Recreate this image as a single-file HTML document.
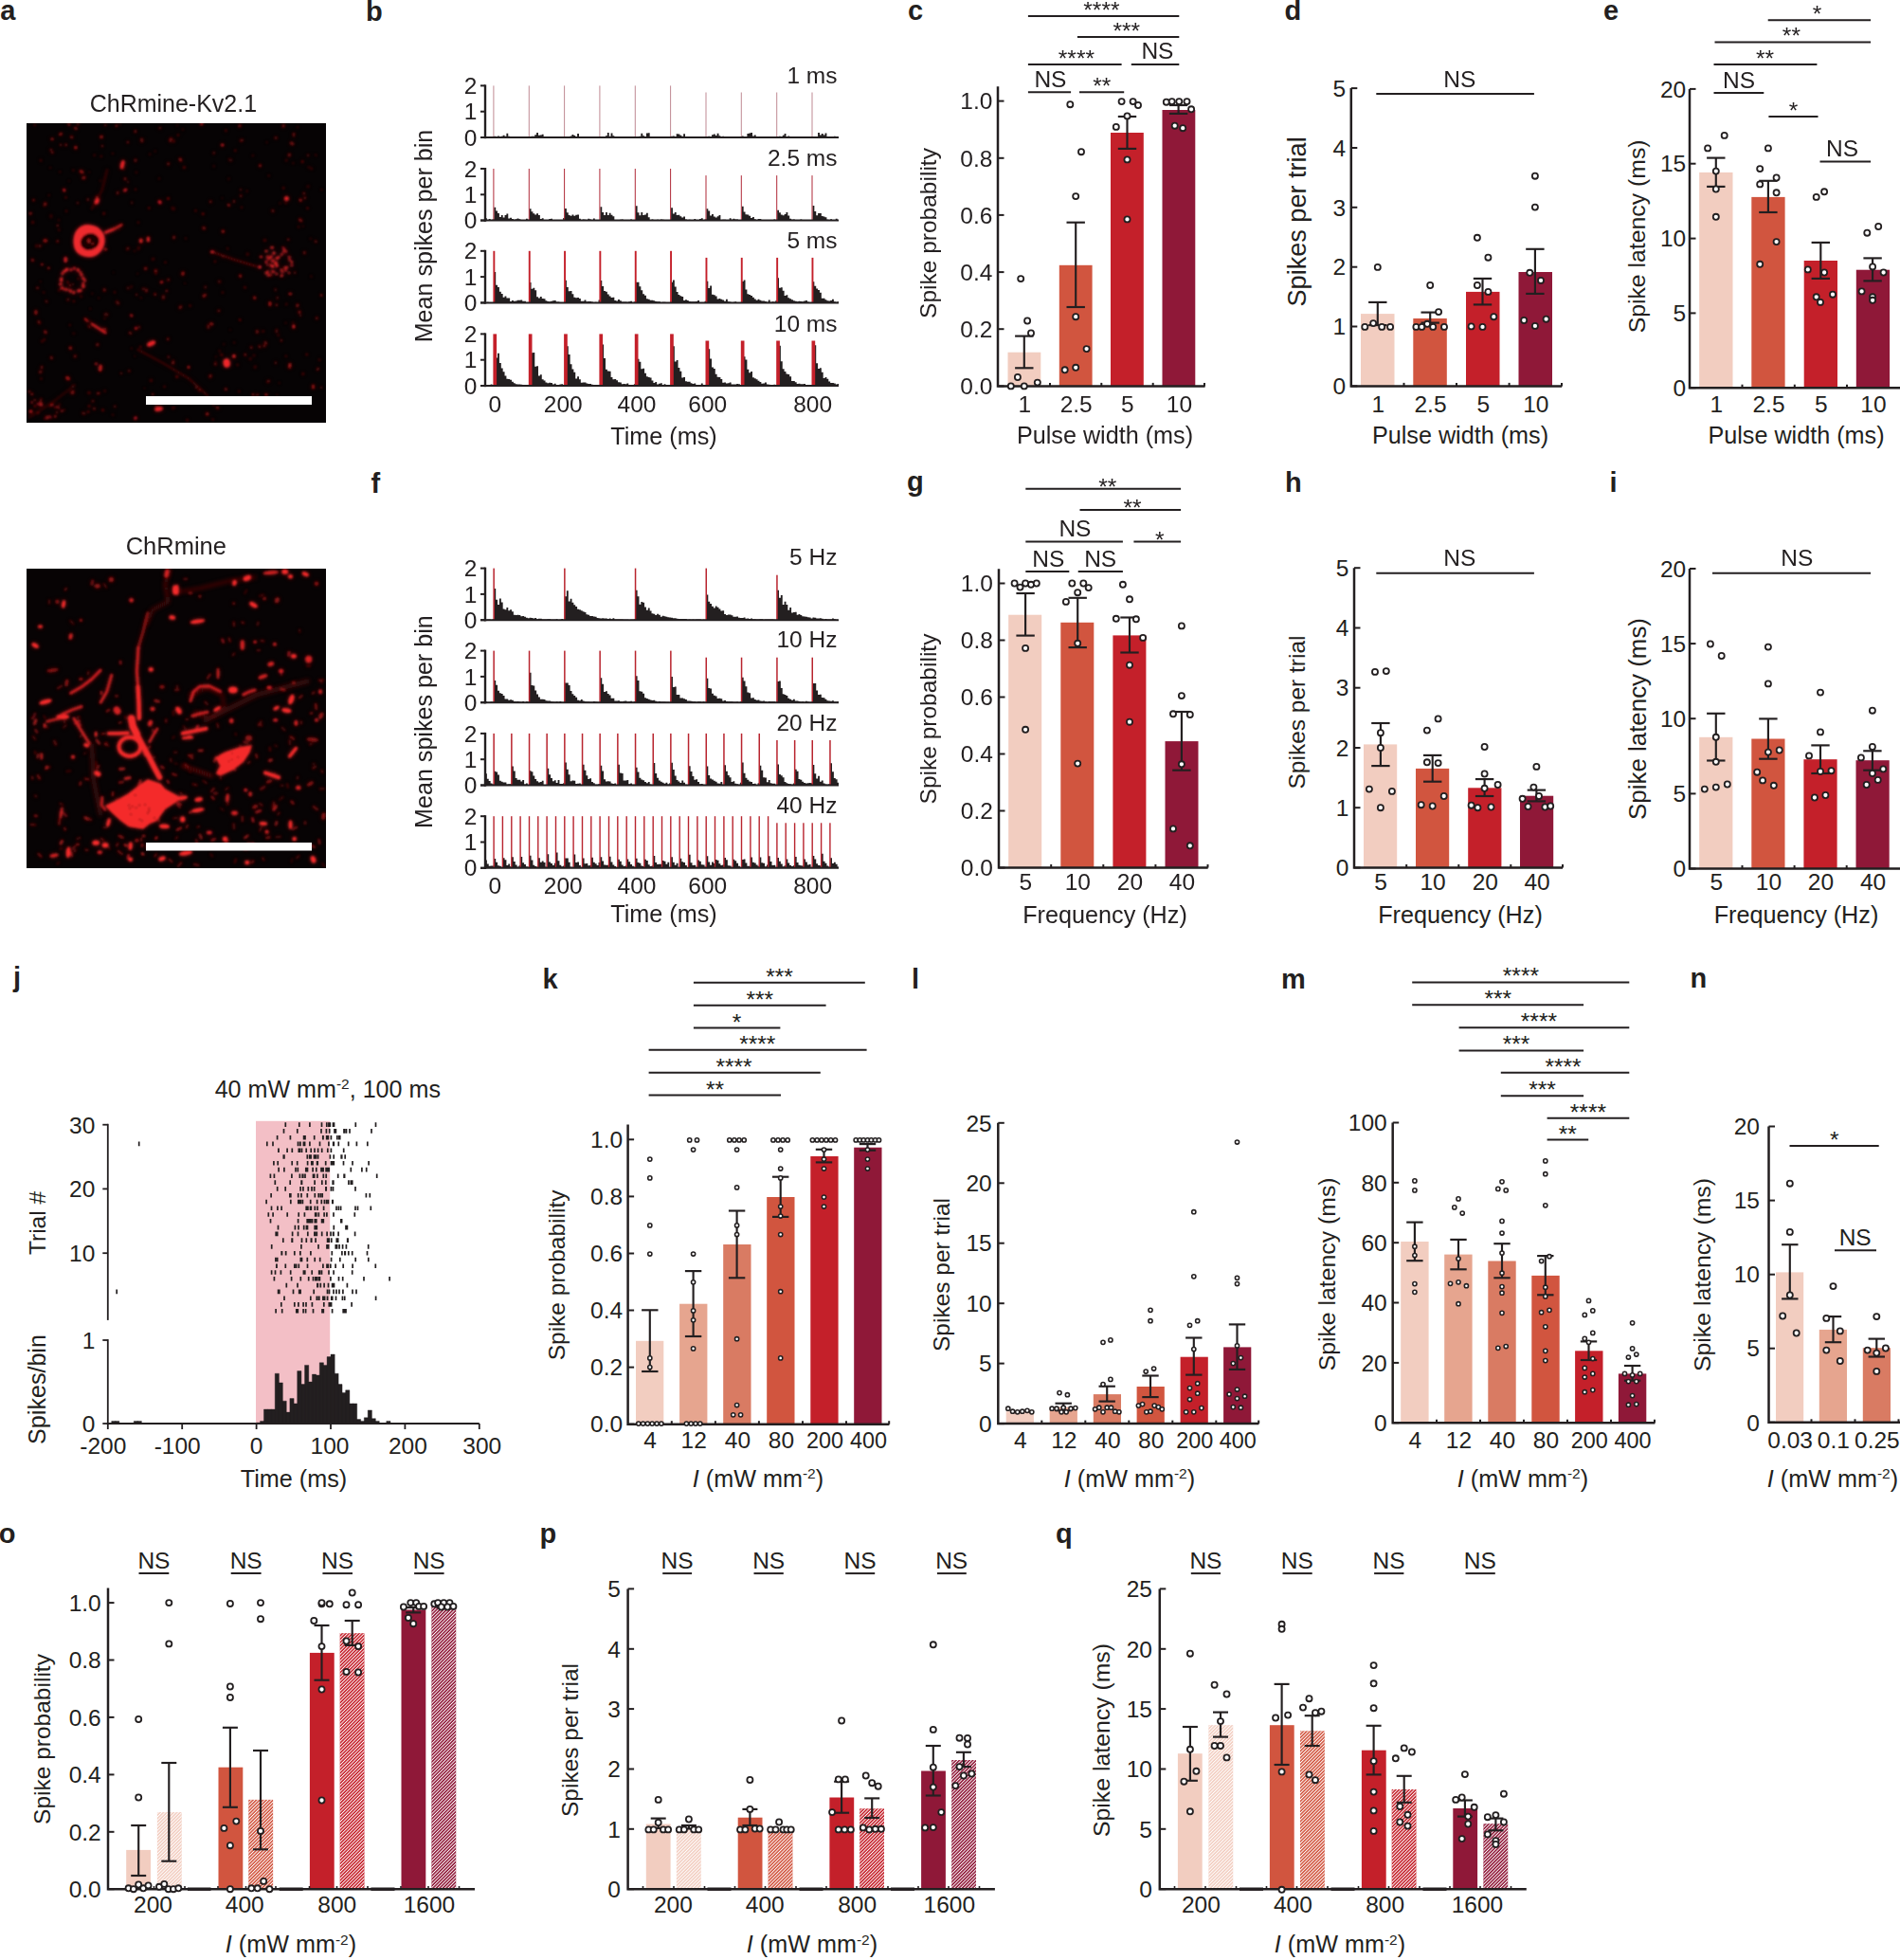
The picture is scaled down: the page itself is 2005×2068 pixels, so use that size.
<!DOCTYPE html>
<html><head><meta charset="utf-8"><title>Figure</title><style>html,body{margin:0;padding:0;background:#fff}svg{display:block}</style></head><body>
<svg width="2005" height="2068" viewBox="0 0 2005 2068" font-family="Liberation Sans, Arial, Helvetica, sans-serif" fill="#231f20">
<defs><pattern id="hatch" width="2.5" height="2.5" patternUnits="userSpaceOnUse" patternTransform="rotate(45)"><rect x="0" y="0" width="0.95" height="2.5" fill="#fff"/></pattern><filter id="bl" x="-5%" y="-5%" width="110%" height="110%"><feGaussianBlur stdDeviation="1.05"/></filter><filter id="bl2" x="-5%" y="-5%" width="110%" height="110%"><feGaussianBlur stdDeviation="2.2"/></filter><clipPath id="c1"><rect x="28" y="130" width="316" height="316"/></clipPath><clipPath id="c2"><rect x="28" y="600" width="316" height="316"/></clipPath></defs>
<text x="0.3" y="21.3" font-size="29" text-anchor="start" font-weight="bold">a</text>
<text x="386" y="21.8" font-size="29" text-anchor="start" font-weight="bold">b</text>
<text x="958" y="21" font-size="29" text-anchor="start" font-weight="bold">c</text>
<text x="1355.5" y="20.6" font-size="29" text-anchor="start" font-weight="bold">d</text>
<text x="1692" y="20.5" font-size="29" text-anchor="start" font-weight="bold">e</text>
<text x="391.5" y="519.7" font-size="29" text-anchor="start" font-weight="bold">f</text>
<text x="957" y="518.3" font-size="29" text-anchor="start" font-weight="bold">g</text>
<text x="1356" y="519.3" font-size="29" text-anchor="start" font-weight="bold">h</text>
<text x="1698.5" y="518.5" font-size="29" text-anchor="start" font-weight="bold">i</text>
<text x="14" y="1041" font-size="29" text-anchor="start" font-weight="bold">j</text>
<text x="572.5" y="1042.7" font-size="29" text-anchor="start" font-weight="bold">k</text>
<text x="962" y="1042.7" font-size="29" text-anchor="start" font-weight="bold">l</text>
<text x="1352" y="1042.7" font-size="29" text-anchor="start" font-weight="bold">m</text>
<text x="1783.5" y="1042.4" font-size="29" text-anchor="start" font-weight="bold">n</text>
<text x="-1.2" y="1627.7" font-size="29" text-anchor="start" font-weight="bold">o</text>
<text x="569.5" y="1627.7" font-size="29" text-anchor="start" font-weight="bold">p</text>
<text x="1114" y="1627.7" font-size="29" text-anchor="start" font-weight="bold">q</text>
<rect x="28" y="130" width="316" height="316" fill="#060304"/>
<g clip-path="url(#c1)"><use href="#im1" filter="url(#bl2)" opacity="0.7"/><g id="im1" filter="url(#bl)">
<ellipse cx="130.4" cy="178.0" rx="1.7" ry="1.4" fill="#7a1010" opacity="0.38" transform="rotate(66 130.4 178.0)"/>
<ellipse cx="187.9" cy="142.5" rx="1.0" ry="1.1" fill="#7a1010" opacity="0.80" transform="rotate(76 187.9 142.5)"/>
<ellipse cx="67.7" cy="200.6" rx="1.7" ry="1.3" fill="#d82024" opacity="0.89" transform="rotate(71 67.7 200.6)"/>
<ellipse cx="43.5" cy="399.6" rx="0.9" ry="1.0" fill="#7a1010" opacity="0.80" transform="rotate(56 43.5 399.6)"/>
<ellipse cx="85.5" cy="312.9" rx="1.7" ry="1.3" fill="#7a1010" opacity="0.38" transform="rotate(11 85.5 312.9)"/>
<ellipse cx="93.4" cy="343.8" rx="1.4" ry="1.1" fill="#7a1010" opacity="0.51" transform="rotate(82 93.4 343.8)"/>
<ellipse cx="277.7" cy="349.6" rx="1.2" ry="0.9" fill="#7a1010" opacity="0.75" transform="rotate(158 277.7 349.6)"/>
<ellipse cx="119.1" cy="437.7" rx="1.1" ry="0.8" fill="#7a1010" opacity="0.62" transform="rotate(27 119.1 437.7)"/>
<ellipse cx="41.2" cy="340.0" rx="2.2" ry="1.5" fill="#7a1010" opacity="0.73" transform="rotate(56 41.2 340.0)"/>
<ellipse cx="215.1" cy="312.3" rx="1.8" ry="1.2" fill="#a81818" opacity="0.72" transform="rotate(85 215.1 312.3)"/>
<ellipse cx="47.9" cy="350.4" rx="2.0" ry="1.3" fill="#d82024" opacity="0.56" transform="rotate(51 47.9 350.4)"/>
<ellipse cx="238.4" cy="137.8" rx="1.0" ry="1.2" fill="#7a1010" opacity="0.77" transform="rotate(11 238.4 137.8)"/>
<ellipse cx="69.5" cy="208.3" rx="0.9" ry="1.1" fill="#a81818" opacity="0.65" transform="rotate(81 69.5 208.3)"/>
<ellipse cx="305.6" cy="387.3" rx="1.8" ry="1.6" fill="#7a1010" opacity="0.84" transform="rotate(65 305.6 387.3)"/>
<ellipse cx="328.9" cy="178.0" rx="0.9" ry="0.9" fill="#7a1010" opacity="0.67" transform="rotate(87 328.9 178.0)"/>
<ellipse cx="111.2" cy="132.0" rx="1.4" ry="1.1" fill="#7a1010" opacity="0.73" transform="rotate(172 111.2 132.0)"/>
<ellipse cx="190.4" cy="324.1" rx="2.1" ry="1.4" fill="#7a1010" opacity="0.83" transform="rotate(140 190.4 324.1)"/>
<ellipse cx="278.8" cy="253.6" rx="1.4" ry="1.1" fill="#7a1010" opacity="0.39" transform="rotate(11 278.8 253.6)"/>
<ellipse cx="94.3" cy="181.6" rx="0.8" ry="1.0" fill="#7a1010" opacity="0.41" transform="rotate(27 94.3 181.6)"/>
<ellipse cx="142.8" cy="138.7" rx="1.4" ry="1.6" fill="#a81818" opacity="0.54" transform="rotate(45 142.8 138.7)"/>
<ellipse cx="143.0" cy="169.2" rx="1.8" ry="1.5" fill="#d82024" opacity="0.40" transform="rotate(87 143.0 169.2)"/>
<ellipse cx="60.9" cy="238.0" rx="0.9" ry="1.0" fill="#a81818" opacity="0.87" transform="rotate(4 60.9 238.0)"/>
<ellipse cx="194.4" cy="176.6" rx="1.5" ry="1.2" fill="#7a1010" opacity="0.82" transform="rotate(176 194.4 176.6)"/>
<ellipse cx="247.0" cy="212.5" rx="1.5" ry="1.1" fill="#7a1010" opacity="0.78" transform="rotate(96 247.0 212.5)"/>
<ellipse cx="132.2" cy="200.6" rx="2.2" ry="1.5" fill="#d82024" opacity="0.80" transform="rotate(145 132.2 200.6)"/>
<ellipse cx="260.7" cy="201.7" rx="1.0" ry="1.2" fill="#7a1010" opacity="0.50" transform="rotate(5 260.7 201.7)"/>
<ellipse cx="110.1" cy="347.6" rx="2.6" ry="1.7" fill="#7a1010" opacity="0.88" transform="rotate(178 110.1 347.6)"/>
<ellipse cx="143.1" cy="199.8" rx="0.9" ry="0.9" fill="#7a1010" opacity="0.85" transform="rotate(112 143.1 199.8)"/>
<ellipse cx="292.1" cy="280.9" rx="1.2" ry="1.4" fill="#a81818" opacity="0.85" transform="rotate(119 292.1 280.9)"/>
<ellipse cx="273.9" cy="365.7" rx="1.7" ry="1.2" fill="#7a1010" opacity="0.79" transform="rotate(60 273.9 365.7)"/>
<ellipse cx="333.2" cy="254.7" rx="1.5" ry="1.1" fill="#d82024" opacity="0.42" transform="rotate(31 333.2 254.7)"/>
<ellipse cx="76.3" cy="414.1" rx="2.2" ry="1.5" fill="#7a1010" opacity="0.71" transform="rotate(176 76.3 414.1)"/>
<ellipse cx="138.7" cy="302.6" rx="1.3" ry="0.8" fill="#7a1010" opacity="0.64" transform="rotate(117 138.7 302.6)"/>
<ellipse cx="321.3" cy="266.6" rx="1.5" ry="1.6" fill="#a81818" opacity="0.51" transform="rotate(45 321.3 266.6)"/>
<ellipse cx="104.3" cy="314.4" rx="0.9" ry="1.0" fill="#7a1010" opacity="0.54" transform="rotate(164 104.3 314.4)"/>
<ellipse cx="172.4" cy="313.4" rx="2.5" ry="1.6" fill="#7a1010" opacity="0.64" transform="rotate(90 172.4 313.4)"/>
<ellipse cx="192.9" cy="136.6" rx="0.9" ry="1.1" fill="#7a1010" opacity="0.44" transform="rotate(144 192.9 136.6)"/>
<ellipse cx="177.2" cy="357.8" rx="1.5" ry="1.3" fill="#7a1010" opacity="0.78" transform="rotate(100 177.2 357.8)"/>
<ellipse cx="62.2" cy="306.2" rx="1.3" ry="0.9" fill="#7a1010" opacity="0.66" transform="rotate(91 62.2 306.2)"/>
<ellipse cx="267.0" cy="416.5" rx="1.4" ry="1.1" fill="#a81818" opacity="0.73" transform="rotate(92 267.0 416.5)"/>
<ellipse cx="170.6" cy="297.7" rx="1.6" ry="1.2" fill="#d82024" opacity="0.87" transform="rotate(158 170.6 297.7)"/>
<ellipse cx="110.2" cy="306.0" rx="1.5" ry="1.6" fill="#a81818" opacity="0.59" transform="rotate(22 110.2 306.0)"/>
<ellipse cx="51.7" cy="206.1" rx="1.1" ry="0.8" fill="#a81818" opacity="0.43" transform="rotate(161 51.7 206.1)"/>
<ellipse cx="253.2" cy="337.5" rx="1.3" ry="0.8" fill="#a81818" opacity="0.87" transform="rotate(40 253.2 337.5)"/>
<ellipse cx="153.7" cy="283.3" rx="1.6" ry="1.7" fill="#a81818" opacity="0.63" transform="rotate(78 153.7 283.3)"/>
<ellipse cx="135.1" cy="192.0" rx="0.8" ry="1.0" fill="#a81818" opacity="0.59" transform="rotate(100 135.1 192.0)"/>
<ellipse cx="34.6" cy="234.6" rx="1.1" ry="1.3" fill="#7a1010" opacity="0.78" transform="rotate(177 34.6 234.6)"/>
<ellipse cx="333.3" cy="163.6" rx="1.4" ry="1.0" fill="#7a1010" opacity="0.42" transform="rotate(49 333.3 163.6)"/>
<ellipse cx="161.2" cy="416.2" rx="1.4" ry="1.5" fill="#7a1010" opacity="0.66" transform="rotate(165 161.2 416.2)"/>
<ellipse cx="248.3" cy="158.8" rx="0.9" ry="0.8" fill="#a81818" opacity="0.87" transform="rotate(13 248.3 158.8)"/>
<ellipse cx="227.6" cy="381.8" rx="0.7" ry="0.8" fill="#a81818" opacity="0.60" transform="rotate(155 227.6 381.8)"/>
<ellipse cx="135.2" cy="303.9" rx="1.5" ry="1.6" fill="#7a1010" opacity="0.48" transform="rotate(95 135.2 303.9)"/>
<ellipse cx="63.2" cy="181.3" rx="0.8" ry="0.8" fill="#7a1010" opacity="0.77" transform="rotate(55 63.2 181.3)"/>
<ellipse cx="119.8" cy="287.4" rx="0.7" ry="0.9" fill="#7a1010" opacity="0.36" transform="rotate(45 119.8 287.4)"/>
<ellipse cx="258.5" cy="303.3" rx="1.4" ry="0.9" fill="#7a1010" opacity="0.80" transform="rotate(19 258.5 303.3)"/>
<ellipse cx="164.3" cy="285.8" rx="1.8" ry="1.5" fill="#7a1010" opacity="0.89" transform="rotate(124 164.3 285.8)"/>
<ellipse cx="136.3" cy="391.4" rx="1.6" ry="1.4" fill="#a81818" opacity="0.38" transform="rotate(63 136.3 391.4)"/>
<ellipse cx="69.6" cy="152.9" rx="1.3" ry="1.4" fill="#7a1010" opacity="0.81" transform="rotate(15 69.6 152.9)"/>
<ellipse cx="301.6" cy="340.7" rx="1.0" ry="1.0" fill="#7a1010" opacity="0.44" transform="rotate(83 301.6 340.7)"/>
<ellipse cx="168.6" cy="213.2" rx="2.1" ry="1.7" fill="#d82024" opacity="0.88" transform="rotate(44 168.6 213.2)"/>
<ellipse cx="125.9" cy="242.4" rx="0.8" ry="0.7" fill="#7a1010" opacity="0.46" transform="rotate(90 125.9 242.4)"/>
<ellipse cx="187.0" cy="132.3" rx="1.1" ry="1.0" fill="#7a1010" opacity="0.36" transform="rotate(8 187.0 132.3)"/>
<ellipse cx="124.2" cy="203.6" rx="1.8" ry="1.3" fill="#7a1010" opacity="0.74" transform="rotate(118 124.2 203.6)"/>
<ellipse cx="304.3" cy="252.7" rx="0.9" ry="1.0" fill="#d82024" opacity="0.70" transform="rotate(130 304.3 252.7)"/>
<ellipse cx="42.7" cy="392.3" rx="2.2" ry="1.6" fill="#a81818" opacity="0.43" transform="rotate(146 42.7 392.3)"/>
<ellipse cx="193.0" cy="288.7" rx="2.2" ry="1.5" fill="#a81818" opacity="0.84" transform="rotate(105 193.0 288.7)"/>
<ellipse cx="242.8" cy="347.9" rx="0.8" ry="0.9" fill="#7a1010" opacity="0.41" transform="rotate(65 242.8 347.9)"/>
<ellipse cx="290.7" cy="305.7" rx="1.8" ry="1.3" fill="#a81818" opacity="0.35" transform="rotate(88 290.7 305.7)"/>
<ellipse cx="278.8" cy="365.1" rx="1.6" ry="1.2" fill="#7a1010" opacity="0.76" transform="rotate(12 278.8 365.1)"/>
<ellipse cx="107.9" cy="154.1" rx="0.9" ry="1.0" fill="#a81818" opacity="0.89" transform="rotate(133 107.9 154.1)"/>
<ellipse cx="183.6" cy="250.5" rx="1.7" ry="1.2" fill="#a81818" opacity="0.70" transform="rotate(111 183.6 250.5)"/>
<ellipse cx="53.2" cy="176.9" rx="1.0" ry="1.0" fill="#a81818" opacity="0.36" transform="rotate(102 53.2 176.9)"/>
<ellipse cx="47.9" cy="214.9" rx="1.8" ry="1.4" fill="#a81818" opacity="0.63" transform="rotate(52 47.9 214.9)"/>
<ellipse cx="174.5" cy="276.8" rx="0.8" ry="0.8" fill="#a81818" opacity="0.86" transform="rotate(176 174.5 276.8)"/>
<ellipse cx="34.4" cy="274.5" rx="1.8" ry="1.5" fill="#d82024" opacity="0.47" transform="rotate(48 34.4 274.5)"/>
<ellipse cx="325.1" cy="196.7" rx="1.6" ry="1.3" fill="#7a1010" opacity="0.42" transform="rotate(171 325.1 196.7)"/>
<ellipse cx="285.8" cy="290.1" rx="1.6" ry="1.6" fill="#a81818" opacity="0.62" transform="rotate(162 285.8 290.1)"/>
<ellipse cx="36.7" cy="131.9" rx="1.2" ry="1.2" fill="#7a1010" opacity="0.54" transform="rotate(25 36.7 131.9)"/>
<ellipse cx="127.9" cy="393.9" rx="1.0" ry="0.7" fill="#a81818" opacity="0.86" transform="rotate(22 127.9 393.9)"/>
<ellipse cx="252.2" cy="413.1" rx="1.1" ry="1.0" fill="#7a1010" opacity="0.67" transform="rotate(180 252.2 413.1)"/>
<ellipse cx="141.9" cy="264.8" rx="0.9" ry="1.0" fill="#7a1010" opacity="0.51" transform="rotate(150 141.9 264.8)"/>
<ellipse cx="321.9" cy="208.8" rx="0.9" ry="1.0" fill="#7a1010" opacity="0.88" transform="rotate(67 321.9 208.8)"/>
<ellipse cx="305.9" cy="385.0" rx="2.1" ry="1.3" fill="#d82024" opacity="0.75" transform="rotate(99 305.9 385.0)"/>
<ellipse cx="44.4" cy="360.1" rx="1.5" ry="1.2" fill="#a81818" opacity="0.38" transform="rotate(52 44.4 360.1)"/>
<ellipse cx="319.2" cy="170.6" rx="1.2" ry="1.2" fill="#7a1010" opacity="0.89" transform="rotate(133 319.2 170.6)"/>
<ellipse cx="110.4" cy="336.2" rx="1.1" ry="1.0" fill="#7a1010" opacity="0.44" transform="rotate(30 110.4 336.2)"/>
<ellipse cx="94.0" cy="414.5" rx="1.8" ry="1.2" fill="#7a1010" opacity="0.60" transform="rotate(179 94.0 414.5)"/>
<ellipse cx="72.7" cy="191.0" rx="0.7" ry="0.8" fill="#7a1010" opacity="0.49" transform="rotate(43 72.7 191.0)"/>
<ellipse cx="207.3" cy="408.6" rx="1.6" ry="1.4" fill="#7a1010" opacity="0.56" transform="rotate(94 207.3 408.6)"/>
<ellipse cx="134.9" cy="150.2" rx="0.9" ry="1.0" fill="#d82024" opacity="0.70" transform="rotate(91 134.9 150.2)"/>
<ellipse cx="299.2" cy="198.4" rx="1.1" ry="1.0" fill="#7a1010" opacity="0.87" transform="rotate(80 299.2 198.4)"/>
<ellipse cx="294.7" cy="404.1" rx="1.0" ry="0.7" fill="#7a1010" opacity="0.61" transform="rotate(161 294.7 404.1)"/>
<ellipse cx="212.8" cy="130.8" rx="1.6" ry="1.1" fill="#d82024" opacity="0.88" transform="rotate(154 212.8 130.8)"/>
<ellipse cx="106.8" cy="164.9" rx="1.1" ry="0.9" fill="#7a1010" opacity="0.75" transform="rotate(169 106.8 164.9)"/>
<ellipse cx="231.7" cy="370.3" rx="1.0" ry="1.2" fill="#7a1010" opacity="0.48" transform="rotate(141 231.7 370.3)"/>
<ellipse cx="317.0" cy="332.9" rx="1.0" ry="1.0" fill="#7a1010" opacity="0.73" transform="rotate(115 317.0 332.9)"/>
<ellipse cx="64.1" cy="152.8" rx="1.4" ry="1.2" fill="#7a1010" opacity="0.68" transform="rotate(40 64.1 152.8)"/>
<ellipse cx="32.2" cy="225.2" rx="1.5" ry="1.2" fill="#d82024" opacity="0.61" transform="rotate(159 32.2 225.2)"/>
<ellipse cx="102.5" cy="208.1" rx="1.7" ry="1.7" fill="#a81818" opacity="0.62" transform="rotate(4 102.5 208.1)"/>
<ellipse cx="240.2" cy="262.3" rx="1.5" ry="1.0" fill="#a81818" opacity="0.37" transform="rotate(41 240.2 262.3)"/>
<ellipse cx="134.8" cy="262.4" rx="2.0" ry="1.4" fill="#7a1010" opacity="0.63" transform="rotate(133 134.8 262.4)"/>
<ellipse cx="93.2" cy="434.5" rx="1.0" ry="1.0" fill="#a81818" opacity="0.77" transform="rotate(40 93.2 434.5)"/>
<ellipse cx="121.3" cy="428.9" rx="1.2" ry="1.2" fill="#7a1010" opacity="0.72" transform="rotate(75 121.3 428.9)"/>
<ellipse cx="326.1" cy="176.6" rx="1.7" ry="1.1" fill="#7a1010" opacity="0.38" transform="rotate(26 326.1 176.6)"/>
<ellipse cx="47.8" cy="253.9" rx="2.2" ry="1.6" fill="#a81818" opacity="0.86" transform="rotate(180 47.8 253.9)"/>
<ellipse cx="132.1" cy="188.8" rx="1.4" ry="1.6" fill="#a81818" opacity="0.56" transform="rotate(120 132.1 188.8)"/>
<ellipse cx="146.0" cy="234.6" rx="0.9" ry="0.9" fill="#7a1010" opacity="0.88" transform="rotate(63 146.0 234.6)"/>
<ellipse cx="67.7" cy="432.7" rx="1.3" ry="0.9" fill="#7a1010" opacity="0.59" transform="rotate(148 67.7 432.7)"/>
<ellipse cx="44.4" cy="279.0" rx="1.0" ry="1.1" fill="#d82024" opacity="0.84" transform="rotate(66 44.4 279.0)"/>
<ellipse cx="38.4" cy="259.4" rx="1.3" ry="1.5" fill="#a81818" opacity="0.38" transform="rotate(6 38.4 259.4)"/>
<ellipse cx="317.1" cy="211.2" rx="1.6" ry="1.4" fill="#a81818" opacity="0.88" transform="rotate(49 317.1 211.2)"/>
<ellipse cx="222.2" cy="212.8" rx="1.4" ry="1.4" fill="#7a1010" opacity="0.77" transform="rotate(1 222.2 212.8)"/>
<ellipse cx="316.0" cy="329.3" rx="1.6" ry="1.6" fill="#7a1010" opacity="0.88" transform="rotate(86 316.0 329.3)"/>
<ellipse cx="327.7" cy="251.8" rx="1.1" ry="1.0" fill="#7a1010" opacity="0.45" transform="rotate(167 327.7 251.8)"/>
<ellipse cx="280.3" cy="362.0" rx="2.0" ry="1.5" fill="#a81818" opacity="0.53" transform="rotate(59 280.3 362.0)"/>
<ellipse cx="142.3" cy="375.7" rx="1.1" ry="0.8" fill="#7a1010" opacity="0.39" transform="rotate(45 142.3 375.7)"/>
<ellipse cx="39.6" cy="303.8" rx="1.5" ry="1.0" fill="#d82024" opacity="0.50" transform="rotate(178 39.6 303.8)"/>
<ellipse cx="55.3" cy="160.9" rx="1.4" ry="1.2" fill="#a81818" opacity="0.58" transform="rotate(42 55.3 160.9)"/>
<ellipse cx="223.2" cy="341.8" rx="1.9" ry="1.4" fill="#a81818" opacity="0.81" transform="rotate(22 223.2 341.8)"/>
<ellipse cx="121.0" cy="308.3" rx="1.0" ry="1.1" fill="#a81818" opacity="0.48" transform="rotate(45 121.0 308.3)"/>
<ellipse cx="77.0" cy="407.6" rx="1.4" ry="1.3" fill="#7a1010" opacity="0.63" transform="rotate(179 77.0 407.6)"/>
<ellipse cx="101.4" cy="383.9" rx="1.2" ry="1.4" fill="#d82024" opacity="0.80" transform="rotate(85 101.4 383.9)"/>
<ellipse cx="292.2" cy="417.1" rx="0.7" ry="0.7" fill="#7a1010" opacity="0.89" transform="rotate(34 292.2 417.1)"/>
<ellipse cx="211.6" cy="422.0" rx="1.2" ry="1.1" fill="#a81818" opacity="0.78" transform="rotate(47 211.6 422.0)"/>
<ellipse cx="325.1" cy="163.9" rx="1.3" ry="1.3" fill="#a81818" opacity="0.43" transform="rotate(66 325.1 163.9)"/>
<ellipse cx="92.8" cy="210.6" rx="1.3" ry="1.3" fill="#a81818" opacity="0.53" transform="rotate(2 92.8 210.6)"/>
<ellipse cx="241.4" cy="188.7" rx="1.5" ry="1.0" fill="#7a1010" opacity="0.38" transform="rotate(99 241.4 188.7)"/>
<ellipse cx="60.7" cy="254.5" rx="1.1" ry="1.3" fill="#a81818" opacity="0.73" transform="rotate(29 60.7 254.5)"/>
<ellipse cx="157.3" cy="219.5" rx="1.1" ry="1.0" fill="#d82024" opacity="0.55" transform="rotate(102 157.3 219.5)"/>
<ellipse cx="159.4" cy="401.4" rx="1.6" ry="1.7" fill="#7a1010" opacity="0.46" transform="rotate(131 159.4 401.4)"/>
<ellipse cx="30.8" cy="413.1" rx="1.3" ry="1.1" fill="#a81818" opacity="0.60" transform="rotate(159 30.8 413.1)"/>
<ellipse cx="79.9" cy="135.4" rx="1.9" ry="1.3" fill="#a81818" opacity="0.69" transform="rotate(16 79.9 135.4)"/>
<ellipse cx="145.1" cy="288.7" rx="1.0" ry="0.8" fill="#7a1010" opacity="0.41" transform="rotate(167 145.1 288.7)"/>
<ellipse cx="182.6" cy="382.8" rx="1.5" ry="1.7" fill="#7a1010" opacity="0.89" transform="rotate(170 182.6 382.8)"/>
<ellipse cx="180.1" cy="147.5" rx="2.5" ry="1.6" fill="#7a1010" opacity="0.80" transform="rotate(112 180.1 147.5)"/>
<ellipse cx="79.1" cy="376.8" rx="1.4" ry="0.9" fill="#7a1010" opacity="0.45" transform="rotate(149 79.1 376.8)"/>
<ellipse cx="97.3" cy="255.9" rx="1.1" ry="1.2" fill="#7a1010" opacity="0.75" transform="rotate(44 97.3 255.9)"/>
<ellipse cx="310.0" cy="143.6" rx="1.0" ry="1.3" fill="#a81818" opacity="0.41" transform="rotate(151 310.0 143.6)"/>
<ellipse cx="216.7" cy="303.0" rx="1.5" ry="1.3" fill="#7a1010" opacity="0.58" transform="rotate(105 216.7 303.0)"/>
<ellipse cx="235.3" cy="270.7" rx="1.5" ry="1.1" fill="#7a1010" opacity="0.48" transform="rotate(88 235.3 270.7)"/>
<ellipse cx="268.1" cy="375.0" rx="1.4" ry="1.2" fill="#7a1010" opacity="0.42" transform="rotate(19 268.1 375.0)"/>
<ellipse cx="163.8" cy="159.5" rx="1.0" ry="1.1" fill="#7a1010" opacity="0.40" transform="rotate(115 163.8 159.5)"/>
<ellipse cx="258.7" cy="374.3" rx="1.5" ry="1.2" fill="#7a1010" opacity="0.87" transform="rotate(68 258.7 374.3)"/>
<ellipse cx="71.6" cy="399.1" rx="2.5" ry="1.7" fill="#a81818" opacity="0.89" transform="rotate(35 71.6 399.1)"/>
<ellipse cx="183.0" cy="430.3" rx="2.3" ry="1.6" fill="#7a1010" opacity="0.39" transform="rotate(168 183.0 430.3)"/>
<ellipse cx="138.8" cy="367.6" rx="0.9" ry="0.9" fill="#a81818" opacity="0.43" transform="rotate(147 138.8 367.6)"/>
<ellipse cx="186.2" cy="418.8" rx="1.1" ry="0.9" fill="#7a1010" opacity="0.37" transform="rotate(57 186.2 418.8)"/>
<ellipse cx="86.0" cy="181.2" rx="2.5" ry="1.6" fill="#a81818" opacity="0.78" transform="rotate(30 86.0 181.2)"/>
<ellipse cx="65.0" cy="296.9" rx="2.0" ry="1.3" fill="#7a1010" opacity="0.67" transform="rotate(100 65.0 296.9)"/>
<ellipse cx="305.3" cy="163.5" rx="1.9" ry="1.7" fill="#a81818" opacity="0.50" transform="rotate(144 305.3 163.5)"/>
<ellipse cx="339.1" cy="311.5" rx="1.2" ry="1.1" fill="#a81818" opacity="0.76" transform="rotate(32 339.1 311.5)"/>
<ellipse cx="44.1" cy="387.5" rx="1.5" ry="1.0" fill="#a81818" opacity="0.72" transform="rotate(105 44.1 387.5)"/>
<ellipse cx="126.9" cy="131.3" rx="0.9" ry="0.7" fill="#7a1010" opacity="0.63" transform="rotate(78 126.9 131.3)"/>
<ellipse cx="309.4" cy="172.1" rx="0.8" ry="0.9" fill="#a81818" opacity="0.55" transform="rotate(0 309.4 172.1)"/>
<ellipse cx="62.3" cy="242.6" rx="1.2" ry="0.9" fill="#7a1010" opacity="0.69" transform="rotate(37 62.3 242.6)"/>
<ellipse cx="177.7" cy="172.9" rx="1.5" ry="1.6" fill="#7a1010" opacity="0.70" transform="rotate(17 177.7 172.9)"/>
<ellipse cx="301.8" cy="375.7" rx="0.9" ry="1.1" fill="#7a1010" opacity="0.66" transform="rotate(116 301.8 375.7)"/>
<ellipse cx="138.7" cy="332.9" rx="1.6" ry="1.1" fill="#d82024" opacity="0.85" transform="rotate(45 138.7 332.9)"/>
<ellipse cx="42.7" cy="297.2" rx="0.9" ry="1.1" fill="#7a1010" opacity="0.36" transform="rotate(140 42.7 297.2)"/>
<ellipse cx="201.5" cy="425.4" rx="1.1" ry="0.8" fill="#7a1010" opacity="0.70" transform="rotate(91 201.5 425.4)"/>
<ellipse cx="283.7" cy="185.4" rx="0.8" ry="1.0" fill="#7a1010" opacity="0.78" transform="rotate(160 283.7 185.4)"/>
<ellipse cx="253.0" cy="132.7" rx="1.8" ry="1.5" fill="#a81818" opacity="0.60" transform="rotate(134 253.0 132.7)"/>
<ellipse cx="99.7" cy="163.7" rx="1.0" ry="0.9" fill="#7a1010" opacity="0.73" transform="rotate(135 99.7 163.7)"/>
<ellipse cx="293.7" cy="353.6" rx="1.1" ry="1.0" fill="#7a1010" opacity="0.64" transform="rotate(142 293.7 353.6)"/>
<ellipse cx="112.0" cy="331.8" rx="2.5" ry="1.7" fill="#7a1010" opacity="0.49" transform="rotate(3 112.0 331.8)"/>
<ellipse cx="102.9" cy="363.7" rx="1.7" ry="1.6" fill="#a81818" opacity="0.53" transform="rotate(158 102.9 363.7)"/>
<ellipse cx="103.8" cy="415.0" rx="1.8" ry="1.3" fill="#a81818" opacity="0.61" transform="rotate(176 103.8 415.0)"/>
<ellipse cx="291.9" cy="349.2" rx="2.1" ry="1.6" fill="#7a1010" opacity="0.52" transform="rotate(103 291.9 349.2)"/>
<ellipse cx="95.3" cy="325.7" rx="0.7" ry="0.8" fill="#d82024" opacity="0.41" transform="rotate(5 95.3 325.7)"/>
<ellipse cx="319.9" cy="238.7" rx="0.7" ry="0.8" fill="#7a1010" opacity="0.70" transform="rotate(125 319.9 238.7)"/>
<ellipse cx="247.2" cy="361.5" rx="0.8" ry="0.8" fill="#7a1010" opacity="0.80" transform="rotate(147 247.2 361.5)"/>
<ellipse cx="308.1" cy="151.4" rx="2.4" ry="1.6" fill="#d82024" opacity="0.46" transform="rotate(19 308.1 151.4)"/>
<ellipse cx="64.0" cy="141.5" rx="2.0" ry="1.5" fill="#a81818" opacity="0.70" transform="rotate(149 64.0 141.5)"/>
<ellipse cx="118.9" cy="162.0" rx="0.8" ry="0.8" fill="#a81818" opacity="0.58" transform="rotate(57 118.9 162.0)"/>
<ellipse cx="35.5" cy="211.1" rx="1.1" ry="1.0" fill="#a81818" opacity="0.88" transform="rotate(58 35.5 211.1)"/>
<ellipse cx="186.7" cy="397.4" rx="1.5" ry="1.3" fill="#7a1010" opacity="0.78" transform="rotate(79 186.7 397.4)"/>
<ellipse cx="137.5" cy="351.4" rx="1.8" ry="1.2" fill="#7a1010" opacity="0.80" transform="rotate(16 137.5 351.4)"/>
<ellipse cx="82.3" cy="131.1" rx="1.4" ry="0.9" fill="#a81818" opacity="0.62" transform="rotate(1 82.3 131.1)"/>
<ellipse cx="182.9" cy="380.3" rx="1.0" ry="0.9" fill="#7a1010" opacity="0.49" transform="rotate(150 182.9 380.3)"/>
<ellipse cx="324.5" cy="219.6" rx="1.1" ry="0.9" fill="#a81818" opacity="0.70" transform="rotate(20 324.5 219.6)"/>
<ellipse cx="54.3" cy="377.5" rx="1.8" ry="1.4" fill="#a81818" opacity="0.57" transform="rotate(64 54.3 377.5)"/>
<ellipse cx="152.5" cy="409.6" rx="0.6" ry="0.8" fill="#a81818" opacity="0.49" transform="rotate(37 152.5 409.6)"/>
<ellipse cx="311.2" cy="287.7" rx="1.1" ry="1.1" fill="#a81818" opacity="0.64" transform="rotate(83 311.2 287.7)"/>
<ellipse cx="265.2" cy="366.6" rx="1.4" ry="1.3" fill="#7a1010" opacity="0.81" transform="rotate(28 265.2 366.6)"/>
<ellipse cx="236.3" cy="363.1" rx="1.2" ry="0.9" fill="#7a1010" opacity="0.42" transform="rotate(104 236.3 363.1)"/>
<ellipse cx="173.6" cy="407.9" rx="1.0" ry="0.9" fill="#7a1010" opacity="0.81" transform="rotate(127 173.6 407.9)"/>
<ellipse cx="77.4" cy="179.6" rx="1.2" ry="0.9" fill="#7a1010" opacity="0.53" transform="rotate(29 77.4 179.6)"/>
<ellipse cx="88.2" cy="436.1" rx="2.2" ry="1.4" fill="#7a1010" opacity="0.56" transform="rotate(18 88.2 436.1)"/>
<ellipse cx="337.1" cy="379.7" rx="1.4" ry="1.4" fill="#7a1010" opacity="0.41" transform="rotate(115 337.1 379.7)"/>
<ellipse cx="93.6" cy="252.4" rx="1.1" ry="0.7" fill="#7a1010" opacity="0.63" transform="rotate(125 93.6 252.4)"/>
<ellipse cx="227.0" cy="275.8" rx="0.9" ry="0.8" fill="#a81818" opacity="0.85" transform="rotate(133 227.0 275.8)"/>
<ellipse cx="163.6" cy="310.5" rx="1.4" ry="1.4" fill="#7a1010" opacity="0.83" transform="rotate(130 163.6 310.5)"/>
<ellipse cx="271.4" cy="350.0" rx="2.0" ry="1.6" fill="#a81818" opacity="0.52" transform="rotate(82 271.4 350.0)"/>
<ellipse cx="225.7" cy="161.4" rx="1.5" ry="1.1" fill="#a81818" opacity="0.49" transform="rotate(113 225.7 161.4)"/>
<ellipse cx="161.6" cy="273.3" rx="1.8" ry="1.3" fill="#7a1010" opacity="0.45" transform="rotate(167 161.6 273.3)"/>
<ellipse cx="233.9" cy="374.4" rx="1.7" ry="1.1" fill="#7a1010" opacity="0.65" transform="rotate(7 233.9 374.4)"/>
<ellipse cx="79.3" cy="375.6" rx="1.4" ry="1.6" fill="#7a1010" opacity="0.65" transform="rotate(103 79.3 375.6)"/>
<ellipse cx="253.6" cy="291.1" rx="1.6" ry="1.3" fill="#a81818" opacity="0.87" transform="rotate(74 253.6 291.1)"/>
<ellipse cx="94.7" cy="345.1" rx="1.0" ry="1.1" fill="#a81818" opacity="0.55" transform="rotate(177 94.7 345.1)"/>
<ellipse cx="46.7" cy="216.7" rx="1.2" ry="1.1" fill="#7a1010" opacity="0.73" transform="rotate(76 46.7 216.7)"/>
<ellipse cx="139.2" cy="213.8" rx="1.4" ry="0.9" fill="#a81818" opacity="0.47" transform="rotate(95 139.2 213.8)"/>
<ellipse cx="280.0" cy="253.5" rx="1.3" ry="0.9" fill="#7a1010" opacity="0.70" transform="rotate(146 280.0 253.5)"/>
<ellipse cx="175.9" cy="306.8" rx="1.0" ry="0.9" fill="#d82024" opacity="0.80" transform="rotate(115 175.9 306.8)"/>
<ellipse cx="284.6" cy="277.3" rx="0.9" ry="1.0" fill="#7a1010" opacity="0.55" transform="rotate(150 284.6 277.3)"/>
<ellipse cx="295.4" cy="214.5" rx="1.2" ry="1.1" fill="#7a1010" opacity="0.35" transform="rotate(33 295.4 214.5)"/>
<ellipse cx="255.0" cy="218.8" rx="1.1" ry="0.9" fill="#7a1010" opacity="0.70" transform="rotate(77 255.0 218.8)"/>
<ellipse cx="235.4" cy="244.2" rx="1.4" ry="1.6" fill="#a81818" opacity="0.85" transform="rotate(149 235.4 244.2)"/>
<ellipse cx="274.5" cy="174.7" rx="1.2" ry="1.5" fill="#a81818" opacity="0.87" transform="rotate(2 274.5 174.7)"/>
<ellipse cx="234.4" cy="209.0" rx="0.8" ry="0.8" fill="#7a1010" opacity="0.54" transform="rotate(140 234.4 209.0)"/>
<ellipse cx="76.8" cy="413.9" rx="2.3" ry="1.5" fill="#7a1010" opacity="0.78" transform="rotate(110 76.8 413.9)"/>
<ellipse cx="238.3" cy="410.7" rx="1.4" ry="1.5" fill="#a81818" opacity="0.64" transform="rotate(125 238.3 410.7)"/>
<ellipse cx="261.3" cy="268.1" rx="1.6" ry="1.6" fill="#7a1010" opacity="0.43" transform="rotate(42 261.3 268.1)"/>
<ellipse cx="183.4" cy="149.0" rx="1.4" ry="1.2" fill="#7a1010" opacity="0.65" transform="rotate(90 183.4 149.0)"/>
<ellipse cx="299.2" cy="132.8" rx="1.9" ry="1.5" fill="#7a1010" opacity="0.81" transform="rotate(120 299.2 132.8)"/>
<ellipse cx="146.4" cy="261.9" rx="2.2" ry="1.7" fill="#7a1010" opacity="0.37" transform="rotate(115 146.4 261.9)"/>
<ellipse cx="219.9" cy="344.5" rx="2.6" ry="1.6" fill="#7a1010" opacity="0.62" transform="rotate(92 219.9 344.5)"/>
<ellipse cx="310.0" cy="141.4" rx="1.5" ry="1.4" fill="#a81818" opacity="0.55" transform="rotate(155 310.0 141.4)"/>
<ellipse cx="177.6" cy="295.3" rx="1.7" ry="1.5" fill="#7a1010" opacity="0.65" transform="rotate(76 177.6 295.3)"/>
<ellipse cx="287.9" cy="222.5" rx="1.8" ry="1.5" fill="#7a1010" opacity="0.63" transform="rotate(49 287.9 222.5)"/>
<ellipse cx="334.3" cy="335.7" rx="1.6" ry="1.5" fill="#7a1010" opacity="0.67" transform="rotate(54 334.3 335.7)"/>
<ellipse cx="227.8" cy="376.3" rx="1.1" ry="0.7" fill="#a81818" opacity="0.38" transform="rotate(98 227.8 376.3)"/>
<ellipse cx="123.0" cy="132.7" rx="1.1" ry="0.9" fill="#d82024" opacity="0.78" transform="rotate(118 123.0 132.7)"/>
<ellipse cx="313.9" cy="322.3" rx="1.8" ry="1.3" fill="#a81818" opacity="0.72" transform="rotate(107 313.9 322.3)"/>
<ellipse cx="95.5" cy="339.6" rx="1.0" ry="1.2" fill="#a81818" opacity="0.37" transform="rotate(33 95.5 339.6)"/>
<ellipse cx="271.5" cy="417.0" rx="2.0" ry="1.4" fill="#7a1010" opacity="0.66" transform="rotate(142 271.5 417.0)"/>
<ellipse cx="109.7" cy="225.3" rx="1.3" ry="1.1" fill="#7a1010" opacity="0.86" transform="rotate(116 109.7 225.3)"/>
<ellipse cx="46.1" cy="308.5" rx="1.1" ry="0.7" fill="#7a1010" opacity="0.86" transform="rotate(104 46.1 308.5)"/>
<ellipse cx="168.8" cy="135.2" rx="1.7" ry="1.1" fill="#7a1010" opacity="0.61" transform="rotate(177 168.8 135.2)"/>
<ellipse cx="158.1" cy="162.7" rx="1.2" ry="1.3" fill="#7a1010" opacity="0.35" transform="rotate(3 158.1 162.7)"/>
<ellipse cx="243.1" cy="168.8" rx="2.5" ry="1.7" fill="#7a1010" opacity="0.36" transform="rotate(23 243.1 168.8)"/>
<ellipse cx="254.2" cy="206.6" rx="1.2" ry="1.4" fill="#7a1010" opacity="0.74" transform="rotate(139 254.2 206.6)"/>
<ellipse cx="296.9" cy="359.3" rx="1.1" ry="0.8" fill="#a81818" opacity="0.86" transform="rotate(83 296.9 359.3)"/>
<ellipse cx="108.5" cy="432.7" rx="1.2" ry="1.4" fill="#7a1010" opacity="0.80" transform="rotate(117 108.5 432.7)"/>
<ellipse cx="53.9" cy="228.2" rx="2.1" ry="1.4" fill="#7a1010" opacity="0.38" transform="rotate(88 53.9 228.2)"/>
<ellipse cx="144.1" cy="310.8" rx="1.0" ry="1.1" fill="#a81818" opacity="0.55" transform="rotate(144 144.1 310.8)"/>
<ellipse cx="230.9" cy="327.9" rx="1.6" ry="1.1" fill="#7a1010" opacity="0.78" transform="rotate(170 230.9 327.9)"/>
<ellipse cx="206.5" cy="222.3" rx="1.0" ry="0.8" fill="#d82024" opacity="0.53" transform="rotate(149 206.5 222.3)"/>
<ellipse cx="218.7" cy="436.8" rx="1.6" ry="1.5" fill="#a81818" opacity="0.84" transform="rotate(77 218.7 436.8)"/>
<ellipse cx="146.9" cy="345.2" rx="1.9" ry="1.3" fill="#a81818" opacity="0.35" transform="rotate(51 146.9 345.2)"/>
<ellipse cx="111.3" cy="263.1" rx="1.9" ry="1.3" fill="#a81818" opacity="0.81" transform="rotate(8 111.3 263.1)"/>
<ellipse cx="283.2" cy="402.3" rx="1.9" ry="1.3" fill="#7a1010" opacity="0.73" transform="rotate(145 283.2 402.3)"/>
<ellipse cx="315.1" cy="239.4" rx="1.1" ry="0.8" fill="#7a1010" opacity="0.76" transform="rotate(36 315.1 239.4)"/>
<ellipse cx="320.7" cy="204.0" rx="1.5" ry="1.3" fill="#a81818" opacity="0.49" transform="rotate(37 320.7 204.0)"/>
<ellipse cx="264.2" cy="378.7" rx="1.7" ry="1.2" fill="#7a1010" opacity="0.48" transform="rotate(139 264.2 378.7)"/>
<ellipse cx="210.5" cy="411.6" rx="1.9" ry="1.6" fill="#7a1010" opacity="0.45" transform="rotate(106 210.5 411.6)"/>
<ellipse cx="89.2" cy="187.3" rx="1.8" ry="1.4" fill="#7a1010" opacity="0.63" transform="rotate(72 89.2 187.3)"/>
<ellipse cx="75.6" cy="144.7" rx="1.5" ry="1.7" fill="#7a1010" opacity="0.78" transform="rotate(114 75.6 144.7)"/>
<ellipse cx="77.9" cy="317.8" rx="0.9" ry="1.0" fill="#7a1010" opacity="0.89" transform="rotate(6 77.9 317.8)"/>
<ellipse cx="300.2" cy="283.0" rx="1.8" ry="1.3" fill="#7a1010" opacity="0.87" transform="rotate(77 300.2 283.0)"/>
<ellipse cx="269.2" cy="387.2" rx="1.4" ry="1.7" fill="#7a1010" opacity="0.45" transform="rotate(36 269.2 387.2)"/>
<ellipse cx="55.1" cy="146.7" rx="1.5" ry="1.3" fill="#a81818" opacity="0.85" transform="rotate(170 55.1 146.7)"/>
<ellipse cx="49.0" cy="318.0" rx="1.7" ry="1.1" fill="#7a1010" opacity="0.66" transform="rotate(46 49.0 318.0)"/>
<ellipse cx="229.6" cy="430.3" rx="1.6" ry="1.4" fill="#7a1010" opacity="0.88" transform="rotate(29 229.6 430.3)"/>
<ellipse cx="339.5" cy="200.2" rx="0.8" ry="0.7" fill="#7a1010" opacity="0.85" transform="rotate(162 339.5 200.2)"/>
<ellipse cx="291.1" cy="145.5" rx="2.0" ry="1.5" fill="#a81818" opacity="0.38" transform="rotate(177 291.1 145.5)"/>
<ellipse cx="74.3" cy="367.2" rx="1.7" ry="1.6" fill="#a81818" opacity="0.77" transform="rotate(106 74.3 367.2)"/>
<ellipse cx="62.0" cy="232.2" rx="1.1" ry="1.0" fill="#7a1010" opacity="0.48" transform="rotate(30 62.0 232.2)"/>
<ellipse cx="73.8" cy="343.0" rx="0.7" ry="0.7" fill="#a81818" opacity="0.86" transform="rotate(6 73.8 343.0)"/>
<ellipse cx="98.0" cy="423.2" rx="1.4" ry="1.6" fill="#a81818" opacity="0.40" transform="rotate(81 98.0 423.2)"/>
<ellipse cx="319.8" cy="394.5" rx="1.4" ry="1.3" fill="#7a1010" opacity="0.61" transform="rotate(148 319.8 394.5)"/>
<ellipse cx="225.7" cy="175.4" rx="1.3" ry="0.9" fill="#7a1010" opacity="0.43" transform="rotate(100 225.7 175.4)"/>
<ellipse cx="301.6" cy="214.2" rx="1.1" ry="1.1" fill="#7a1010" opacity="0.53" transform="rotate(151 301.6 214.2)"/>
<ellipse cx="81.5" cy="284.5" rx="0.9" ry="1.0" fill="#d82024" opacity="0.38" transform="rotate(176 81.5 284.5)"/>
<ellipse cx="309.2" cy="340.0" rx="0.9" ry="0.9" fill="#7a1010" opacity="0.46" transform="rotate(46 309.2 340.0)"/>
<ellipse cx="143.0" cy="441.1" rx="1.5" ry="1.7" fill="#d82024" opacity="0.84" transform="rotate(52 143.0 441.1)"/>
<ellipse cx="46.9" cy="358.2" rx="0.8" ry="1.0" fill="#d82024" opacity="0.54" transform="rotate(145 46.9 358.2)"/>
<ellipse cx="72.8" cy="131.3" rx="1.5" ry="1.5" fill="#7a1010" opacity="0.85" transform="rotate(78 72.8 131.3)"/>
<ellipse cx="97.3" cy="309.7" rx="1.2" ry="0.8" fill="#7a1010" opacity="0.46" transform="rotate(128 97.3 309.7)"/>
<ellipse cx="53.8" cy="158.1" rx="1.3" ry="1.3" fill="#7a1010" opacity="0.69" transform="rotate(37 53.8 158.1)"/>
<ellipse cx="250.6" cy="384.9" rx="1.1" ry="1.3" fill="#7a1010" opacity="0.57" transform="rotate(132 250.6 384.9)"/>
<ellipse cx="254.9" cy="148.1" rx="2.2" ry="1.5" fill="#7a1010" opacity="0.62" transform="rotate(156 254.9 148.1)"/>
<ellipse cx="33.8" cy="415.8" rx="1.2" ry="1.2" fill="#a81818" opacity="0.81" transform="rotate(33 33.8 415.8)"/>
<ellipse cx="143.9" cy="181.9" rx="0.9" ry="1.1" fill="#7a1010" opacity="0.60" transform="rotate(94 143.9 181.9)"/>
<ellipse cx="190.4" cy="168.6" rx="2.1" ry="1.4" fill="#a81818" opacity="0.74" transform="rotate(58 190.4 168.6)"/>
<ellipse cx="148.4" cy="366.0" rx="1.2" ry="0.8" fill="#a81818" opacity="0.63" transform="rotate(89 148.4 366.0)"/>
<ellipse cx="195.1" cy="299.0" rx="0.7" ry="0.7" fill="#d82024" opacity="0.41" transform="rotate(33 195.1 299.0)"/>
<ellipse cx="107.4" cy="386.6" rx="1.0" ry="0.7" fill="#7a1010" opacity="0.36" transform="rotate(35 107.4 386.6)"/>
<ellipse cx="216.7" cy="311.3" rx="1.1" ry="1.2" fill="#a81818" opacity="0.74" transform="rotate(157 216.7 311.3)"/>
<ellipse cx="43.1" cy="169.3" rx="1.2" ry="1.2" fill="#7a1010" opacity="0.57" transform="rotate(22 43.1 169.3)"/>
<ellipse cx="71.8" cy="316.1" rx="2.0" ry="1.6" fill="#7a1010" opacity="0.44" transform="rotate(134 71.8 316.1)"/>
<ellipse cx="287.6" cy="424.4" rx="1.6" ry="1.1" fill="#7a1010" opacity="0.57" transform="rotate(95 287.6 424.4)"/>
<ellipse cx="323.7" cy="374.0" rx="1.1" ry="1.0" fill="#7a1010" opacity="0.89" transform="rotate(78 323.7 374.0)"/>
<ellipse cx="280.9" cy="416.6" rx="1.3" ry="1.5" fill="#a81818" opacity="0.88" transform="rotate(93 280.9 416.6)"/>
<ellipse cx="321.6" cy="208.8" rx="1.2" ry="1.1" fill="#a81818" opacity="0.39" transform="rotate(96 321.6 208.8)"/>
<ellipse cx="164.6" cy="288.8" rx="1.1" ry="0.7" fill="#7a1010" opacity="0.87" transform="rotate(140 164.6 288.8)"/>
<ellipse cx="227.3" cy="384.2" rx="1.3" ry="1.6" fill="#a81818" opacity="0.50" transform="rotate(115 227.3 384.2)"/>
<ellipse cx="241.4" cy="216.4" rx="1.6" ry="1.2" fill="#d82024" opacity="0.64" transform="rotate(45 241.4 216.4)"/>
<ellipse cx="164.8" cy="428.5" rx="1.3" ry="1.0" fill="#7a1010" opacity="0.68" transform="rotate(22 164.8 428.5)"/>
<ellipse cx="328.4" cy="291.6" rx="1.2" ry="1.0" fill="#7a1010" opacity="0.42" transform="rotate(27 328.4 291.6)"/>
<ellipse cx="70.1" cy="222.7" rx="1.1" ry="1.1" fill="#7a1010" opacity="0.65" transform="rotate(16 70.1 222.7)"/>
<ellipse cx="291.9" cy="321.8" rx="1.2" ry="1.3" fill="#a81818" opacity="0.60" transform="rotate(128 291.9 321.8)"/>
<ellipse cx="200.6" cy="322.6" rx="1.2" ry="1.2" fill="#7a1010" opacity="0.63" transform="rotate(40 200.6 322.6)"/>
<ellipse cx="148.9" cy="314.2" rx="1.1" ry="0.7" fill="#7a1010" opacity="0.66" transform="rotate(43 148.9 314.2)"/>
<ellipse cx="182.8" cy="219.9" rx="2.4" ry="1.7" fill="#7a1010" opacity="0.39" transform="rotate(29 182.8 219.9)"/>
<ellipse cx="301.8" cy="268.5" rx="0.9" ry="0.8" fill="#7a1010" opacity="0.41" transform="rotate(132 301.8 268.5)"/>
<ellipse cx="99.5" cy="431.2" rx="1.5" ry="1.4" fill="#7a1010" opacity="0.72" transform="rotate(63 99.5 431.2)"/>
<ellipse cx="222.0" cy="396.9" rx="2.1" ry="1.5" fill="#7a1010" opacity="0.77" transform="rotate(134 222.0 396.9)"/>
<ellipse cx="177.8" cy="376.6" rx="1.3" ry="1.4" fill="#d82024" opacity="0.35" transform="rotate(157 177.8 376.6)"/>
<ellipse cx="268.7" cy="314.2" rx="1.5" ry="1.2" fill="#d82024" opacity="0.78" transform="rotate(75 268.7 314.2)"/>
<ellipse cx="302.3" cy="320.9" rx="1.3" ry="1.1" fill="#7a1010" opacity="0.51" transform="rotate(130 302.3 320.9)"/>
<ellipse cx="151.3" cy="304.7" rx="1.6" ry="1.1" fill="#7a1010" opacity="0.62" transform="rotate(153 151.3 304.7)"/>
<ellipse cx="168.0" cy="188.4" rx="1.3" ry="1.0" fill="#7a1010" opacity="0.40" transform="rotate(105 168.0 188.4)"/>
<ellipse cx="317.1" cy="232.2" rx="2.4" ry="1.5" fill="#a81818" opacity="0.58" transform="rotate(37 317.1 232.2)"/>
<ellipse cx="314.1" cy="134.1" rx="0.9" ry="0.7" fill="#7a1010" opacity="0.78" transform="rotate(166 314.1 134.1)"/>
<ellipse cx="197.6" cy="443.4" rx="1.6" ry="1.2" fill="#7a1010" opacity="0.55" transform="rotate(70 197.6 443.4)"/>
<ellipse cx="215.2" cy="240.7" rx="2.0" ry="1.6" fill="#a81818" opacity="0.56" transform="rotate(18 215.2 240.7)"/>
<ellipse cx="154.5" cy="306.5" rx="2.0" ry="1.3" fill="#a81818" opacity="0.59" transform="rotate(88 154.5 306.5)"/>
<ellipse cx="224.6" cy="442.7" rx="1.5" ry="1.0" fill="#7a1010" opacity="0.52" transform="rotate(31 224.6 442.7)"/>
<ellipse cx="335.4" cy="389.4" rx="1.8" ry="1.2" fill="#7a1010" opacity="0.80" transform="rotate(124 335.4 389.4)"/>
<ellipse cx="339.1" cy="408.9" rx="1.2" ry="1.1" fill="#7a1010" opacity="0.63" transform="rotate(92 339.1 408.9)"/>
<ellipse cx="87.9" cy="187.9" rx="1.4" ry="1.3" fill="#a81818" opacity="0.70" transform="rotate(179 87.9 187.9)"/>
<ellipse cx="42.2" cy="259.6" rx="2.0" ry="1.5" fill="#7a1010" opacity="0.52" transform="rotate(1 42.2 259.6)"/>
<ellipse cx="292.7" cy="314.3" rx="1.6" ry="1.4" fill="#7a1010" opacity="0.50" transform="rotate(100 292.7 314.3)"/>
<ellipse cx="231.5" cy="297.2" rx="1.9" ry="1.7" fill="#7a1010" opacity="0.44" transform="rotate(22 231.5 297.2)"/>
<ellipse cx="266.8" cy="164.1" rx="1.0" ry="0.8" fill="#7a1010" opacity="0.69" transform="rotate(148 266.8 164.1)"/>
<ellipse cx="281.6" cy="150.2" rx="0.8" ry="0.7" fill="#a81818" opacity="0.54" transform="rotate(129 281.6 150.2)"/>
<ellipse cx="82.0" cy="214.2" rx="1.0" ry="0.8" fill="#d82024" opacity="0.60" transform="rotate(63 82.0 214.2)"/>
<ellipse cx="149.7" cy="147.9" rx="2.5" ry="1.6" fill="#7a1010" opacity="0.69" transform="rotate(79 149.7 147.9)"/>
<ellipse cx="107.0" cy="144.5" rx="1.7" ry="1.6" fill="#a81818" opacity="0.80" transform="rotate(162 107.0 144.5)"/>
<ellipse cx="124.1" cy="319.4" rx="2.6" ry="1.7" fill="#7a1010" opacity="0.56" transform="rotate(44 124.1 319.4)"/>
<ellipse cx="254.0" cy="200.1" rx="1.2" ry="1.0" fill="#a81818" opacity="0.48" transform="rotate(143 254.0 200.1)"/>
<ellipse cx="83.3" cy="243.0" rx="0.9" ry="0.9" fill="#d82024" opacity="0.41" transform="rotate(101 83.3 243.0)"/>
<ellipse cx="196.1" cy="251.5" rx="1.0" ry="1.1" fill="#7a1010" opacity="0.54" transform="rotate(149 196.1 251.5)"/>
<ellipse cx="105.7" cy="190.6" rx="0.8" ry="1.0" fill="#7a1010" opacity="0.54" transform="rotate(120 105.7 190.6)"/>
<ellipse cx="77.8" cy="351.8" rx="1.2" ry="0.8" fill="#7a1010" opacity="0.59" transform="rotate(23 77.8 351.8)"/>
<ellipse cx="290.9" cy="382.8" rx="1.2" ry="0.9" fill="#7a1010" opacity="0.88" transform="rotate(68 290.9 382.8)"/>
<ellipse cx="94.1" cy="428.5" rx="1.4" ry="1.2" fill="#7a1010" opacity="0.74" transform="rotate(24 94.1 428.5)"/>
<ellipse cx="110.6" cy="412.5" rx="1.3" ry="1.3" fill="#7a1010" opacity="0.47" transform="rotate(109 110.6 412.5)"/>
<ellipse cx="302.2" cy="169.2" rx="1.2" ry="1.2" fill="#7a1010" opacity="0.56" transform="rotate(139 302.2 169.2)"/>
<ellipse cx="234.9" cy="308.5" rx="0.9" ry="1.0" fill="#7a1010" opacity="0.82" transform="rotate(32 234.9 308.5)"/>
<path d="M145.3 368.7L172.1 383.1L199.0 399.2L216.9 415.3L225.8 427.8" fill="none" stroke="#5a0c0c" stroke-width="1.6" stroke-linecap="round" stroke-linejoin="round" opacity="0.70"/>
<path d="M224.0 265.8L247.3 273.9L270.5 281.1" fill="none" stroke="#7a1010" stroke-width="1.6" stroke-linecap="round" stroke-linejoin="round" opacity="0.70"/>
<path d="M113.1 179.1L107.7 200.5L97.0 220.2" fill="none" stroke="#3a0808" stroke-width="2.2" stroke-linecap="round" stroke-linejoin="round" opacity="0.80"/>
<path d="M30.7 440.3L55.8 424.2L79.1 406.3" fill="none" stroke="#3a0808" stroke-width="2.0" stroke-linecap="round" stroke-linejoin="round" opacity="0.70"/>
<path d="M77.8 255.9C77.3 243.9 84.3 236.9 94.3 237.4C103.3 237.9 111.3 244.9 110.3 254.9C109.3 263.9 102.3 271.4 93.3 270.9C84.3 269.9 78.3 265.9 77.8 255.9Z" fill="#ee2a2e"/>
<ellipse cx="94.8" cy="255.1" rx="10.2" ry="8.8" fill="#1a0505" transform="rotate(-20 94.8 255.1)"/>
<ellipse cx="93.8" cy="254.1" rx="1.6" ry="2.4" fill="#c02020" opacity="0.80"/>
<ellipse cx="97.8" cy="257.1" rx="1.2" ry="1.2" fill="#a01818" opacity="0.80"/>
<line x1="111.3" y1="245.3" x2="120.2" y2="241.7" stroke="#d82226" stroke-width="2.6" stroke-linecap="round"/>
<line x1="120.2" y1="241.7" x2="128.3" y2="237.2" stroke="#b81c1e" stroke-width="2.4" stroke-linecap="round"/>
<ellipse cx="89.4" cy="295.8" rx="1.4" ry="1.6" fill="#e42428" opacity="0.84"/>
<ellipse cx="87.8" cy="299.5" rx="1.4" ry="1.4" fill="#e42428" opacity="0.81"/>
<ellipse cx="87.9" cy="302.2" rx="1.6" ry="1.5" fill="#e42428" opacity="0.98"/>
<ellipse cx="84.7" cy="306.5" rx="2.1" ry="1.3" fill="#e42428" opacity="0.82"/>
<ellipse cx="82.9" cy="307.0" rx="1.9" ry="1.4" fill="#e42428" opacity="0.85"/>
<ellipse cx="77.8" cy="308.6" rx="1.5" ry="1.8" fill="#e42428" opacity="0.84"/>
<ellipse cx="74.4" cy="307.1" rx="1.4" ry="1.8" fill="#e42428" opacity="0.93"/>
<ellipse cx="71.3" cy="305.7" rx="1.3" ry="1.3" fill="#e42428" opacity="0.80"/>
<ellipse cx="68.8" cy="305.3" rx="1.3" ry="1.4" fill="#e42428" opacity="0.91"/>
<ellipse cx="65.5" cy="303.9" rx="1.8" ry="1.7" fill="#e42428" opacity="0.81"/>
<ellipse cx="63.9" cy="299.9" rx="1.6" ry="1.2" fill="#e42428" opacity="0.96"/>
<ellipse cx="64.5" cy="295.6" rx="1.3" ry="1.8" fill="#e42428" opacity="0.90"/>
<ellipse cx="64.9" cy="294.1" rx="1.4" ry="1.8" fill="#e42428" opacity="0.80"/>
<ellipse cx="65.9" cy="288.6" rx="1.4" ry="1.7" fill="#e42428" opacity="0.85"/>
<ellipse cx="68.1" cy="286.2" rx="1.6" ry="1.3" fill="#e42428" opacity="0.99"/>
<ellipse cx="70.5" cy="284.4" rx="1.9" ry="1.7" fill="#e42428" opacity="0.96"/>
<ellipse cx="74.9" cy="284.6" rx="1.3" ry="1.7" fill="#e42428" opacity="0.86"/>
<ellipse cx="78.4" cy="283.3" rx="1.4" ry="1.7" fill="#e42428" opacity="0.76"/>
<ellipse cx="82.4" cy="284.9" rx="1.5" ry="1.6" fill="#e42428" opacity="0.99"/>
<ellipse cx="84.9" cy="287.4" rx="1.5" ry="1.2" fill="#e42428" opacity="0.84"/>
<ellipse cx="86.0" cy="290.1" rx="1.6" ry="1.3" fill="#e42428" opacity="0.93"/>
<ellipse cx="87.7" cy="293.5" rx="1.5" ry="1.6" fill="#e42428" opacity="0.86"/>
<ellipse cx="82.5" cy="294.2" rx="0.9" ry="0.9" fill="#901414" opacity="0.70"/>
<ellipse cx="73.6" cy="301.7" rx="0.9" ry="0.9" fill="#901414" opacity="0.70"/>
<ellipse cx="71.4" cy="297.2" rx="0.9" ry="0.9" fill="#901414" opacity="0.70"/>
<ellipse cx="74.0" cy="300.7" rx="0.9" ry="0.9" fill="#901414" opacity="0.70"/>
<ellipse cx="77.0" cy="299.9" rx="0.9" ry="0.9" fill="#901414" opacity="0.70"/>
<ellipse cx="71.7" cy="298.6" rx="0.9" ry="0.9" fill="#901414" opacity="0.70"/>
<ellipse cx="129.2" cy="173.7" rx="1.8" ry="4.7" fill="#e42428" transform="rotate(15 129.2 173.7)"/>
<ellipse cx="102.3" cy="212.2" rx="2.1" ry="3.2" fill="#e42428" transform="rotate(20 102.3 212.2)"/>
<ellipse cx="302.4" cy="209.5" rx="2.3" ry="2.3" fill="#e02226"/>
<ellipse cx="148.8" cy="253.9" rx="1.6" ry="2.5" fill="#d82024"/>
<ellipse cx="156.4" cy="252.4" rx="1.4" ry="2.9" fill="#e02226"/>
<ellipse cx="159.6" cy="362.5" rx="4.7" ry="2.1" fill="#e62428" transform="rotate(-25 159.6 362.5)"/>
<ellipse cx="239.2" cy="383.1" rx="3.4" ry="4.5" fill="#ee282c" transform="rotate(-10 239.2 383.1)"/>
<ellipse cx="246.9" cy="375.9" rx="1.6" ry="1.8" fill="#d82024"/>
<ellipse cx="167.6" cy="431.4" rx="4.3" ry="2.1" fill="#e02226" transform="rotate(-10 167.6 431.4)"/>
<ellipse cx="224.0" cy="265.8" rx="2.0" ry="1.4" fill="#d02024"/>
<ellipse cx="69.2" cy="273.9" rx="1.6" ry="3.0" fill="#c81e22"/>
<ellipse cx="234.7" cy="153.1" rx="1.6" ry="1.3" fill="#c01c20"/>
<ellipse cx="79.9" cy="155.8" rx="1.4" ry="1.8" fill="#a81818"/>
<ellipse cx="309.9" cy="344.6" rx="1.4" ry="2.1" fill="#c81e22"/>
<ellipse cx="284.9" cy="320.4" rx="1.3" ry="2.5" fill="#a81818"/>
<ellipse cx="306.3" cy="310.1" rx="1.8" ry="1.1" fill="#b01a1c"/>
<ellipse cx="105.9" cy="388.4" rx="1.6" ry="3.6" fill="#b81c1e" transform="rotate(5 105.9 388.4)"/>
<ellipse cx="37.9" cy="329.4" rx="1.4" ry="2.5" fill="#901414"/>
<ellipse cx="143.5" cy="346.4" rx="1.4" ry="1.4" fill="#b81c1e"/>
<ellipse cx="330.5" cy="408.1" rx="1.3" ry="2.5" fill="#a01616"/>
<ellipse cx="199.0" cy="387.5" rx="1.1" ry="1.4" fill="#c01c20"/>
<ellipse cx="177.5" cy="209.5" rx="1.1" ry="1.1" fill="#b01a1c"/>
<ellipse cx="214.2" cy="225.6" rx="1.1" ry="0.9" fill="#a81818"/>
<ellipse cx="51.3" cy="282.8" rx="1.1" ry="1.1" fill="#b01a1c"/>
<ellipse cx="32.5" cy="434.1" rx="1.6" ry="1.6" fill="#c01c20"/>
<line x1="97.0" y1="341.9" x2="111.3" y2="351.2" stroke="#d42024" stroke-width="2.2" stroke-linecap="round"/>
<line x1="89.8" y1="336.5" x2="92.5" y2="338.7" stroke="#b01a1c" stroke-width="2.0" stroke-linecap="round"/>
<ellipse cx="282.4" cy="270.9" rx="1.5" ry="1.5" fill="#e8262a" opacity="0.73"/>
<ellipse cx="289.5" cy="286.9" rx="1.1" ry="0.9" fill="#e8262a" opacity="0.78"/>
<ellipse cx="297.0" cy="291.2" rx="1.3" ry="1.0" fill="#e8262a" opacity="0.80"/>
<ellipse cx="282.0" cy="279.4" rx="1.0" ry="1.0" fill="#e8262a" opacity="0.70"/>
<ellipse cx="307.8" cy="276.7" rx="1.0" ry="1.4" fill="#e8262a" opacity="0.99"/>
<ellipse cx="287.4" cy="275.6" rx="1.3" ry="1.2" fill="#e8262a" opacity="0.76"/>
<ellipse cx="291.0" cy="277.2" rx="1.6" ry="1.4" fill="#e8262a" opacity="0.89"/>
<ellipse cx="305.4" cy="272.0" rx="1.1" ry="1.1" fill="#e8262a" opacity="0.74"/>
<ellipse cx="307.9" cy="280.1" rx="1.6" ry="1.1" fill="#e8262a" opacity="0.76"/>
<ellipse cx="281.0" cy="265.1" rx="1.6" ry="1.0" fill="#e8262a" opacity="0.94"/>
<ellipse cx="299.6" cy="264.4" rx="1.2" ry="1.0" fill="#e8262a" opacity="0.95"/>
<ellipse cx="287.6" cy="286.4" rx="1.3" ry="1.2" fill="#e8262a" opacity="0.95"/>
<ellipse cx="292.2" cy="280.1" rx="1.4" ry="1.3" fill="#e8262a" opacity="0.95"/>
<ellipse cx="287.1" cy="261.3" rx="1.7" ry="1.2" fill="#e8262a" opacity="0.85"/>
<ellipse cx="297.0" cy="284.7" rx="1.4" ry="1.0" fill="#e8262a" opacity="0.91"/>
<ellipse cx="298.0" cy="286.9" rx="1.7" ry="1.0" fill="#e8262a" opacity="0.71"/>
<ellipse cx="285.6" cy="279.9" rx="1.5" ry="0.9" fill="#e8262a" opacity="0.95"/>
<ellipse cx="302.0" cy="265.3" rx="1.2" ry="1.1" fill="#e8262a" opacity="0.90"/>
<ellipse cx="280.9" cy="276.5" rx="1.2" ry="1.2" fill="#e8262a" opacity="0.90"/>
<ellipse cx="300.1" cy="262.5" rx="1.0" ry="1.1" fill="#e8262a" opacity="0.83"/>
<ellipse cx="282.8" cy="273.8" rx="1.1" ry="1.0" fill="#e8262a" opacity="0.80"/>
<ellipse cx="274.1" cy="281.8" rx="1.6" ry="1.5" fill="#e8262a" opacity="0.99"/>
<ellipse cx="305.7" cy="274.3" rx="1.5" ry="0.9" fill="#e8262a" opacity="0.90"/>
<ellipse cx="285.0" cy="272.0" rx="1.4" ry="1.6" fill="#e8262a" opacity="0.84"/>
<ellipse cx="286.5" cy="270.5" rx="1.2" ry="1.5" fill="#e8262a" opacity="0.71"/>
<ellipse cx="297.6" cy="290.6" rx="1.3" ry="1.0" fill="#e8262a" opacity="0.90"/>
<ellipse cx="282.6" cy="286.8" rx="1.2" ry="1.3" fill="#e8262a" opacity="0.87"/>
<ellipse cx="287.9" cy="280.4" rx="1.0" ry="1.5" fill="#e8262a" opacity="0.86"/>
<ellipse cx="305.1" cy="288.1" rx="1.1" ry="1.0" fill="#e8262a" opacity="0.86"/>
<ellipse cx="291.9" cy="289.1" rx="1.3" ry="1.1" fill="#e8262a" opacity="0.87"/>
<ellipse cx="301.6" cy="285.3" rx="1.4" ry="1.0" fill="#e8262a" opacity="0.82"/>
<ellipse cx="302.3" cy="282.3" rx="1.6" ry="1.3" fill="#e8262a" opacity="0.91"/>
<ellipse cx="292.2" cy="272.6" rx="1.7" ry="1.4" fill="#e8262a" opacity="0.73"/>
<ellipse cx="297.2" cy="268.5" rx="1.0" ry="1.6" fill="#e8262a" opacity="0.87"/>
<ellipse cx="292.9" cy="272.1" rx="1.5" ry="0.9" fill="#e8262a" opacity="0.77"/>
<ellipse cx="291.0" cy="278.5" rx="1.4" ry="1.0" fill="#e8262a" opacity="0.79"/>
<ellipse cx="289.0" cy="267.1" rx="1.6" ry="1.3" fill="#e8262a" opacity="0.96"/>
<ellipse cx="275.5" cy="270.9" rx="1.6" ry="1.0" fill="#e8262a" opacity="0.92"/>
<ellipse cx="283.3" cy="290.3" rx="1.4" ry="1.5" fill="#e8262a" opacity="0.74"/>
<ellipse cx="281.1" cy="288.1" rx="1.7" ry="1.4" fill="#e8262a" opacity="0.71"/>
<ellipse cx="288.3" cy="274.8" rx="1.3" ry="1.5" fill="#e8262a" opacity="0.73"/>
<ellipse cx="305.3" cy="271.1" rx="1.1" ry="1.0" fill="#e8262a" opacity="0.83"/>
<ellipse cx="299.2" cy="266.5" rx="1.0" ry="0.9" fill="#e8262a" opacity="0.73"/>
<ellipse cx="294.2" cy="271.3" rx="1.3" ry="1.1" fill="#e8262a" opacity="0.91"/>
<ellipse cx="287.7" cy="281.3" rx="1.6" ry="1.3" fill="#e8262a" opacity="0.91"/>
<ellipse cx="298.5" cy="261.3" rx="0.9" ry="1.1" fill="#e8262a" opacity="0.75"/>
<ellipse cx="48.7" cy="439.4" rx="1.3" ry="0.7" fill="#c81e22" opacity="0.59"/>
<ellipse cx="60.0" cy="435.2" rx="1.0" ry="1.0" fill="#c81e22" opacity="0.58"/>
<ellipse cx="61.0" cy="429.1" rx="1.3" ry="1.1" fill="#c81e22" opacity="0.54"/>
<ellipse cx="42.5" cy="425.3" rx="1.3" ry="1.1" fill="#c81e22" opacity="0.52"/>
<ellipse cx="36.8" cy="428.4" rx="1.0" ry="1.0" fill="#c81e22" opacity="0.69"/>
<ellipse cx="43.4" cy="420.8" rx="1.1" ry="0.9" fill="#c81e22" opacity="0.51"/>
<ellipse cx="47.2" cy="441.8" rx="0.7" ry="0.8" fill="#c81e22" opacity="0.84"/>
<ellipse cx="40.5" cy="426.5" rx="1.1" ry="0.9" fill="#c81e22" opacity="0.78"/>
<ellipse cx="49.6" cy="441.2" rx="1.4" ry="0.7" fill="#c81e22" opacity="0.78"/>
<ellipse cx="58.3" cy="439.4" rx="1.2" ry="1.1" fill="#c81e22" opacity="0.82"/>
<ellipse cx="43.7" cy="426.7" rx="1.3" ry="1.2" fill="#c81e22" opacity="0.97"/>
<ellipse cx="55.1" cy="427.2" rx="1.2" ry="1.1" fill="#c81e22" opacity="0.75"/>
<ellipse cx="53.5" cy="428.2" rx="1.1" ry="0.9" fill="#c81e22" opacity="0.53"/>
<ellipse cx="42.8" cy="427.6" rx="1.4" ry="1.0" fill="#c81e22" opacity="0.68"/>
<ellipse cx="39.4" cy="425.7" rx="0.9" ry="0.8" fill="#c81e22" opacity="0.50"/>
<ellipse cx="61.9" cy="430.4" rx="1.0" ry="1.0" fill="#c81e22" opacity="0.65"/>
<ellipse cx="36.8" cy="422.1" rx="0.9" ry="0.9" fill="#c81e22" opacity="0.86"/>
<ellipse cx="50.5" cy="440.8" rx="0.9" ry="1.3" fill="#c81e22" opacity="0.79"/>
<ellipse cx="33.6" cy="424.5" rx="1.1" ry="1.3" fill="#c81e22" opacity="0.68"/>
<ellipse cx="58.5" cy="429.8" rx="1.3" ry="0.7" fill="#c81e22" opacity="0.74"/>
<ellipse cx="62.9" cy="426.6" rx="0.9" ry="0.7" fill="#c81e22" opacity="0.58"/>
<ellipse cx="40.3" cy="435.8" rx="0.9" ry="0.9" fill="#c81e22" opacity="0.60"/>
<ellipse cx="52.3" cy="439.2" rx="1.2" ry="0.8" fill="#c81e22" opacity="0.87"/>
<ellipse cx="65.2" cy="433.6" rx="0.8" ry="1.2" fill="#c81e22" opacity="0.94"/>
<ellipse cx="42.9" cy="423.6" rx="0.8" ry="1.0" fill="#c81e22" opacity="0.94"/>
<ellipse cx="53.6" cy="440.5" rx="0.8" ry="0.9" fill="#c81e22" opacity="0.87"/>
</g></g>
<rect x="154" y="418" width="175" height="9" fill="#fff"/>
<text x="182.9" y="118.4" font-size="25" text-anchor="middle">ChRmine-Kv2.1</text>
<rect x="28" y="600" width="316" height="316" fill="#070304"/>
<g clip-path="url(#c2)">
<g filter="url(#bl2)">
<path d="M179.3 600.0L174.3 616.6L177.6 634.9L161.0 643.2L154.4 658.2" fill="none" stroke="#4a0c0c" stroke-width="3.5" stroke-linecap="round" stroke-linejoin="round"/>
<path d="M186.0 624.9L210.9 620.8L244.2 612.5L269.1 609.1" fill="none" stroke="#4a0c0c" stroke-width="3.0" stroke-linecap="round" stroke-linejoin="round"/>
<path d="M200.7 733.2L218.6 726.0L234.7 733.2L236.5 747.5L220.4 758.2L206.1 751.1" fill="none" stroke="#4a0c0c" stroke-width="3.0" stroke-linecap="round" stroke-linejoin="round"/>
<path d="M216.9 760.0L270.5 733.2L324.2 718.8" fill="none" stroke="#4a0c0c" stroke-width="5.0" stroke-linecap="round" stroke-linejoin="round" opacity="0.80"/>
<path d="M97.0 786.9L98.7 822.6L105.9 858.4" fill="none" stroke="#4a0c0c" stroke-width="5.0" stroke-linecap="round" stroke-linejoin="round" opacity="0.70"/>
<path d="M192.7 807.9L223.4 818.7" fill="none" stroke="#8a1414" stroke-width="3.0" stroke-linecap="round" stroke-linejoin="round" opacity="0.80"/>
</g><use href="#im2" filter="url(#bl2)" opacity="0.7"/><g id="im2" filter="url(#bl)">
<line x1="175.3" y1="759.3" x2="175.2" y2="761.6" stroke="#d02024" stroke-width="2.2" stroke-linecap="round" opacity="0.40"/>
<line x1="329.9" y1="806.0" x2="332.1" y2="806.1" stroke="#8a1414" stroke-width="1.5" stroke-linecap="round" opacity="0.45"/>
<line x1="167.4" y1="862.9" x2="167.4" y2="866.8" stroke="#d02024" stroke-width="1.9" stroke-linecap="round" opacity="0.49"/>
<line x1="340.1" y1="910.9" x2="342.4" y2="914.4" stroke="#8a1414" stroke-width="1.7" stroke-linecap="round" opacity="0.39"/>
<line x1="150.0" y1="900.4" x2="151.2" y2="901.4" stroke="#f42c2c" stroke-width="1.9" stroke-linecap="round" opacity="0.84"/>
<line x1="274.3" y1="686.0" x2="271.5" y2="686.3" stroke="#d02024" stroke-width="1.5" stroke-linecap="round" opacity="0.47"/>
<line x1="86.2" y1="775.6" x2="84.7" y2="777.4" stroke="#8a1414" stroke-width="2.0" stroke-linecap="round" opacity="0.41"/>
<line x1="331.0" y1="851.2" x2="334.8" y2="854.1" stroke="#8a1414" stroke-width="2.3" stroke-linecap="round" opacity="0.67"/>
<line x1="62.3" y1="909.8" x2="60.3" y2="911.5" stroke="#8a1414" stroke-width="1.7" stroke-linecap="round" opacity="0.39"/>
<line x1="57.4" y1="782.1" x2="58.9" y2="785.5" stroke="#8a1414" stroke-width="2.4" stroke-linecap="round" opacity="0.59"/>
<line x1="210.3" y1="872.1" x2="208.2" y2="872.7" stroke="#d02024" stroke-width="1.6" stroke-linecap="round" opacity="0.44"/>
<line x1="263.0" y1="894.5" x2="258.4" y2="896.3" stroke="#d02024" stroke-width="1.8" stroke-linecap="round" opacity="0.40"/>
<line x1="40.6" y1="900.9" x2="43.5" y2="903.9" stroke="#d02024" stroke-width="2.0" stroke-linecap="round" opacity="0.50"/>
<line x1="85.0" y1="825.6" x2="84.5" y2="827.9" stroke="#f42c2c" stroke-width="2.0" stroke-linecap="round" opacity="0.49"/>
<line x1="316.0" y1="664.4" x2="316.4" y2="666.9" stroke="#8a1414" stroke-width="1.6" stroke-linecap="round" opacity="0.53"/>
<line x1="308.5" y1="905.9" x2="307.4" y2="909.9" stroke="#8a1414" stroke-width="1.4" stroke-linecap="round" opacity="0.36"/>
<line x1="314.3" y1="819.9" x2="313.6" y2="821.5" stroke="#8a1414" stroke-width="2.1" stroke-linecap="round" opacity="0.51"/>
<line x1="261.6" y1="881.6" x2="258.3" y2="884.1" stroke="#f42c2c" stroke-width="1.8" stroke-linecap="round" opacity="0.69"/>
<line x1="313.1" y1="872.9" x2="309.0" y2="874.7" stroke="#d02024" stroke-width="2.0" stroke-linecap="round" opacity="0.54"/>
<line x1="213.7" y1="791.9" x2="209.8" y2="792.0" stroke="#f42c2c" stroke-width="2.1" stroke-linecap="round" opacity="0.54"/>
<line x1="257.1" y1="782.7" x2="261.6" y2="783.9" stroke="#d02024" stroke-width="1.4" stroke-linecap="round" opacity="0.65"/>
<line x1="183.9" y1="793.7" x2="186.4" y2="793.8" stroke="#8a1414" stroke-width="2.1" stroke-linecap="round" opacity="0.45"/>
<line x1="84.4" y1="884.1" x2="81.4" y2="885.1" stroke="#8a1414" stroke-width="2.1" stroke-linecap="round" opacity="0.45"/>
<line x1="163.6" y1="851.2" x2="165.3" y2="855.7" stroke="#d02024" stroke-width="1.7" stroke-linecap="round" opacity="0.42"/>
<line x1="187.0" y1="862.8" x2="182.8" y2="863.5" stroke="#8a1414" stroke-width="1.6" stroke-linecap="round" opacity="0.58"/>
<line x1="227.5" y1="756.0" x2="222.9" y2="756.2" stroke="#8a1414" stroke-width="1.5" stroke-linecap="round" opacity="0.37"/>
<line x1="36.7" y1="860.7" x2="38.8" y2="861.0" stroke="#d02024" stroke-width="1.8" stroke-linecap="round" opacity="0.66"/>
<line x1="232.7" y1="852.7" x2="236.0" y2="855.1" stroke="#8a1414" stroke-width="1.6" stroke-linecap="round" opacity="0.36"/>
<line x1="176.7" y1="823.7" x2="177.9" y2="826.0" stroke="#d02024" stroke-width="1.9" stroke-linecap="round" opacity="0.66"/>
<line x1="226.9" y1="885.2" x2="223.5" y2="886.6" stroke="#d02024" stroke-width="2.3" stroke-linecap="round" opacity="0.58"/>
<line x1="286.4" y1="801.8" x2="284.2" y2="802.6" stroke="#f42c2c" stroke-width="2.4" stroke-linecap="round" opacity="0.62"/>
<line x1="297.3" y1="709.2" x2="296.8" y2="712.3" stroke="#d02024" stroke-width="1.9" stroke-linecap="round" opacity="0.36"/>
<line x1="255.7" y1="861.6" x2="255.8" y2="866.6" stroke="#f42c2c" stroke-width="1.5" stroke-linecap="round" opacity="0.46"/>
<line x1="296.0" y1="882.7" x2="291.4" y2="883.2" stroke="#8a1414" stroke-width="2.0" stroke-linecap="round" opacity="0.45"/>
<line x1="198.0" y1="758.9" x2="196.4" y2="759.1" stroke="#8a1414" stroke-width="1.8" stroke-linecap="round" opacity="0.75"/>
<line x1="205.7" y1="754.3" x2="205.5" y2="756.1" stroke="#8a1414" stroke-width="2.4" stroke-linecap="round" opacity="0.81"/>
<line x1="115.3" y1="748.8" x2="112.7" y2="750.5" stroke="#f42c2c" stroke-width="1.9" stroke-linecap="round" opacity="0.51"/>
<line x1="90.5" y1="794.1" x2="88.9" y2="795.4" stroke="#8a1414" stroke-width="1.6" stroke-linecap="round" opacity="0.46"/>
<line x1="68.4" y1="760.1" x2="68.2" y2="762.4" stroke="#8a1414" stroke-width="1.8" stroke-linecap="round" opacity="0.56"/>
<line x1="227.8" y1="799.0" x2="226.2" y2="803.4" stroke="#f42c2c" stroke-width="1.6" stroke-linecap="round" opacity="0.72"/>
<line x1="284.2" y1="883.3" x2="281.6" y2="884.0" stroke="#8a1414" stroke-width="2.4" stroke-linecap="round" opacity="0.79"/>
<line x1="162.4" y1="847.2" x2="160.7" y2="849.7" stroke="#8a1414" stroke-width="1.6" stroke-linecap="round" opacity="0.69"/>
<line x1="315.6" y1="903.0" x2="313.1" y2="905.3" stroke="#8a1414" stroke-width="2.1" stroke-linecap="round" opacity="0.44"/>
<line x1="52.1" y1="633.3" x2="51.9" y2="636.9" stroke="#d02024" stroke-width="1.5" stroke-linecap="round" opacity="0.44"/>
<line x1="91.3" y1="863.4" x2="96.0" y2="864.9" stroke="#8a1414" stroke-width="2.4" stroke-linecap="round" opacity="0.58"/>
<line x1="34.0" y1="819.6" x2="34.3" y2="821.8" stroke="#d02024" stroke-width="1.8" stroke-linecap="round" opacity="0.45"/>
<line x1="83.5" y1="760.5" x2="79.5" y2="763.3" stroke="#d02024" stroke-width="2.3" stroke-linecap="round" opacity="0.66"/>
<line x1="158.3" y1="787.6" x2="154.1" y2="790.6" stroke="#8a1414" stroke-width="2.3" stroke-linecap="round" opacity="0.72"/>
<line x1="275.0" y1="855.3" x2="270.5" y2="857.1" stroke="#d02024" stroke-width="2.2" stroke-linecap="round" opacity="0.73"/>
<line x1="156.5" y1="826.1" x2="156.7" y2="828.9" stroke="#8a1414" stroke-width="1.8" stroke-linecap="round" opacity="0.67"/>
<line x1="208.8" y1="766.0" x2="206.6" y2="770.7" stroke="#d02024" stroke-width="2.2" stroke-linecap="round" opacity="0.84"/>
<line x1="36.7" y1="792.8" x2="37.5" y2="795.2" stroke="#8a1414" stroke-width="1.6" stroke-linecap="round" opacity="0.54"/>
<line x1="205.0" y1="911.9" x2="209.4" y2="913.0" stroke="#d02024" stroke-width="2.2" stroke-linecap="round" opacity="0.37"/>
<line x1="83.7" y1="756.4" x2="81.9" y2="756.8" stroke="#8a1414" stroke-width="1.9" stroke-linecap="round" opacity="0.65"/>
<line x1="152.6" y1="882.0" x2="150.8" y2="882.1" stroke="#f42c2c" stroke-width="1.5" stroke-linecap="round" opacity="0.80"/>
<line x1="284.5" y1="788.4" x2="285.1" y2="792.2" stroke="#8a1414" stroke-width="1.5" stroke-linecap="round" opacity="0.61"/>
<line x1="163.5" y1="844.3" x2="158.3" y2="845.1" stroke="#d02024" stroke-width="1.6" stroke-linecap="round" opacity="0.41"/>
<line x1="307.6" y1="845.6" x2="309.5" y2="847.8" stroke="#d02024" stroke-width="2.0" stroke-linecap="round" opacity="0.65"/>
<line x1="228.8" y1="837.0" x2="226.3" y2="837.1" stroke="#f42c2c" stroke-width="2.3" stroke-linecap="round" opacity="0.37"/>
<line x1="200.5" y1="797.9" x2="203.1" y2="799.9" stroke="#8a1414" stroke-width="2.1" stroke-linecap="round" opacity="0.77"/>
<line x1="223.5" y1="840.7" x2="225.7" y2="843.0" stroke="#d02024" stroke-width="1.8" stroke-linecap="round" opacity="0.68"/>
<line x1="261.4" y1="888.9" x2="264.2" y2="889.7" stroke="#f42c2c" stroke-width="1.5" stroke-linecap="round" opacity="0.39"/>
<line x1="123.8" y1="842.9" x2="122.7" y2="845.0" stroke="#8a1414" stroke-width="1.7" stroke-linecap="round" opacity="0.71"/>
<line x1="247.5" y1="689.2" x2="245.6" y2="691.4" stroke="#8a1414" stroke-width="1.5" stroke-linecap="round" opacity="0.70"/>
<line x1="207.1" y1="886.2" x2="208.1" y2="891.0" stroke="#d02024" stroke-width="1.7" stroke-linecap="round" opacity="0.51"/>
<line x1="154.1" y1="892.5" x2="155.2" y2="894.7" stroke="#8a1414" stroke-width="1.8" stroke-linecap="round" opacity="0.55"/>
<line x1="305.1" y1="688.1" x2="304.6" y2="691.5" stroke="#d02024" stroke-width="2.4" stroke-linecap="round" opacity="0.68"/>
<line x1="277.9" y1="627.6" x2="273.9" y2="628.9" stroke="#8a1414" stroke-width="2.0" stroke-linecap="round" opacity="0.42"/>
<line x1="263.6" y1="803.7" x2="261.8" y2="805.3" stroke="#8a1414" stroke-width="2.2" stroke-linecap="round" opacity="0.55"/>
<line x1="135.6" y1="902.4" x2="135.2" y2="905.8" stroke="#d02024" stroke-width="2.1" stroke-linecap="round" opacity="0.81"/>
<line x1="160.0" y1="858.4" x2="156.2" y2="861.1" stroke="#d02024" stroke-width="2.3" stroke-linecap="round" opacity="0.83"/>
<line x1="229.2" y1="763.3" x2="230.3" y2="767.6" stroke="#8a1414" stroke-width="1.5" stroke-linecap="round" opacity="0.72"/>
<line x1="338.9" y1="718.0" x2="339.5" y2="720.3" stroke="#8a1414" stroke-width="2.4" stroke-linecap="round" opacity="0.38"/>
<line x1="272.5" y1="656.4" x2="271.7" y2="659.6" stroke="#f42c2c" stroke-width="1.4" stroke-linecap="round" opacity="0.40"/>
<line x1="253.1" y1="786.7" x2="254.5" y2="788.4" stroke="#8a1414" stroke-width="2.2" stroke-linecap="round" opacity="0.51"/>
<line x1="202.2" y1="856.5" x2="199.9" y2="857.4" stroke="#f42c2c" stroke-width="1.7" stroke-linecap="round" opacity="0.62"/>
<line x1="329.5" y1="752.4" x2="327.7" y2="752.7" stroke="#d02024" stroke-width="1.8" stroke-linecap="round" opacity="0.61"/>
<line x1="234.5" y1="674.6" x2="235.8" y2="677.7" stroke="#d02024" stroke-width="2.1" stroke-linecap="round" opacity="0.65"/>
<line x1="112.9" y1="873.2" x2="109.0" y2="873.2" stroke="#8a1414" stroke-width="1.9" stroke-linecap="round" opacity="0.43"/>
<line x1="294.8" y1="857.5" x2="293.2" y2="859.5" stroke="#8a1414" stroke-width="1.9" stroke-linecap="round" opacity="0.58"/>
<line x1="329.2" y1="784.2" x2="327.1" y2="785.9" stroke="#8a1414" stroke-width="2.3" stroke-linecap="round" opacity="0.40"/>
<line x1="127.0" y1="697.6" x2="127.3" y2="700.3" stroke="#d02024" stroke-width="1.8" stroke-linecap="round" opacity="0.69"/>
<line x1="65.2" y1="723.7" x2="60.8" y2="726.3" stroke="#d02024" stroke-width="1.4" stroke-linecap="round" opacity="0.54"/>
<line x1="203.4" y1="827.2" x2="207.8" y2="828.5" stroke="#8a1414" stroke-width="1.5" stroke-linecap="round" opacity="0.69"/>
<line x1="290.1" y1="786.4" x2="292.2" y2="787.5" stroke="#8a1414" stroke-width="1.8" stroke-linecap="round" opacity="0.39"/>
<line x1="318.7" y1="733.9" x2="315.8" y2="736.5" stroke="#d02024" stroke-width="1.8" stroke-linecap="round" opacity="0.52"/>
<line x1="249.0" y1="906.5" x2="247.7" y2="910.2" stroke="#8a1414" stroke-width="1.7" stroke-linecap="round" opacity="0.52"/>
<line x1="187.3" y1="847.1" x2="190.6" y2="848.9" stroke="#d02024" stroke-width="2.3" stroke-linecap="round" opacity="0.62"/>
<line x1="142.1" y1="758.0" x2="137.9" y2="758.2" stroke="#8a1414" stroke-width="2.1" stroke-linecap="round" opacity="0.77"/>
<line x1="90.4" y1="896.5" x2="92.6" y2="897.1" stroke="#8a1414" stroke-width="2.0" stroke-linecap="round" opacity="0.70"/>
<line x1="131.2" y1="891.2" x2="134.2" y2="892.5" stroke="#f42c2c" stroke-width="1.5" stroke-linecap="round" opacity="0.80"/>
<line x1="200.8" y1="776.6" x2="198.3" y2="777.3" stroke="#f42c2c" stroke-width="2.2" stroke-linecap="round" opacity="0.65"/>
<line x1="66.5" y1="857.6" x2="70.0" y2="860.9" stroke="#d02024" stroke-width="2.2" stroke-linecap="round" opacity="0.44"/>
<line x1="202.1" y1="625.8" x2="199.8" y2="625.8" stroke="#f42c2c" stroke-width="2.1" stroke-linecap="round" opacity="0.50"/>
<line x1="240.9" y1="831.1" x2="237.9" y2="833.2" stroke="#8a1414" stroke-width="1.6" stroke-linecap="round" opacity="0.58"/>
<line x1="83.3" y1="762.6" x2="85.1" y2="765.7" stroke="#d02024" stroke-width="1.4" stroke-linecap="round" opacity="0.69"/>
<line x1="74.7" y1="899.7" x2="75.6" y2="902.9" stroke="#d02024" stroke-width="2.1" stroke-linecap="round" opacity="0.73"/>
<line x1="291.9" y1="867.2" x2="291.2" y2="870.3" stroke="#f42c2c" stroke-width="1.9" stroke-linecap="round" opacity="0.61"/>
<line x1="165.4" y1="883.5" x2="164.3" y2="884.8" stroke="#f42c2c" stroke-width="2.1" stroke-linecap="round" opacity="0.65"/>
<line x1="187.0" y1="723.7" x2="186.7" y2="727.8" stroke="#8a1414" stroke-width="1.7" stroke-linecap="round" opacity="0.55"/>
<line x1="332.8" y1="808.8" x2="330.3" y2="810.6" stroke="#8a1414" stroke-width="2.1" stroke-linecap="round" opacity="0.63"/>
<line x1="282.6" y1="725.7" x2="286.3" y2="726.2" stroke="#8a1414" stroke-width="2.3" stroke-linecap="round" opacity="0.50"/>
<line x1="184.2" y1="892.4" x2="186.8" y2="894.4" stroke="#8a1414" stroke-width="2.3" stroke-linecap="round" opacity="0.80"/>
<line x1="89.6" y1="862.6" x2="92.4" y2="864.3" stroke="#f42c2c" stroke-width="2.4" stroke-linecap="round" opacity="0.45"/>
<line x1="125.8" y1="882.0" x2="129.6" y2="883.8" stroke="#d02024" stroke-width="2.3" stroke-linecap="round" opacity="0.57"/>
<line x1="104.2" y1="808.1" x2="102.7" y2="810.6" stroke="#f42c2c" stroke-width="2.0" stroke-linecap="round" opacity="0.46"/>
<line x1="124.4" y1="890.0" x2="123.3" y2="892.3" stroke="#8a1414" stroke-width="2.4" stroke-linecap="round" opacity="0.57"/>
<line x1="193.7" y1="766.1" x2="196.0" y2="769.1" stroke="#8a1414" stroke-width="2.2" stroke-linecap="round" opacity="0.39"/>
<line x1="119.2" y1="836.5" x2="118.8" y2="839.1" stroke="#8a1414" stroke-width="2.3" stroke-linecap="round" opacity="0.84"/>
<line x1="150.2" y1="890.8" x2="149.8" y2="893.0" stroke="#d02024" stroke-width="1.8" stroke-linecap="round" opacity="0.68"/>
<line x1="275.6" y1="761.3" x2="273.0" y2="765.2" stroke="#8a1414" stroke-width="2.4" stroke-linecap="round" opacity="0.44"/>
<line x1="274.1" y1="847.8" x2="276.7" y2="849.9" stroke="#d02024" stroke-width="1.9" stroke-linecap="round" opacity="0.37"/>
<line x1="214.2" y1="823.7" x2="218.2" y2="826.3" stroke="#8a1414" stroke-width="1.4" stroke-linecap="round" opacity="0.60"/>
<line x1="163.4" y1="739.3" x2="167.8" y2="740.3" stroke="#f42c2c" stroke-width="2.0" stroke-linecap="round" opacity="0.62"/>
<line x1="275.6" y1="676.1" x2="278.3" y2="676.4" stroke="#8a1414" stroke-width="2.0" stroke-linecap="round" opacity="0.61"/>
<line x1="110.6" y1="784.5" x2="114.5" y2="786.8" stroke="#8a1414" stroke-width="1.6" stroke-linecap="round" opacity="0.70"/>
<line x1="288.6" y1="846.1" x2="289.9" y2="848.9" stroke="#8a1414" stroke-width="2.4" stroke-linecap="round" opacity="0.37"/>
<line x1="182.6" y1="838.5" x2="182.9" y2="840.6" stroke="#d02024" stroke-width="1.4" stroke-linecap="round" opacity="0.47"/>
<line x1="123.9" y1="734.4" x2="122.1" y2="734.4" stroke="#d02024" stroke-width="2.1" stroke-linecap="round" opacity="0.46"/>
<line x1="110.6" y1="773.8" x2="107.4" y2="774.5" stroke="#8a1414" stroke-width="1.7" stroke-linecap="round" opacity="0.84"/>
<line x1="246.5" y1="869.3" x2="247.0" y2="874.1" stroke="#8a1414" stroke-width="2.2" stroke-linecap="round" opacity="0.54"/>
<line x1="86.4" y1="772.7" x2="88.2" y2="774.2" stroke="#8a1414" stroke-width="1.7" stroke-linecap="round" opacity="0.57"/>
<line x1="339.5" y1="812.8" x2="340.3" y2="815.0" stroke="#8a1414" stroke-width="2.1" stroke-linecap="round" opacity="0.53"/>
<line x1="79.3" y1="892.6" x2="76.5" y2="895.9" stroke="#f42c2c" stroke-width="1.4" stroke-linecap="round" opacity="0.51"/>
<line x1="131.2" y1="841.6" x2="131.8" y2="843.3" stroke="#8a1414" stroke-width="1.4" stroke-linecap="round" opacity="0.43"/>
<line x1="160.9" y1="770.2" x2="163.7" y2="773.2" stroke="#d02024" stroke-width="2.1" stroke-linecap="round" opacity="0.42"/>
<line x1="97.7" y1="612.8" x2="96.9" y2="616.6" stroke="#d02024" stroke-width="2.4" stroke-linecap="round" opacity="0.50"/>
<line x1="240.2" y1="887.0" x2="238.2" y2="890.5" stroke="#f42c2c" stroke-width="2.3" stroke-linecap="round" opacity="0.47"/>
<line x1="132.1" y1="756.1" x2="132.7" y2="758.1" stroke="#8a1414" stroke-width="1.6" stroke-linecap="round" opacity="0.68"/>
<line x1="248.5" y1="773.8" x2="249.1" y2="775.4" stroke="#8a1414" stroke-width="1.5" stroke-linecap="round" opacity="0.55"/>
<line x1="46.2" y1="755.2" x2="47.9" y2="758.0" stroke="#8a1414" stroke-width="1.4" stroke-linecap="round" opacity="0.52"/>
<line x1="306.6" y1="777.4" x2="309.9" y2="779.6" stroke="#8a1414" stroke-width="2.0" stroke-linecap="round" opacity="0.83"/>
<line x1="270.3" y1="796.2" x2="271.1" y2="799.2" stroke="#8a1414" stroke-width="2.2" stroke-linecap="round" opacity="0.79"/>
<line x1="149.2" y1="884.8" x2="149.1" y2="886.8" stroke="#8a1414" stroke-width="1.8" stroke-linecap="round" opacity="0.84"/>
<line x1="241.6" y1="673.5" x2="242.8" y2="676.9" stroke="#8a1414" stroke-width="1.9" stroke-linecap="round" opacity="0.68"/>
<line x1="203.3" y1="796.6" x2="198.7" y2="797.0" stroke="#8a1414" stroke-width="1.7" stroke-linecap="round" opacity="0.79"/>
<line x1="129.8" y1="825.1" x2="125.7" y2="825.6" stroke="#d02024" stroke-width="1.6" stroke-linecap="round" opacity="0.66"/>
<line x1="184.0" y1="777.0" x2="182.2" y2="778.8" stroke="#8a1414" stroke-width="1.6" stroke-linecap="round" opacity="0.47"/>
<line x1="69.9" y1="620.9" x2="68.7" y2="622.5" stroke="#8a1414" stroke-width="1.9" stroke-linecap="round" opacity="0.74"/>
<line x1="186.9" y1="849.0" x2="189.8" y2="852.0" stroke="#d02024" stroke-width="1.7" stroke-linecap="round" opacity="0.52"/>
<line x1="266.4" y1="863.2" x2="267.3" y2="866.7" stroke="#d02024" stroke-width="2.0" stroke-linecap="round" opacity="0.77"/>
<line x1="163.3" y1="798.9" x2="158.3" y2="799.1" stroke="#8a1414" stroke-width="2.1" stroke-linecap="round" opacity="0.41"/>
<line x1="37.4" y1="770.1" x2="39.1" y2="772.5" stroke="#d02024" stroke-width="2.2" stroke-linecap="round" opacity="0.49"/>
<line x1="151.3" y1="792.3" x2="153.1" y2="797.2" stroke="#d02024" stroke-width="1.9" stroke-linecap="round" opacity="0.75"/>
<line x1="74.1" y1="654.9" x2="77.6" y2="658.4" stroke="#8a1414" stroke-width="1.5" stroke-linecap="round" opacity="0.51"/>
<line x1="34.8" y1="777.1" x2="37.3" y2="780.0" stroke="#8a1414" stroke-width="1.9" stroke-linecap="round" opacity="0.53"/>
<line x1="109.6" y1="616.0" x2="112.3" y2="620.0" stroke="#8a1414" stroke-width="1.6" stroke-linecap="round" opacity="0.59"/>
<line x1="237.2" y1="795.4" x2="232.7" y2="797.4" stroke="#f42c2c" stroke-width="1.8" stroke-linecap="round" opacity="0.77"/>
<line x1="255.2" y1="656.5" x2="257.2" y2="657.3" stroke="#8a1414" stroke-width="1.8" stroke-linecap="round" opacity="0.73"/>
<line x1="127.9" y1="762.3" x2="125.6" y2="762.6" stroke="#8a1414" stroke-width="1.9" stroke-linecap="round" opacity="0.76"/>
<line x1="279.1" y1="830.3" x2="275.3" y2="832.6" stroke="#d02024" stroke-width="2.4" stroke-linecap="round" opacity="0.40"/>
<line x1="106.8" y1="884.6" x2="109.5" y2="887.0" stroke="#8a1414" stroke-width="1.8" stroke-linecap="round" opacity="0.68"/>
<line x1="199.5" y1="813.8" x2="201.3" y2="814.7" stroke="#8a1414" stroke-width="1.8" stroke-linecap="round" opacity="0.35"/>
<line x1="188.5" y1="727.6" x2="185.1" y2="728.1" stroke="#8a1414" stroke-width="2.3" stroke-linecap="round" opacity="0.51"/>
<line x1="165.1" y1="901.1" x2="163.3" y2="903.6" stroke="#8a1414" stroke-width="1.7" stroke-linecap="round" opacity="0.69"/>
<line x1="327.1" y1="702.5" x2="324.2" y2="702.6" stroke="#8a1414" stroke-width="2.0" stroke-linecap="round" opacity="0.54"/>
<line x1="307.3" y1="867.5" x2="306.6" y2="870.9" stroke="#8a1414" stroke-width="2.2" stroke-linecap="round" opacity="0.69"/>
<line x1="170.3" y1="808.6" x2="172.5" y2="810.6" stroke="#d02024" stroke-width="2.0" stroke-linecap="round" opacity="0.61"/>
<line x1="40.6" y1="795.9" x2="39.5" y2="799.5" stroke="#f42c2c" stroke-width="1.6" stroke-linecap="round" opacity="0.58"/>
<line x1="341.9" y1="832.2" x2="337.7" y2="832.3" stroke="#8a1414" stroke-width="2.3" stroke-linecap="round" opacity="0.41"/>
<line x1="339.9" y1="753.2" x2="337.9" y2="757.3" stroke="#f42c2c" stroke-width="2.2" stroke-linecap="round" opacity="0.75"/>
<line x1="191.1" y1="910.2" x2="188.2" y2="913.9" stroke="#8a1414" stroke-width="2.2" stroke-linecap="round" opacity="0.58"/>
<line x1="197.9" y1="870.9" x2="196.8" y2="873.2" stroke="#8a1414" stroke-width="2.0" stroke-linecap="round" opacity="0.74"/>
<line x1="298.7" y1="841.0" x2="294.8" y2="843.9" stroke="#8a1414" stroke-width="1.8" stroke-linecap="round" opacity="0.40"/>
<line x1="148.9" y1="866.4" x2="153.6" y2="867.5" stroke="#f42c2c" stroke-width="1.6" stroke-linecap="round" opacity="0.66"/>
<line x1="303.1" y1="827.1" x2="303.9" y2="831.0" stroke="#8a1414" stroke-width="1.7" stroke-linecap="round" opacity="0.51"/>
<line x1="246.6" y1="656.3" x2="247.0" y2="660.4" stroke="#8a1414" stroke-width="1.5" stroke-linecap="round" opacity="0.82"/>
<line x1="221.8" y1="711.4" x2="218.9" y2="715.7" stroke="#d02024" stroke-width="1.8" stroke-linecap="round" opacity="0.51"/>
<line x1="162.5" y1="856.3" x2="162.5" y2="859.5" stroke="#f42c2c" stroke-width="1.7" stroke-linecap="round" opacity="0.70"/>
<line x1="101.9" y1="780.9" x2="104.8" y2="784.6" stroke="#f42c2c" stroke-width="2.1" stroke-linecap="round" opacity="0.58"/>
<line x1="216.6" y1="740.7" x2="218.6" y2="743.1" stroke="#8a1414" stroke-width="2.4" stroke-linecap="round" opacity="0.50"/>
<line x1="245.4" y1="811.1" x2="248.2" y2="812.3" stroke="#f42c2c" stroke-width="1.7" stroke-linecap="round" opacity="0.56"/>
<line x1="136.8" y1="856.2" x2="136.3" y2="859.8" stroke="#8a1414" stroke-width="2.3" stroke-linecap="round" opacity="0.39"/>
<line x1="131.1" y1="811.1" x2="126.1" y2="811.5" stroke="#f42c2c" stroke-width="1.8" stroke-linecap="round" opacity="0.76"/>
<line x1="232.7" y1="819.8" x2="232.9" y2="821.6" stroke="#8a1414" stroke-width="2.1" stroke-linecap="round" opacity="0.46"/>
<line x1="225.9" y1="831.8" x2="222.9" y2="835.2" stroke="#d02024" stroke-width="1.5" stroke-linecap="round" opacity="0.58"/>
<line x1="32.5" y1="870.0" x2="37.3" y2="870.4" stroke="#8a1414" stroke-width="1.9" stroke-linecap="round" opacity="0.62"/>
<line x1="63.1" y1="847.6" x2="66.3" y2="848.9" stroke="#d02024" stroke-width="1.5" stroke-linecap="round" opacity="0.39"/>
<line x1="106.8" y1="730.0" x2="107.2" y2="732.3" stroke="#d02024" stroke-width="1.9" stroke-linecap="round" opacity="0.78"/>
<line x1="62.8" y1="864.7" x2="62.4" y2="869.8" stroke="#8a1414" stroke-width="2.0" stroke-linecap="round" opacity="0.78"/>
<line x1="331.6" y1="730.4" x2="329.8" y2="731.6" stroke="#d02024" stroke-width="2.1" stroke-linecap="round" opacity="0.43"/>
<line x1="197.0" y1="610.8" x2="194.4" y2="611.0" stroke="#d02024" stroke-width="2.2" stroke-linecap="round" opacity="0.37"/>
<line x1="65.6" y1="887.2" x2="64.1" y2="890.2" stroke="#f42c2c" stroke-width="2.3" stroke-linecap="round" opacity="0.63"/>
<line x1="187.2" y1="883.0" x2="185.4" y2="885.0" stroke="#8a1414" stroke-width="1.8" stroke-linecap="round" opacity="0.56"/>
<line x1="48.1" y1="765.7" x2="50.4" y2="767.7" stroke="#8a1414" stroke-width="1.8" stroke-linecap="round" opacity="0.51"/>
<line x1="190.4" y1="836.5" x2="191.7" y2="837.9" stroke="#8a1414" stroke-width="2.2" stroke-linecap="round" opacity="0.56"/>
<line x1="296.4" y1="727.0" x2="300.3" y2="728.1" stroke="#f42c2c" stroke-width="2.2" stroke-linecap="round" opacity="0.51"/>
<line x1="127.1" y1="857.3" x2="130.9" y2="858.0" stroke="#d02024" stroke-width="1.4" stroke-linecap="round" opacity="0.66"/>
<line x1="203.1" y1="891.2" x2="201.4" y2="891.5" stroke="#d02024" stroke-width="2.0" stroke-linecap="round" opacity="0.35"/>
<line x1="336.5" y1="885.9" x2="337.3" y2="890.2" stroke="#d02024" stroke-width="1.8" stroke-linecap="round" opacity="0.57"/>
<line x1="260.4" y1="622.3" x2="258.1" y2="626.3" stroke="#8a1414" stroke-width="1.5" stroke-linecap="round" opacity="0.41"/>
<line x1="124.8" y1="898.1" x2="128.7" y2="901.1" stroke="#8a1414" stroke-width="1.9" stroke-linecap="round" opacity="0.77"/>
<line x1="68.3" y1="873.8" x2="68.7" y2="875.4" stroke="#8a1414" stroke-width="2.1" stroke-linecap="round" opacity="0.81"/>
<line x1="181.9" y1="816.4" x2="186.1" y2="817.9" stroke="#d02024" stroke-width="1.6" stroke-linecap="round" opacity="0.64"/>
<line x1="93.5" y1="708.7" x2="92.7" y2="711.4" stroke="#8a1414" stroke-width="1.8" stroke-linecap="round" opacity="0.64"/>
<line x1="178.4" y1="906.6" x2="181.4" y2="909.3" stroke="#8a1414" stroke-width="2.1" stroke-linecap="round" opacity="0.64"/>
<line x1="148.2" y1="823.7" x2="147.4" y2="827.4" stroke="#f42c2c" stroke-width="2.3" stroke-linecap="round" opacity="0.58"/>
<line x1="40.0" y1="818.4" x2="41.8" y2="821.5" stroke="#8a1414" stroke-width="2.4" stroke-linecap="round" opacity="0.73"/>
<line x1="210.9" y1="880.8" x2="212.6" y2="884.5" stroke="#f42c2c" stroke-width="2.1" stroke-linecap="round" opacity="0.50"/>
<line x1="296.3" y1="828.7" x2="298.8" y2="828.9" stroke="#8a1414" stroke-width="1.7" stroke-linecap="round" opacity="0.50"/>
<line x1="191.0" y1="873.6" x2="186.8" y2="875.7" stroke="#d02024" stroke-width="1.9" stroke-linecap="round" opacity="0.72"/>
<line x1="195.3" y1="806.3" x2="198.3" y2="809.5" stroke="#8a1414" stroke-width="2.3" stroke-linecap="round" opacity="0.53"/>
<line x1="145.9" y1="827.8" x2="145.2" y2="831.2" stroke="#8a1414" stroke-width="1.6" stroke-linecap="round" opacity="0.82"/>
<line x1="65.3" y1="895.2" x2="63.5" y2="895.7" stroke="#8a1414" stroke-width="2.0" stroke-linecap="round" opacity="0.41"/>
<line x1="49.4" y1="809.1" x2="49.0" y2="810.7" stroke="#f42c2c" stroke-width="2.1" stroke-linecap="round" opacity="0.78"/>
<line x1="273.4" y1="763.7" x2="276.3" y2="765.6" stroke="#8a1414" stroke-width="1.8" stroke-linecap="round" opacity="0.60"/>
<line x1="90.0" y1="821.6" x2="93.2" y2="822.4" stroke="#8a1414" stroke-width="2.0" stroke-linecap="round" opacity="0.84"/>
<line x1="137.2" y1="820.7" x2="132.2" y2="821.5" stroke="#f42c2c" stroke-width="2.3" stroke-linecap="round" opacity="0.82"/>
<line x1="37.0" y1="752.9" x2="35.6" y2="756.7" stroke="#d02024" stroke-width="2.3" stroke-linecap="round" opacity="0.39"/>
<line x1="192.9" y1="901.0" x2="191.1" y2="901.8" stroke="#f42c2c" stroke-width="1.4" stroke-linecap="round" opacity="0.37"/>
<line x1="290.2" y1="815.5" x2="287.5" y2="818.1" stroke="#d02024" stroke-width="1.4" stroke-linecap="round" opacity="0.38"/>
<line x1="277.0" y1="905.0" x2="278.5" y2="907.7" stroke="#8a1414" stroke-width="1.4" stroke-linecap="round" opacity="0.74"/>
<line x1="112.6" y1="783.5" x2="111.1" y2="785.9" stroke="#8a1414" stroke-width="1.6" stroke-linecap="round" opacity="0.79"/>
<line x1="180.0" y1="845.4" x2="178.9" y2="847.6" stroke="#8a1414" stroke-width="1.9" stroke-linecap="round" opacity="0.48"/>
<line x1="241.0" y1="847.9" x2="239.6" y2="849.2" stroke="#8a1414" stroke-width="1.6" stroke-linecap="round" opacity="0.56"/>
<line x1="341.3" y1="717.6" x2="336.4" y2="717.7" stroke="#8a1414" stroke-width="1.5" stroke-linecap="round" opacity="0.74"/>
<line x1="35.2" y1="757.4" x2="33.4" y2="757.9" stroke="#8a1414" stroke-width="1.6" stroke-linecap="round" opacity="0.79"/>
<line x1="327.4" y1="891.6" x2="331.9" y2="893.7" stroke="#d02024" stroke-width="2.3" stroke-linecap="round" opacity="0.45"/>
<line x1="74.4" y1="813.3" x2="70.3" y2="813.9" stroke="#8a1414" stroke-width="1.8" stroke-linecap="round" opacity="0.41"/>
<line x1="114.7" y1="893.9" x2="115.7" y2="895.9" stroke="#8a1414" stroke-width="1.7" stroke-linecap="round" opacity="0.44"/>
<line x1="69.6" y1="765.2" x2="67.0" y2="767.6" stroke="#8a1414" stroke-width="2.3" stroke-linecap="round" opacity="0.39"/>
<line x1="266.8" y1="889.4" x2="267.9" y2="891.3" stroke="#d02024" stroke-width="1.7" stroke-linecap="round" opacity="0.75"/>
<line x1="333.2" y1="743.1" x2="333.7" y2="747.8" stroke="#8a1414" stroke-width="2.3" stroke-linecap="round" opacity="0.84"/>
<line x1="36.8" y1="839.5" x2="38.4" y2="840.4" stroke="#8a1414" stroke-width="2.1" stroke-linecap="round" opacity="0.46"/>
<line x1="184.6" y1="805.6" x2="186.9" y2="805.7" stroke="#8a1414" stroke-width="1.4" stroke-linecap="round" opacity="0.48"/>
<line x1="305.6" y1="781.5" x2="306.0" y2="785.0" stroke="#8a1414" stroke-width="2.3" stroke-linecap="round" opacity="0.47"/>
<line x1="322.0" y1="867.0" x2="322.0" y2="869.2" stroke="#f42c2c" stroke-width="1.7" stroke-linecap="round" opacity="0.44"/>
<line x1="79.7" y1="896.8" x2="78.6" y2="898.4" stroke="#8a1414" stroke-width="2.0" stroke-linecap="round" opacity="0.60"/>
<line x1="317.8" y1="761.6" x2="317.8" y2="763.2" stroke="#8a1414" stroke-width="2.0" stroke-linecap="round" opacity="0.67"/>
<line x1="180.1" y1="800.8" x2="180.6" y2="803.4" stroke="#8a1414" stroke-width="2.2" stroke-linecap="round" opacity="0.47"/>
<line x1="288.7" y1="848.5" x2="288.6" y2="853.4" stroke="#8a1414" stroke-width="2.0" stroke-linecap="round" opacity="0.82"/>
<line x1="182.9" y1="750.1" x2="182.8" y2="754.8" stroke="#8a1414" stroke-width="1.6" stroke-linecap="round" opacity="0.46"/>
<line x1="291.6" y1="850.6" x2="288.9" y2="854.7" stroke="#d02024" stroke-width="2.1" stroke-linecap="round" opacity="0.75"/>
<line x1="37.9" y1="759.6" x2="36.4" y2="763.8" stroke="#f42c2c" stroke-width="2.3" stroke-linecap="round" opacity="0.67"/>
<line x1="52.5" y1="809.2" x2="47.8" y2="811.2" stroke="#8a1414" stroke-width="1.6" stroke-linecap="round" opacity="0.70"/>
<line x1="267.2" y1="908.6" x2="265.9" y2="910.1" stroke="#8a1414" stroke-width="2.3" stroke-linecap="round" opacity="0.73"/>
<line x1="276.1" y1="872.3" x2="274.0" y2="876.8" stroke="#8a1414" stroke-width="1.8" stroke-linecap="round" opacity="0.53"/>
<line x1="101.5" y1="803.9" x2="101.3" y2="808.0" stroke="#8a1414" stroke-width="1.7" stroke-linecap="round" opacity="0.44"/>
<line x1="233.5" y1="815.8" x2="230.8" y2="816.4" stroke="#f42c2c" stroke-width="1.7" stroke-linecap="round" opacity="0.83"/>
<line x1="222.3" y1="901.2" x2="224.1" y2="903.4" stroke="#8a1414" stroke-width="1.9" stroke-linecap="round" opacity="0.37"/>
<line x1="297.6" y1="767.6" x2="300.6" y2="770.6" stroke="#8a1414" stroke-width="2.0" stroke-linecap="round" opacity="0.47"/>
<ellipse cx="67.1" cy="637.4" rx="1.7" ry="4.2" fill="#f42c2c" transform="rotate(10 67.1 637.4)"/>
<ellipse cx="60.4" cy="634.9" rx="1.7" ry="2.1" fill="#8a1414"/>
<ellipse cx="138.6" cy="633.3" rx="2.1" ry="2.1" fill="#d02024"/>
<ellipse cx="85.4" cy="654.4" rx="1.2" ry="1.2" fill="#d02024"/>
<ellipse cx="42.5" cy="661.1" rx="2.5" ry="1.7" fill="#f42c2c"/>
<ellipse cx="74.6" cy="671.5" rx="1.7" ry="3.3" fill="#d02024" transform="rotate(10 74.6 671.5)"/>
<ellipse cx="37.1" cy="681.0" rx="3.9" ry="2.1" fill="#f42c2c" transform="rotate(30 37.1 681.0)"/>
<ellipse cx="117.4" cy="611.6" rx="2.5" ry="2.5" fill="#8a1414"/>
<ellipse cx="102.8" cy="618.3" rx="2.9" ry="2.1" fill="#8a1414"/>
<ellipse cx="55.4" cy="707.2" rx="6.2" ry="1.5" fill="#8a1414" transform="rotate(-8 55.4 707.2)"/>
<ellipse cx="159.3" cy="706.4" rx="2.5" ry="2.1" fill="#f42c2c"/>
<ellipse cx="48.0" cy="740.5" rx="6.7" ry="2.1" fill="#f42c2c" transform="rotate(-15 48.0 740.5)"/>
<ellipse cx="66.2" cy="756.3" rx="6.7" ry="2.5" fill="#f42c2c"/>
<ellipse cx="123.6" cy="749.6" rx="3.3" ry="4.2" fill="#d02024" transform="rotate(-30 123.6 749.6)"/>
<ellipse cx="161.0" cy="748.0" rx="2.5" ry="2.1" fill="#d02024"/>
<ellipse cx="181.8" cy="651.5" rx="3.3" ry="2.1" fill="#f42c2c" transform="rotate(10 181.8 651.5)"/>
<ellipse cx="184.3" cy="622.4" rx="2.1" ry="5.0" fill="#f42c2c"/>
<ellipse cx="176.0" cy="605.0" rx="2.1" ry="4.6" fill="#d02024" transform="rotate(10 176.0 605.0)"/>
<ellipse cx="171.0" cy="724.7" rx="2.5" ry="1.7" fill="#8a1414"/>
<ellipse cx="70.4" cy="720.5" rx="1.5" ry="3.7" fill="#8a1414" transform="rotate(10 70.4 720.5)"/>
<ellipse cx="85.4" cy="716.4" rx="2.1" ry="1.5" fill="#8a1414"/>
<path d="M74.6 731.3L86.2 724.7L97.0 716.4L106.1 707.2" fill="none" stroke="#d02024" stroke-width="2.6" stroke-linecap="round" stroke-linejoin="round"/>
<path d="M106.1 741.3L112.8 729.7L117.8 712.2" fill="none" stroke="#d02024" stroke-width="2.4" stroke-linecap="round" stroke-linejoin="round"/>
<path d="M65.4 753.8L76.2 748.8L86.2 745.5" fill="none" stroke="#d02024" stroke-width="2.4" stroke-linecap="round" stroke-linejoin="round"/>
<path d="M156.0 646.6L151.0 666.5L146.0 683.1" fill="none" stroke="#8a1414" stroke-width="2.4" stroke-linecap="round" stroke-linejoin="round"/>
<path d="M146.0 683.1L144.4 708.1L145.6 724.7" fill="none" stroke="#d02024" stroke-width="2.6" stroke-linecap="round" stroke-linejoin="round"/>
<path d="M145.6 724.7L146.5 741.3L146.9 757.9" fill="none" stroke="#f42c2c" stroke-width="4.0" stroke-linecap="round" stroke-linejoin="round"/>
<ellipse cx="247.5" cy="615.0" rx="2.1" ry="2.9" fill="#f42c2c" transform="rotate(15 247.5 615.0)"/>
<ellipse cx="260.8" cy="610.0" rx="4.2" ry="2.5" fill="#f42c2c" transform="rotate(-20 260.8 610.0)"/>
<ellipse cx="285.8" cy="604.2" rx="8.3" ry="1.7" fill="#d02024" transform="rotate(-5 285.8 604.2)"/>
<ellipse cx="300.7" cy="603.3" rx="3.3" ry="2.5" fill="#f42c2c"/>
<ellipse cx="306.5" cy="608.3" rx="2.5" ry="2.1" fill="#f42c2c"/>
<ellipse cx="322.3" cy="605.8" rx="3.7" ry="1.9" fill="#f42c2c" transform="rotate(25 322.3 605.8)"/>
<ellipse cx="334.0" cy="615.8" rx="2.1" ry="2.1" fill="#8a1414"/>
<ellipse cx="267.5" cy="638.2" rx="4.6" ry="2.1" fill="#f42c2c" transform="rotate(30 267.5 638.2)"/>
<ellipse cx="208.4" cy="655.7" rx="7.9" ry="1.9" fill="#f42c2c" transform="rotate(-8 208.4 655.7)"/>
<ellipse cx="186.8" cy="622.4" rx="1.7" ry="5.4" fill="#f42c2c"/>
<ellipse cx="246.7" cy="636.6" rx="1.2" ry="1.2" fill="#8a1414"/>
<ellipse cx="210.9" cy="629.1" rx="1.2" ry="1.7" fill="#8a1414"/>
<ellipse cx="279.1" cy="631.6" rx="1.7" ry="1.7" fill="#8a1414"/>
<ellipse cx="292.4" cy="633.3" rx="2.1" ry="2.9" fill="#8a1414" transform="rotate(20 292.4 633.3)"/>
<ellipse cx="255.8" cy="680.6" rx="1.9" ry="5.4" fill="#d02024"/>
<ellipse cx="269.1" cy="677.3" rx="1.5" ry="1.5" fill="#d02024"/>
<ellipse cx="289.9" cy="679.8" rx="1.7" ry="1.7" fill="#d02024"/>
<ellipse cx="309.9" cy="692.3" rx="2.9" ry="2.1" fill="#f42c2c"/>
<ellipse cx="325.7" cy="695.6" rx="3.3" ry="3.7" fill="#d02024"/>
<ellipse cx="285.8" cy="700.6" rx="3.3" ry="2.1" fill="#d02024" transform="rotate(-20 285.8 700.6)"/>
<ellipse cx="296.6" cy="708.1" rx="2.5" ry="2.1" fill="#d02024"/>
<ellipse cx="277.4" cy="713.9" rx="5.0" ry="1.7" fill="#d02024" transform="rotate(-20 277.4 713.9)"/>
<ellipse cx="230.1" cy="710.6" rx="1.2" ry="6.2" fill="#d02024"/>
<ellipse cx="309.9" cy="720.5" rx="1.7" ry="1.7" fill="#8a1414"/>
<ellipse cx="245.9" cy="728.0" rx="4.6" ry="3.3" fill="#f42c2c"/>
<ellipse cx="284.1" cy="725.5" rx="2.5" ry="1.7" fill="#d02024"/>
<ellipse cx="307.4" cy="738.0" rx="2.5" ry="5.4" fill="#f42c2c" transform="rotate(20 307.4 738.0)"/>
<ellipse cx="338.1" cy="729.7" rx="1.7" ry="2.5" fill="#d02024"/>
<ellipse cx="229.2" cy="748.0" rx="4.2" ry="1.7" fill="#f42c2c" transform="rotate(-30 229.2 748.0)"/>
<ellipse cx="302.4" cy="749.6" rx="5.0" ry="2.1" fill="#f42c2c" transform="rotate(10 302.4 749.6)"/>
<ellipse cx="188.5" cy="749.6" rx="2.5" ry="4.2" fill="#f42c2c" transform="rotate(-30 188.5 749.6)"/>
<ellipse cx="291.6" cy="747.1" rx="3.3" ry="1.7" fill="#f42c2c" transform="rotate(-30 291.6 747.1)"/>
<ellipse cx="339.0" cy="754.6" rx="2.1" ry="2.1" fill="#8a1414"/>
<path d="M201.0 739.7L204.3 729.7L210.9 724.3L220.9 723.9L232.6 729.7" fill="none" stroke="#d02024" stroke-width="2.6" stroke-linecap="round" stroke-linejoin="round"/>
<path d="M256.7 733.0L263.3 729.7L269.1 728.0" fill="none" stroke="#d02024" stroke-width="2.6" stroke-linecap="round" stroke-linejoin="round"/>
<path d="M202.6 755.4L210.9 753.0L219.3 751.3" fill="none" stroke="#d02024" stroke-width="2.4" stroke-linecap="round" stroke-linejoin="round"/>
<ellipse cx="43.8" cy="797.9" rx="1.0" ry="3.7" fill="#d02024"/>
<ellipse cx="77.0" cy="798.7" rx="1.9" ry="1.9" fill="#d02024"/>
<ellipse cx="101.2" cy="774.6" rx="1.2" ry="2.9" fill="#f42c2c"/>
<ellipse cx="91.2" cy="786.3" rx="2.9" ry="1.9" fill="#f42c2c" transform="rotate(20 91.2 786.3)"/>
<ellipse cx="102.8" cy="816.2" rx="3.7" ry="2.5" fill="#f42c2c" transform="rotate(30 102.8 816.2)"/>
<ellipse cx="64.6" cy="857.8" rx="1.2" ry="6.7" fill="#d02024" transform="rotate(10 64.6 857.8)"/>
<ellipse cx="101.2" cy="889.3" rx="3.7" ry="2.5" fill="#f42c2c"/>
<ellipse cx="111.1" cy="891.8" rx="3.3" ry="2.5" fill="#f42c2c"/>
<ellipse cx="72.1" cy="899.3" rx="2.1" ry="5.8" fill="#f42c2c" transform="rotate(5 72.1 899.3)"/>
<ellipse cx="57.1" cy="902.6" rx="4.6" ry="1.7" fill="#d02024" transform="rotate(-10 57.1 902.6)"/>
<ellipse cx="137.7" cy="892.7" rx="1.9" ry="4.2" fill="#f42c2c" transform="rotate(5 137.7 892.7)"/>
<ellipse cx="137.7" cy="906.8" rx="2.3" ry="2.1" fill="#f42c2c"/>
<ellipse cx="171.0" cy="906.0" rx="3.7" ry="2.1" fill="#f42c2c" transform="rotate(-20 171.0 906.0)"/>
<ellipse cx="173.5" cy="871.9" rx="5.4" ry="2.1" fill="#f42c2c" transform="rotate(5 173.5 871.9)"/>
<ellipse cx="114.5" cy="867.7" rx="1.7" ry="4.6" fill="#f42c2c" transform="rotate(15 114.5 867.7)"/>
<ellipse cx="47.1" cy="765.5" rx="1.2" ry="2.5" fill="#d02024"/>
<ellipse cx="158.5" cy="763.0" rx="2.1" ry="3.3" fill="#d02024" transform="rotate(20 158.5 763.0)"/>
<ellipse cx="107.8" cy="845.3" rx="1.0" ry="3.3" fill="#8a1414"/>
<ellipse cx="144.4" cy="886.8" rx="2.1" ry="1.7" fill="#8a1414"/>
<ellipse cx="82.0" cy="891.0" rx="1.7" ry="1.2" fill="#8a1414"/>
<ellipse cx="105.3" cy="899.3" rx="2.5" ry="1.7" fill="#d02024"/>
<path d="M77.9 758.0L84.5 768.8L91.2 779.6L94.5 784.6" fill="none" stroke="#d02024" stroke-width="2.4" stroke-linecap="round" stroke-linejoin="round"/>
<path d="M49.6 761.3L55.4 759.7L62.9 758.0" fill="none" stroke="#d02024" stroke-width="2.2" stroke-linecap="round" stroke-linejoin="round"/>
<path d="M138.6 758.0L140.2 766.3L144.4 774.6" fill="none" stroke="#f42c2c" stroke-width="7.0" stroke-linecap="round" stroke-linejoin="round"/>
<path d="M144.4 774.6L151.0 787.1L157.7 799.6L162.7 809.5L168.5 820.3" fill="none" stroke="#f42c2c" stroke-width="5.2" stroke-linecap="round" stroke-linejoin="round"/>
<path d="M114.5 773.8L124.4 773.8L135.2 773.4" fill="none" stroke="#f42c2c" stroke-width="3.2" stroke-linecap="round" stroke-linejoin="round"/>
<path d="M157.7 782.9L161.8 775.5L166.0 768.8" fill="none" stroke="#d02024" stroke-width="2.2" stroke-linecap="round" stroke-linejoin="round"/>
<ellipse cx="136.9" cy="787.9" rx="11.4" ry="10" fill="none" stroke="#f42c2c" stroke-width="3.6"/>
<path d="M111.1 850.3L121.9 845.3L135.2 837.8L146.9 828.7L156.0 822.4L169.3 827.0L174.3 832.8L185.9 839.0L191.0 842.0L186.0 846.1L174.3 853.6L165.2 866.1L157.7 869.0L151.0 874.4L136.1 871.9L127.8 866.1L119.4 858.6Z" fill="#f42c2c"/>
<ellipse cx="142.8" cy="839.0" rx="1.3" ry="0.9" fill="#8a1212" opacity="0.75" transform="rotate(9 142.8 839.0)"/>
<ellipse cx="143.7" cy="852.3" rx="1.3" ry="0.9" fill="#8a1212" opacity="0.75" transform="rotate(171 143.7 852.3)"/>
<ellipse cx="153.2" cy="849.0" rx="1.3" ry="0.9" fill="#8a1212" opacity="0.75" transform="rotate(73 153.2 849.0)"/>
<ellipse cx="139.7" cy="850.8" rx="1.3" ry="0.9" fill="#8a1212" opacity="0.75" transform="rotate(173 139.7 850.8)"/>
<ellipse cx="136.0" cy="849.6" rx="1.3" ry="0.9" fill="#8a1212" opacity="0.75" transform="rotate(123 136.0 849.6)"/>
<ellipse cx="157.3" cy="853.1" rx="1.3" ry="0.9" fill="#8a1212" opacity="0.75" transform="rotate(115 157.3 853.1)"/>
<ellipse cx="163.1" cy="863.2" rx="1.3" ry="0.9" fill="#8a1212" opacity="0.75" transform="rotate(45 163.1 863.2)"/>
<ellipse cx="149.9" cy="866.0" rx="1.3" ry="0.9" fill="#8a1212" opacity="0.75" transform="rotate(95 149.9 866.0)"/>
<ellipse cx="138.2" cy="859.3" rx="1.3" ry="0.9" fill="#8a1212" opacity="0.75" transform="rotate(10 138.2 859.3)"/>
<ellipse cx="136.9" cy="853.0" rx="1.3" ry="0.9" fill="#8a1212" opacity="0.75" transform="rotate(49 136.9 853.0)"/>
<ellipse cx="155.8" cy="858.1" rx="1.3" ry="0.9" fill="#8a1212" opacity="0.75" transform="rotate(57 155.8 858.1)"/>
<ellipse cx="157.4" cy="855.8" rx="1.3" ry="0.9" fill="#8a1212" opacity="0.75" transform="rotate(127 157.4 855.8)"/>
<ellipse cx="147.1" cy="849.6" rx="1.3" ry="0.9" fill="#8a1212" opacity="0.75" transform="rotate(19 147.1 849.6)"/>
<ellipse cx="147.7" cy="864.7" rx="1.3" ry="0.9" fill="#8a1212" opacity="0.75" transform="rotate(160 147.7 864.7)"/>
<path d="M107.8 841.1L107.0 849.4L111.1 854.4" fill="none" stroke="#d02024" stroke-width="2.0" stroke-linecap="round" stroke-linejoin="round"/>
<path d="M227.6 799.6L237.5 793.7L252.5 788.8L265.8 786.3L263.3 793.7L256.7 803.7L245.9 812.0L232.6 818.3L228.0 816.2L232.6 807.9Z" fill="#f42c2c"/>
<ellipse cx="237.0" cy="794.0" rx="1.1" ry="0.8" fill="#8a1212" opacity="0.70"/>
<ellipse cx="241.5" cy="803.3" rx="1.1" ry="0.8" fill="#8a1212" opacity="0.70"/>
<ellipse cx="245.0" cy="794.8" rx="1.1" ry="0.8" fill="#8a1212" opacity="0.70"/>
<ellipse cx="244.7" cy="801.5" rx="1.1" ry="0.8" fill="#8a1212" opacity="0.70"/>
<ellipse cx="251.3" cy="798.9" rx="1.1" ry="0.8" fill="#8a1212" opacity="0.70"/>
<line x1="192.7" y1="773.8" x2="217.6" y2="768.8" stroke="#f42c2c" stroke-width="3.6" stroke-linecap="round"/>
<line x1="193.5" y1="778.8" x2="202.6" y2="778.0" stroke="#f42c2c" stroke-width="2.6" stroke-linecap="round"/>
<line x1="279.9" y1="815.4" x2="294.1" y2="820.3" stroke="#f42c2c" stroke-width="3.6" stroke-linecap="round"/>
<line x1="305.7" y1="797.9" x2="312.4" y2="789.6" stroke="#f42c2c" stroke-width="3.2" stroke-linecap="round"/>
<ellipse cx="209.7" cy="843.6" rx="4.2" ry="2.1" fill="#f42c2c" transform="rotate(-10 209.7 843.6)"/>
<ellipse cx="208.9" cy="854.8" rx="6.7" ry="1.9" fill="#f42c2c" transform="rotate(-10 208.9 854.8)"/>
<ellipse cx="191.8" cy="842.0" rx="6.2" ry="2.1" fill="#f42c2c" transform="rotate(-10 191.8 842.0)"/>
<ellipse cx="192.7" cy="864.4" rx="2.5" ry="2.9" fill="#f42c2c"/>
<ellipse cx="240.0" cy="842.0" rx="1.5" ry="4.6" fill="#d02024" transform="rotate(5 240.0 842.0)"/>
<ellipse cx="264.1" cy="837.8" rx="1.5" ry="2.5" fill="#d02024"/>
<ellipse cx="259.2" cy="833.6" rx="1.7" ry="1.7" fill="#d02024"/>
<ellipse cx="277.9" cy="869.0" rx="4.2" ry="1.7" fill="#f42c2c" transform="rotate(5 277.9 869.0)"/>
<ellipse cx="306.5" cy="870.2" rx="1.7" ry="4.6" fill="#f42c2c"/>
<ellipse cx="237.5" cy="885.2" rx="2.5" ry="2.5" fill="#f42c2c"/>
<ellipse cx="281.6" cy="877.7" rx="1.9" ry="1.9" fill="#d02024"/>
<ellipse cx="310.7" cy="885.2" rx="2.1" ry="2.1" fill="#f42c2c"/>
<ellipse cx="196.0" cy="900.1" rx="7.1" ry="2.1" fill="#f42c2c" transform="rotate(-10 196.0 900.1)"/>
<ellipse cx="260.8" cy="910.1" rx="2.5" ry="2.1" fill="#f42c2c"/>
<ellipse cx="330.6" cy="906.8" rx="2.5" ry="3.7" fill="#f42c2c" transform="rotate(-20 330.6 906.8)"/>
<ellipse cx="262.5" cy="778.8" rx="3.3" ry="2.9" fill="#8a1414"/>
<ellipse cx="312.4" cy="763.0" rx="1.7" ry="2.9" fill="#d02024"/>
<ellipse cx="314.8" cy="831.2" rx="2.5" ry="2.1" fill="#d02024"/>
<ellipse cx="327.3" cy="827.0" rx="3.7" ry="1.5" fill="#8a1414" transform="rotate(-30 327.3 827.0)"/>
<ellipse cx="284.1" cy="824.5" rx="3.3" ry="1.2" fill="#8a1414" transform="rotate(-20 284.1 824.5)"/>
<ellipse cx="269.1" cy="851.1" rx="2.9" ry="1.7" fill="#8a1414" transform="rotate(-30 269.1 851.1)"/>
<ellipse cx="247.5" cy="857.8" rx="3.3" ry="2.1" fill="#d02024"/>
<ellipse cx="290.7" cy="759.7" rx="2.5" ry="1.5" fill="#d02024"/>
<ellipse cx="244.2" cy="760.5" rx="2.1" ry="2.5" fill="#d02024"/>
<ellipse cx="334.0" cy="759.7" rx="1.7" ry="1.7" fill="#d02024"/>
<ellipse cx="329.8" cy="780.4" rx="6.2" ry="1.7" fill="#8a1414" transform="rotate(5 329.8 780.4)"/>
<ellipse cx="220.9" cy="878.5" rx="2.9" ry="1.7" fill="#d02024"/>
<ellipse cx="341.4" cy="861.1" rx="1.7" ry="3.7" fill="#8a1414" transform="rotate(10 341.4 861.1)"/>
</g></g>
<rect x="154" y="889" width="175" height="8.5" fill="#fff"/>
<text x="185.8" y="584.7" font-size="25.5" text-anchor="middle">ChRmine</text>
<rect x="1063.5" y="371.7" width="34.8" height="35.7" fill="#f2cdc0"/>
<rect x="1117.8" y="279.8" width="34.8" height="127.6" fill="#d1553f"/>
<rect x="1172" y="140" width="34.8" height="267.4" fill="#c4202a"/>
<rect x="1226.5" y="116" width="34.8" height="291.4" fill="#8f1838"/>
<path d="M1053 91.3V407.4H1271.6" fill="none" stroke="#231f20" stroke-width="2.5"/>
<line x1="1053" y1="407.4" x2="1059.5" y2="407.4" stroke="#231f20" stroke-width="2"/>
<text x="1047.4" y="416.1" font-size="24.5" text-anchor="end">0.0</text>
<line x1="1053" y1="347.2" x2="1059.5" y2="347.2" stroke="#231f20" stroke-width="2"/>
<text x="1047.4" y="355.9" font-size="24.5" text-anchor="end">0.2</text>
<line x1="1053" y1="287.1" x2="1059.5" y2="287.1" stroke="#231f20" stroke-width="2"/>
<text x="1047.4" y="295.8" font-size="24.5" text-anchor="end">0.4</text>
<line x1="1053" y1="226.9" x2="1059.5" y2="226.9" stroke="#231f20" stroke-width="2"/>
<text x="1047.4" y="235.6" font-size="24.5" text-anchor="end">0.6</text>
<line x1="1053" y1="166.8" x2="1059.5" y2="166.8" stroke="#231f20" stroke-width="2"/>
<text x="1047.4" y="175.5" font-size="24.5" text-anchor="end">0.8</text>
<line x1="1053" y1="106.6" x2="1059.5" y2="106.6" stroke="#231f20" stroke-width="2"/>
<text x="1047.4" y="115.3" font-size="24.5" text-anchor="end">1.0</text>
<text x="1081.4" y="434.5" font-size="24.5" text-anchor="middle">1</text>
<text x="1135.7" y="434.5" font-size="24.5" text-anchor="middle">2.5</text>
<text x="1189.9" y="434.5" font-size="24.5" text-anchor="middle">5</text>
<text x="1244.4" y="434.5" font-size="24.5" text-anchor="middle">10</text>
<line x1="1108" y1="407.4" x2="1108" y2="403.9" stroke="#231f20" stroke-width="2"/>
<line x1="1162.3" y1="407.4" x2="1162.3" y2="403.9" stroke="#231f20" stroke-width="2"/>
<line x1="1216.7" y1="407.4" x2="1216.7" y2="403.9" stroke="#231f20" stroke-width="2"/>
<line x1="1271" y1="407.4" x2="1271" y2="403.9" stroke="#231f20" stroke-width="2"/>
<text x="1166" y="468.2" font-size="25.2" text-anchor="middle">Pulse width (ms)</text>
<text x="0" y="0" transform="translate(988 246) rotate(-90)" font-size="24.5" text-anchor="middle">Spike probability</text>
<rect x="1436" y="331.1" width="35.5" height="76.3" fill="#f2cdc0"/>
<rect x="1491.3" y="336" width="35.5" height="71.4" fill="#d1553f"/>
<rect x="1547" y="307.9" width="35.5" height="99.5" fill="#c4202a"/>
<rect x="1602.5" y="287" width="35.5" height="120.4" fill="#8f1838"/>
<path d="M1425.8 93.1V407.4H1648.2" fill="none" stroke="#231f20" stroke-width="2.5"/>
<line x1="1425.8" y1="407.4" x2="1432.3" y2="407.4" stroke="#231f20" stroke-width="2"/>
<text x="1420.1" y="416.1" font-size="24.5" text-anchor="end">0</text>
<line x1="1425.8" y1="344.5" x2="1432.3" y2="344.5" stroke="#231f20" stroke-width="2"/>
<text x="1420.1" y="353.2" font-size="24.5" text-anchor="end">1</text>
<line x1="1425.8" y1="281.7" x2="1432.3" y2="281.7" stroke="#231f20" stroke-width="2"/>
<text x="1420.1" y="290.4" font-size="24.5" text-anchor="end">2</text>
<line x1="1425.8" y1="218.8" x2="1432.3" y2="218.8" stroke="#231f20" stroke-width="2"/>
<text x="1420.1" y="227.5" font-size="24.5" text-anchor="end">3</text>
<line x1="1425.8" y1="156" x2="1432.3" y2="156" stroke="#231f20" stroke-width="2"/>
<text x="1420.1" y="164.7" font-size="24.5" text-anchor="end">4</text>
<line x1="1425.8" y1="93.1" x2="1432.3" y2="93.1" stroke="#231f20" stroke-width="2"/>
<text x="1420.1" y="101.8" font-size="24.5" text-anchor="end">5</text>
<text x="1454.2" y="434.5" font-size="24.5" text-anchor="middle">1</text>
<text x="1509.5" y="434.5" font-size="24.5" text-anchor="middle">2.5</text>
<text x="1565.2" y="434.5" font-size="24.5" text-anchor="middle">5</text>
<text x="1620.8" y="434.5" font-size="24.5" text-anchor="middle">10</text>
<line x1="1481.5" y1="407.4" x2="1481.5" y2="403.9" stroke="#231f20" stroke-width="2"/>
<line x1="1537" y1="407.4" x2="1537" y2="403.9" stroke="#231f20" stroke-width="2"/>
<line x1="1592.6" y1="407.4" x2="1592.6" y2="403.9" stroke="#231f20" stroke-width="2"/>
<line x1="1648" y1="407.4" x2="1648" y2="403.9" stroke="#231f20" stroke-width="2"/>
<text x="1541" y="468.2" font-size="25.2" text-anchor="middle">Pulse width (ms)</text>
<text x="0" y="0" transform="translate(1377.5 233.9) rotate(-90)" font-size="27.1" text-anchor="middle">Spikes per trial</text>
<rect x="1793.2" y="181.9" width="35.3" height="227.3" fill="#f2cdc0"/>
<rect x="1848.3" y="207.9" width="35.3" height="201.3" fill="#d1553f"/>
<rect x="1903.7" y="275" width="35.3" height="134.2" fill="#c4202a"/>
<rect x="1958.8" y="284.7" width="35.3" height="124.5" fill="#8f1838"/>
<path d="M1783 93.9V409.2H2005" fill="none" stroke="#231f20" stroke-width="2.5"/>
<line x1="1783" y1="409.2" x2="1789.5" y2="409.2" stroke="#231f20" stroke-width="2"/>
<text x="1779.2" y="417.9" font-size="24.5" text-anchor="end">0</text>
<line x1="1783" y1="330.4" x2="1789.5" y2="330.4" stroke="#231f20" stroke-width="2"/>
<text x="1779.2" y="339.1" font-size="24.5" text-anchor="end">5</text>
<line x1="1783" y1="251.6" x2="1789.5" y2="251.6" stroke="#231f20" stroke-width="2"/>
<text x="1779.2" y="260.2" font-size="24.5" text-anchor="end">10</text>
<line x1="1783" y1="172.7" x2="1789.5" y2="172.7" stroke="#231f20" stroke-width="2"/>
<text x="1779.2" y="181.4" font-size="24.5" text-anchor="end">15</text>
<line x1="1783" y1="93.9" x2="1789.5" y2="93.9" stroke="#231f20" stroke-width="2"/>
<text x="1779.2" y="102.6" font-size="24.5" text-anchor="end">20</text>
<text x="1811.4" y="434.5" font-size="24.5" text-anchor="middle">1</text>
<text x="1866.5" y="434.5" font-size="24.5" text-anchor="middle">2.5</text>
<text x="1921.9" y="434.5" font-size="24.5" text-anchor="middle">5</text>
<text x="1977" y="434.5" font-size="24.5" text-anchor="middle">10</text>
<line x1="1838.5" y1="409.2" x2="1838.5" y2="405.7" stroke="#231f20" stroke-width="2"/>
<line x1="1893.8" y1="409.2" x2="1893.8" y2="405.7" stroke="#231f20" stroke-width="2"/>
<line x1="1949" y1="409.2" x2="1949" y2="405.7" stroke="#231f20" stroke-width="2"/>
<text x="1895.5" y="468.2" font-size="25.2" text-anchor="middle">Pulse width (ms)</text>
<text x="0" y="0" transform="translate(1736 249.4) rotate(-90)" font-size="24.8" text-anchor="middle">Spike latency (ms)</text>
<rect x="1064.2" y="648.7" width="35" height="266.8" fill="#f2cdc0"/>
<rect x="1119.3" y="656.8" width="35" height="258.7" fill="#d1553f"/>
<rect x="1174.4" y="670.4" width="35" height="245.1" fill="#c4202a"/>
<rect x="1229.5" y="782.1" width="35" height="133.4" fill="#8f1838"/>
<path d="M1054 600.2V915.5H1274.7" fill="none" stroke="#231f20" stroke-width="2.5"/>
<line x1="1054" y1="915.5" x2="1060.5" y2="915.5" stroke="#231f20" stroke-width="2"/>
<text x="1047.9" y="924.2" font-size="24.5" text-anchor="end">0.0</text>
<line x1="1054" y1="855.5" x2="1060.5" y2="855.5" stroke="#231f20" stroke-width="2"/>
<text x="1047.9" y="864.2" font-size="24.5" text-anchor="end">0.2</text>
<line x1="1054" y1="795.5" x2="1060.5" y2="795.5" stroke="#231f20" stroke-width="2"/>
<text x="1047.9" y="804.2" font-size="24.5" text-anchor="end">0.4</text>
<line x1="1054" y1="735.5" x2="1060.5" y2="735.5" stroke="#231f20" stroke-width="2"/>
<text x="1047.9" y="744.2" font-size="24.5" text-anchor="end">0.6</text>
<line x1="1054" y1="675.5" x2="1060.5" y2="675.5" stroke="#231f20" stroke-width="2"/>
<text x="1047.9" y="684.2" font-size="24.5" text-anchor="end">0.8</text>
<line x1="1054" y1="615.5" x2="1060.5" y2="615.5" stroke="#231f20" stroke-width="2"/>
<text x="1047.9" y="624.2" font-size="24.5" text-anchor="end">1.0</text>
<text x="1082.2" y="939" font-size="24.5" text-anchor="middle">5</text>
<text x="1137.3" y="939" font-size="24.5" text-anchor="middle">10</text>
<text x="1192.4" y="939" font-size="24.5" text-anchor="middle">20</text>
<text x="1247.5" y="939" font-size="24.5" text-anchor="middle">40</text>
<line x1="1109.2" y1="915.5" x2="1109.2" y2="912" stroke="#231f20" stroke-width="2"/>
<line x1="1164.3" y1="915.5" x2="1164.3" y2="912" stroke="#231f20" stroke-width="2"/>
<line x1="1219.4" y1="915.5" x2="1219.4" y2="912" stroke="#231f20" stroke-width="2"/>
<line x1="1274.5" y1="915.5" x2="1274.5" y2="912" stroke="#231f20" stroke-width="2"/>
<text x="1166" y="974" font-size="25.2" text-anchor="middle">Frequency (Hz)</text>
<text x="0" y="0" transform="translate(988 758.5) rotate(-90)" font-size="24.5" text-anchor="middle">Spike probability</text>
<rect x="1439" y="785.4" width="35.2" height="130.1" fill="#f2cdc0"/>
<rect x="1494" y="810.9" width="35.2" height="104.6" fill="#d1553f"/>
<rect x="1549.2" y="831.3" width="35.2" height="84.2" fill="#c4202a"/>
<rect x="1604" y="839.7" width="35.2" height="75.8" fill="#8f1838"/>
<path d="M1429 599.2V915.5H1649" fill="none" stroke="#231f20" stroke-width="2.5"/>
<line x1="1429" y1="915.5" x2="1435.5" y2="915.5" stroke="#231f20" stroke-width="2"/>
<text x="1423.3" y="924.2" font-size="24.5" text-anchor="end">0</text>
<line x1="1429" y1="852.2" x2="1435.5" y2="852.2" stroke="#231f20" stroke-width="2"/>
<text x="1423.3" y="860.9" font-size="24.5" text-anchor="end">1</text>
<line x1="1429" y1="789" x2="1435.5" y2="789" stroke="#231f20" stroke-width="2"/>
<text x="1423.3" y="797.7" font-size="24.5" text-anchor="end">2</text>
<line x1="1429" y1="725.7" x2="1435.5" y2="725.7" stroke="#231f20" stroke-width="2"/>
<text x="1423.3" y="734.4" font-size="24.5" text-anchor="end">3</text>
<line x1="1429" y1="662.5" x2="1435.5" y2="662.5" stroke="#231f20" stroke-width="2"/>
<text x="1423.3" y="671.2" font-size="24.5" text-anchor="end">4</text>
<line x1="1429" y1="599.2" x2="1435.5" y2="599.2" stroke="#231f20" stroke-width="2"/>
<text x="1423.3" y="607.9" font-size="24.5" text-anchor="end">5</text>
<text x="1457.1" y="939" font-size="24.5" text-anchor="middle">5</text>
<text x="1512.1" y="939" font-size="24.5" text-anchor="middle">10</text>
<text x="1567.3" y="939" font-size="24.5" text-anchor="middle">20</text>
<text x="1622.1" y="939" font-size="24.5" text-anchor="middle">40</text>
<line x1="1484.2" y1="915.5" x2="1484.2" y2="912" stroke="#231f20" stroke-width="2"/>
<line x1="1539.3" y1="915.5" x2="1539.3" y2="912" stroke="#231f20" stroke-width="2"/>
<line x1="1594.3" y1="915.5" x2="1594.3" y2="912" stroke="#231f20" stroke-width="2"/>
<line x1="1649" y1="915.5" x2="1649" y2="912" stroke="#231f20" stroke-width="2"/>
<text x="1541" y="974" font-size="25.2" text-anchor="middle">Frequency (Hz)</text>
<text x="0" y="0" transform="translate(1376.8 751.5) rotate(-90)" font-size="24.5" text-anchor="middle">Spikes per trial</text>
<rect x="1793.2" y="777.8" width="35.2" height="138.7" fill="#f2cdc0"/>
<rect x="1848.3" y="779.5" width="35.2" height="137" fill="#d1553f"/>
<rect x="1903.4" y="801.2" width="35.2" height="115.3" fill="#c4202a"/>
<rect x="1958.5" y="802.2" width="35.2" height="114.3" fill="#8f1838"/>
<path d="M1783 600V916.5H2005" fill="none" stroke="#231f20" stroke-width="2.5"/>
<line x1="1783" y1="916.5" x2="1789.5" y2="916.5" stroke="#231f20" stroke-width="2"/>
<text x="1779.2" y="925.2" font-size="24.5" text-anchor="end">0</text>
<line x1="1783" y1="837.4" x2="1789.5" y2="837.4" stroke="#231f20" stroke-width="2"/>
<text x="1779.2" y="846.1" font-size="24.5" text-anchor="end">5</text>
<line x1="1783" y1="758.2" x2="1789.5" y2="758.2" stroke="#231f20" stroke-width="2"/>
<text x="1779.2" y="766.9" font-size="24.5" text-anchor="end">10</text>
<line x1="1783" y1="679.1" x2="1789.5" y2="679.1" stroke="#231f20" stroke-width="2"/>
<text x="1779.2" y="687.8" font-size="24.5" text-anchor="end">15</text>
<line x1="1783" y1="600" x2="1789.5" y2="600" stroke="#231f20" stroke-width="2"/>
<text x="1779.2" y="608.7" font-size="24.5" text-anchor="end">20</text>
<text x="1811.3" y="939" font-size="24.5" text-anchor="middle">5</text>
<text x="1866.4" y="939" font-size="24.5" text-anchor="middle">10</text>
<text x="1921.5" y="939" font-size="24.5" text-anchor="middle">20</text>
<text x="1976.6" y="939" font-size="24.5" text-anchor="middle">40</text>
<line x1="1838.5" y1="916.5" x2="1838.5" y2="913" stroke="#231f20" stroke-width="2"/>
<line x1="1893.6" y1="916.5" x2="1893.6" y2="913" stroke="#231f20" stroke-width="2"/>
<line x1="1948.7" y1="916.5" x2="1948.7" y2="913" stroke="#231f20" stroke-width="2"/>
<text x="1895.5" y="974" font-size="25.2" text-anchor="middle">Frequency (Hz)</text>
<text x="0" y="0" transform="translate(1736.5 758.5) rotate(-90)" font-size="25.9" text-anchor="middle">Spike latency (ms)</text>
<line x1="1080.8" y1="354.6" x2="1080.8" y2="388.3" stroke="#231f20" stroke-width="2.15"/>
<line x1="1071.1" y1="354.6" x2="1090.5" y2="354.6" stroke="#231f20" stroke-width="2.15"/>
<line x1="1071.1" y1="388.3" x2="1090.5" y2="388.3" stroke="#231f20" stroke-width="2.15"/>
<line x1="1135.2" y1="234.7" x2="1135.2" y2="324" stroke="#231f20" stroke-width="2.15"/>
<line x1="1125.5" y1="234.7" x2="1144.9" y2="234.7" stroke="#231f20" stroke-width="2.15"/>
<line x1="1125.5" y1="324" x2="1144.9" y2="324" stroke="#231f20" stroke-width="2.15"/>
<line x1="1189.5" y1="123" x2="1189.5" y2="156.9" stroke="#231f20" stroke-width="2.15"/>
<line x1="1179.8" y1="123" x2="1199.2" y2="123" stroke="#231f20" stroke-width="2.15"/>
<line x1="1179.8" y1="156.9" x2="1199.2" y2="156.9" stroke="#231f20" stroke-width="2.15"/>
<line x1="1243.6" y1="111" x2="1243.6" y2="119.9" stroke="#231f20" stroke-width="2.15"/>
<line x1="1233.9" y1="111" x2="1253.3" y2="111" stroke="#231f20" stroke-width="2.15"/>
<line x1="1233.9" y1="119.9" x2="1253.3" y2="119.9" stroke="#231f20" stroke-width="2.15"/>
<circle cx="1066.8" cy="407.4" r="3.05" fill="#fff" stroke="#231f20" stroke-width="1.8"/>
<circle cx="1080.8" cy="407.4" r="3.05" fill="#fff" stroke="#231f20" stroke-width="1.8"/>
<circle cx="1094.8" cy="403.6" r="3.05" fill="#fff" stroke="#231f20" stroke-width="1.8"/>
<circle cx="1073.9" cy="398" r="3.05" fill="#fff" stroke="#231f20" stroke-width="1.8"/>
<circle cx="1088" cy="351.5" r="3.05" fill="#fff" stroke="#231f20" stroke-width="1.8"/>
<circle cx="1084.1" cy="338.5" r="3.05" fill="#fff" stroke="#231f20" stroke-width="1.8"/>
<circle cx="1077.2" cy="294.1" r="3.05" fill="#fff" stroke="#231f20" stroke-width="1.8"/>
<circle cx="1123.7" cy="390.3" r="3.05" fill="#fff" stroke="#231f20" stroke-width="1.8"/>
<circle cx="1135.2" cy="387.8" r="3.05" fill="#fff" stroke="#231f20" stroke-width="1.8"/>
<circle cx="1146.6" cy="368.1" r="3.05" fill="#fff" stroke="#231f20" stroke-width="1.8"/>
<circle cx="1135.2" cy="334.2" r="3.05" fill="#fff" stroke="#231f20" stroke-width="1.8"/>
<circle cx="1135.2" cy="207.1" r="3.05" fill="#fff" stroke="#231f20" stroke-width="1.8"/>
<circle cx="1141" cy="160.2" r="3.05" fill="#fff" stroke="#231f20" stroke-width="1.8"/>
<circle cx="1129.3" cy="110.2" r="3.05" fill="#fff" stroke="#231f20" stroke-width="1.8"/>
<circle cx="1183.6" cy="107.1" r="3.05" fill="#fff" stroke="#231f20" stroke-width="1.8"/>
<circle cx="1195.6" cy="107.1" r="3.05" fill="#fff" stroke="#231f20" stroke-width="1.8"/>
<circle cx="1201" cy="111" r="3.05" fill="#fff" stroke="#231f20" stroke-width="1.8"/>
<circle cx="1189.5" cy="122.4" r="3.05" fill="#fff" stroke="#231f20" stroke-width="1.8"/>
<circle cx="1177.8" cy="133.9" r="3.05" fill="#fff" stroke="#231f20" stroke-width="1.8"/>
<circle cx="1189.5" cy="168.4" r="3.05" fill="#fff" stroke="#231f20" stroke-width="1.8"/>
<circle cx="1189.5" cy="231.4" r="3.05" fill="#fff" stroke="#231f20" stroke-width="1.8"/>
<circle cx="1230.8" cy="107.7" r="3.05" fill="#fff" stroke="#231f20" stroke-width="1.8"/>
<circle cx="1236.7" cy="107.1" r="3.05" fill="#fff" stroke="#231f20" stroke-width="1.8"/>
<circle cx="1244.3" cy="107.1" r="3.05" fill="#fff" stroke="#231f20" stroke-width="1.8"/>
<circle cx="1252.5" cy="107.1" r="3.05" fill="#fff" stroke="#231f20" stroke-width="1.8"/>
<circle cx="1257.1" cy="115.3" r="3.05" fill="#fff" stroke="#231f20" stroke-width="1.8"/>
<circle cx="1239.7" cy="132.7" r="3.05" fill="#fff" stroke="#231f20" stroke-width="1.8"/>
<circle cx="1248.2" cy="135.2" r="3.05" fill="#fff" stroke="#231f20" stroke-width="1.8"/>
<line x1="1084.9" y1="17.1" x2="1244.3" y2="17.1" stroke="#231f20" stroke-width="2"/>
<text x="1162.4" y="18.7" font-size="24.5" text-anchor="middle">****</text>
<line x1="1136.9" y1="39" x2="1244.3" y2="39" stroke="#231f20" stroke-width="2"/>
<text x="1188.7" y="40.6" font-size="24.5" text-anchor="middle">***</text>
<line x1="1084.9" y1="67.9" x2="1183.6" y2="67.9" stroke="#231f20" stroke-width="2"/>
<text x="1135.9" y="69.5" font-size="24.5" text-anchor="middle">****</text>
<line x1="1193.8" y1="67.9" x2="1244.3" y2="67.9" stroke="#231f20" stroke-width="2"/>
<text x="1221.4" y="62.4" font-size="24.5" text-anchor="middle">NS</text>
<line x1="1084.9" y1="97.2" x2="1130.1" y2="97.2" stroke="#231f20" stroke-width="2"/>
<text x="1108.4" y="91.7" font-size="24.5" text-anchor="middle">NS</text>
<line x1="1139" y1="97.2" x2="1186.2" y2="97.2" stroke="#231f20" stroke-width="2"/>
<text x="1162.7" y="98.8" font-size="24.5" text-anchor="middle">**</text>
<line x1="1453.8" y1="318.9" x2="1453.8" y2="343.1" stroke="#231f20" stroke-width="2.15"/>
<line x1="1444.1" y1="318.9" x2="1463.5" y2="318.9" stroke="#231f20" stroke-width="2.15"/>
<line x1="1444.1" y1="343.1" x2="1463.5" y2="343.1" stroke="#231f20" stroke-width="2.15"/>
<line x1="1509.2" y1="329.6" x2="1509.2" y2="340.6" stroke="#231f20" stroke-width="2.15"/>
<line x1="1499.5" y1="329.6" x2="1518.9" y2="329.6" stroke="#231f20" stroke-width="2.15"/>
<line x1="1499.5" y1="340.6" x2="1518.9" y2="340.6" stroke="#231f20" stroke-width="2.15"/>
<line x1="1564.5" y1="293.9" x2="1564.5" y2="321.4" stroke="#231f20" stroke-width="2.15"/>
<line x1="1554.8" y1="293.9" x2="1574.2" y2="293.9" stroke="#231f20" stroke-width="2.15"/>
<line x1="1554.8" y1="321.4" x2="1574.2" y2="321.4" stroke="#231f20" stroke-width="2.15"/>
<line x1="1619.9" y1="262.8" x2="1619.9" y2="309.9" stroke="#231f20" stroke-width="2.15"/>
<line x1="1610.2" y1="262.8" x2="1629.6" y2="262.8" stroke="#231f20" stroke-width="2.15"/>
<line x1="1610.2" y1="309.9" x2="1629.6" y2="309.9" stroke="#231f20" stroke-width="2.15"/>
<circle cx="1440.3" cy="344.9" r="3.05" fill="#fff" stroke="#231f20" stroke-width="1.8"/>
<circle cx="1449.2" cy="341.1" r="3.05" fill="#fff" stroke="#231f20" stroke-width="1.8"/>
<circle cx="1458.2" cy="344.9" r="3.05" fill="#fff" stroke="#231f20" stroke-width="1.8"/>
<circle cx="1467.1" cy="344.9" r="3.05" fill="#fff" stroke="#231f20" stroke-width="1.8"/>
<circle cx="1453.8" cy="281.9" r="3.05" fill="#fff" stroke="#231f20" stroke-width="1.8"/>
<circle cx="1494.4" cy="344.9" r="3.05" fill="#fff" stroke="#231f20" stroke-width="1.8"/>
<circle cx="1500.3" cy="344.9" r="3.05" fill="#fff" stroke="#231f20" stroke-width="1.8"/>
<circle cx="1506.1" cy="341.8" r="3.05" fill="#fff" stroke="#231f20" stroke-width="1.8"/>
<circle cx="1512.2" cy="344.9" r="3.05" fill="#fff" stroke="#231f20" stroke-width="1.8"/>
<circle cx="1524" cy="344.9" r="3.05" fill="#fff" stroke="#231f20" stroke-width="1.8"/>
<circle cx="1518.1" cy="329.1" r="3.05" fill="#fff" stroke="#231f20" stroke-width="1.8"/>
<circle cx="1509.2" cy="301" r="3.05" fill="#fff" stroke="#231f20" stroke-width="1.8"/>
<circle cx="1552.6" cy="344.4" r="3.05" fill="#fff" stroke="#231f20" stroke-width="1.8"/>
<circle cx="1564.5" cy="344.9" r="3.05" fill="#fff" stroke="#231f20" stroke-width="1.8"/>
<circle cx="1576.3" cy="334.2" r="3.05" fill="#fff" stroke="#231f20" stroke-width="1.8"/>
<circle cx="1570.4" cy="307.9" r="3.05" fill="#fff" stroke="#231f20" stroke-width="1.8"/>
<circle cx="1558.9" cy="301" r="3.05" fill="#fff" stroke="#231f20" stroke-width="1.8"/>
<circle cx="1570.4" cy="271.7" r="3.05" fill="#fff" stroke="#231f20" stroke-width="1.8"/>
<circle cx="1558.9" cy="250.8" r="3.05" fill="#fff" stroke="#231f20" stroke-width="1.8"/>
<circle cx="1608.2" cy="338" r="3.05" fill="#fff" stroke="#231f20" stroke-width="1.8"/>
<circle cx="1619.9" cy="343.9" r="3.05" fill="#fff" stroke="#231f20" stroke-width="1.8"/>
<circle cx="1631.6" cy="336.7" r="3.05" fill="#fff" stroke="#231f20" stroke-width="1.8"/>
<circle cx="1626" cy="295.9" r="3.05" fill="#fff" stroke="#231f20" stroke-width="1.8"/>
<circle cx="1614.3" cy="287.8" r="3.05" fill="#fff" stroke="#231f20" stroke-width="1.8"/>
<circle cx="1619.9" cy="218.6" r="3.05" fill="#fff" stroke="#231f20" stroke-width="1.8"/>
<circle cx="1619.9" cy="185.7" r="3.05" fill="#fff" stroke="#231f20" stroke-width="1.8"/>
<line x1="1452.3" y1="99" x2="1618.9" y2="99" stroke="#231f20" stroke-width="2"/>
<text x="1540.3" y="91.7" font-size="24.5" text-anchor="middle">NS</text>
<line x1="1810.8" y1="166.6" x2="1810.8" y2="196.9" stroke="#231f20" stroke-width="2.15"/>
<line x1="1801.1" y1="166.6" x2="1820.5" y2="166.6" stroke="#231f20" stroke-width="2.15"/>
<line x1="1801.1" y1="196.9" x2="1820.5" y2="196.9" stroke="#231f20" stroke-width="2.15"/>
<line x1="1865.9" y1="190.8" x2="1865.9" y2="224" stroke="#231f20" stroke-width="2.15"/>
<line x1="1856.2" y1="190.8" x2="1875.6" y2="190.8" stroke="#231f20" stroke-width="2.15"/>
<line x1="1856.2" y1="224" x2="1875.6" y2="224" stroke="#231f20" stroke-width="2.15"/>
<line x1="1921.3" y1="255.9" x2="1921.3" y2="293.9" stroke="#231f20" stroke-width="2.15"/>
<line x1="1911.6" y1="255.9" x2="1931" y2="255.9" stroke="#231f20" stroke-width="2.15"/>
<line x1="1911.6" y1="293.9" x2="1931" y2="293.9" stroke="#231f20" stroke-width="2.15"/>
<line x1="1976.1" y1="272.4" x2="1976.1" y2="296.4" stroke="#231f20" stroke-width="2.15"/>
<line x1="1966.4" y1="272.4" x2="1985.8" y2="272.4" stroke="#231f20" stroke-width="2.15"/>
<line x1="1966.4" y1="296.4" x2="1985.8" y2="296.4" stroke="#231f20" stroke-width="2.15"/>
<circle cx="1819.7" cy="142.9" r="3.05" fill="#fff" stroke="#231f20" stroke-width="1.8"/>
<circle cx="1802.1" cy="156.4" r="3.05" fill="#fff" stroke="#231f20" stroke-width="1.8"/>
<circle cx="1810.8" cy="180.6" r="3.05" fill="#fff" stroke="#231f20" stroke-width="1.8"/>
<circle cx="1810.8" cy="199.5" r="3.05" fill="#fff" stroke="#231f20" stroke-width="1.8"/>
<circle cx="1810.8" cy="228.8" r="3.05" fill="#fff" stroke="#231f20" stroke-width="1.8"/>
<circle cx="1865.9" cy="156.4" r="3.05" fill="#fff" stroke="#231f20" stroke-width="1.8"/>
<circle cx="1857.2" cy="178.1" r="3.05" fill="#fff" stroke="#231f20" stroke-width="1.8"/>
<circle cx="1874.6" cy="187.5" r="3.05" fill="#fff" stroke="#231f20" stroke-width="1.8"/>
<circle cx="1857.2" cy="194.4" r="3.05" fill="#fff" stroke="#231f20" stroke-width="1.8"/>
<circle cx="1874.6" cy="203.3" r="3.05" fill="#fff" stroke="#231f20" stroke-width="1.8"/>
<circle cx="1874.6" cy="255.1" r="3.05" fill="#fff" stroke="#231f20" stroke-width="1.8"/>
<circle cx="1857.2" cy="278.8" r="3.05" fill="#fff" stroke="#231f20" stroke-width="1.8"/>
<circle cx="1925.1" cy="202.3" r="3.05" fill="#fff" stroke="#231f20" stroke-width="1.8"/>
<circle cx="1916.7" cy="207.9" r="3.05" fill="#fff" stroke="#231f20" stroke-width="1.8"/>
<circle cx="1907.8" cy="284.4" r="3.05" fill="#fff" stroke="#231f20" stroke-width="1.8"/>
<circle cx="1925.1" cy="287.5" r="3.05" fill="#fff" stroke="#231f20" stroke-width="1.8"/>
<circle cx="1916.7" cy="313.3" r="3.05" fill="#fff" stroke="#231f20" stroke-width="1.8"/>
<circle cx="1934" cy="310.7" r="3.05" fill="#fff" stroke="#231f20" stroke-width="1.8"/>
<circle cx="1921" cy="318.9" r="3.05" fill="#fff" stroke="#231f20" stroke-width="1.8"/>
<circle cx="1982.2" cy="239" r="3.05" fill="#fff" stroke="#231f20" stroke-width="1.8"/>
<circle cx="1970.3" cy="245.7" r="3.05" fill="#fff" stroke="#231f20" stroke-width="1.8"/>
<circle cx="1976.1" cy="281.4" r="3.05" fill="#fff" stroke="#231f20" stroke-width="1.8"/>
<circle cx="1987.6" cy="287.5" r="3.05" fill="#fff" stroke="#231f20" stroke-width="1.8"/>
<circle cx="1964.6" cy="307.4" r="3.05" fill="#fff" stroke="#231f20" stroke-width="1.8"/>
<circle cx="1976.1" cy="313.3" r="3.05" fill="#fff" stroke="#231f20" stroke-width="1.8"/>
<circle cx="1976.1" cy="316.8" r="3.05" fill="#fff" stroke="#231f20" stroke-width="1.8"/>
<line x1="1865.7" y1="21.2" x2="1974.1" y2="21.2" stroke="#231f20" stroke-width="2"/>
<text x="1917.4" y="23.2" font-size="24.5" text-anchor="middle">*</text>
<line x1="1809.5" y1="44.4" x2="1974.1" y2="44.4" stroke="#231f20" stroke-width="2"/>
<text x="1890.4" y="46.4" font-size="24.5" text-anchor="middle">**</text>
<line x1="1808.5" y1="67.9" x2="1917.4" y2="67.9" stroke="#231f20" stroke-width="2"/>
<text x="1862.6" y="69.9" font-size="24.5" text-anchor="middle">**</text>
<line x1="1808.5" y1="98" x2="1861.3" y2="98" stroke="#231f20" stroke-width="2"/>
<text x="1835.1" y="92.5" font-size="24.5" text-anchor="middle">NS</text>
<line x1="1866.4" y1="123" x2="1918.5" y2="123" stroke="#231f20" stroke-width="2"/>
<text x="1892.4" y="125" font-size="24.5" text-anchor="middle">*</text>
<line x1="1920.5" y1="170.4" x2="1974.1" y2="170.4" stroke="#231f20" stroke-width="2"/>
<text x="1944" y="164.9" font-size="24.5" text-anchor="middle">NS</text>
<line x1="1082.1" y1="626" x2="1082.1" y2="670.6" stroke="#231f20" stroke-width="2.15"/>
<line x1="1072.4" y1="626" x2="1091.8" y2="626" stroke="#231f20" stroke-width="2.15"/>
<line x1="1072.4" y1="670.6" x2="1091.8" y2="670.6" stroke="#231f20" stroke-width="2.15"/>
<line x1="1137.2" y1="630.8" x2="1137.2" y2="683.1" stroke="#231f20" stroke-width="2.15"/>
<line x1="1127.5" y1="630.8" x2="1146.9" y2="630.8" stroke="#231f20" stroke-width="2.15"/>
<line x1="1127.5" y1="683.1" x2="1146.9" y2="683.1" stroke="#231f20" stroke-width="2.15"/>
<line x1="1192" y1="651.5" x2="1192" y2="688.5" stroke="#231f20" stroke-width="2.15"/>
<line x1="1182.3" y1="651.5" x2="1201.7" y2="651.5" stroke="#231f20" stroke-width="2.15"/>
<line x1="1182.3" y1="688.5" x2="1201.7" y2="688.5" stroke="#231f20" stroke-width="2.15"/>
<line x1="1246.9" y1="751" x2="1246.9" y2="812.7" stroke="#231f20" stroke-width="2.15"/>
<line x1="1237.2" y1="751" x2="1256.6" y2="751" stroke="#231f20" stroke-width="2.15"/>
<line x1="1237.2" y1="812.7" x2="1256.6" y2="812.7" stroke="#231f20" stroke-width="2.15"/>
<circle cx="1070.6" cy="615.5" r="3.05" fill="#fff" stroke="#231f20" stroke-width="1.8"/>
<circle cx="1076.5" cy="619.6" r="3.05" fill="#fff" stroke="#231f20" stroke-width="1.8"/>
<circle cx="1082.1" cy="615.5" r="3.05" fill="#fff" stroke="#231f20" stroke-width="1.8"/>
<circle cx="1088" cy="616.8" r="3.05" fill="#fff" stroke="#231f20" stroke-width="1.8"/>
<circle cx="1093.8" cy="615.5" r="3.05" fill="#fff" stroke="#231f20" stroke-width="1.8"/>
<circle cx="1082.1" cy="683.9" r="3.05" fill="#fff" stroke="#231f20" stroke-width="1.8"/>
<circle cx="1082.1" cy="769.8" r="3.05" fill="#fff" stroke="#231f20" stroke-width="1.8"/>
<circle cx="1131.3" cy="615.5" r="3.05" fill="#fff" stroke="#231f20" stroke-width="1.8"/>
<circle cx="1143.3" cy="615.5" r="3.05" fill="#fff" stroke="#231f20" stroke-width="1.8"/>
<circle cx="1148.7" cy="620.1" r="3.05" fill="#fff" stroke="#231f20" stroke-width="1.8"/>
<circle cx="1137.2" cy="625.2" r="3.05" fill="#fff" stroke="#231f20" stroke-width="1.8"/>
<circle cx="1124.9" cy="634.9" r="3.05" fill="#fff" stroke="#231f20" stroke-width="1.8"/>
<circle cx="1137.2" cy="678.8" r="3.05" fill="#fff" stroke="#231f20" stroke-width="1.8"/>
<circle cx="1137.2" cy="805.6" r="3.05" fill="#fff" stroke="#231f20" stroke-width="1.8"/>
<circle cx="1184.9" cy="616.8" r="3.05" fill="#fff" stroke="#231f20" stroke-width="1.8"/>
<circle cx="1192" cy="632.3" r="3.05" fill="#fff" stroke="#231f20" stroke-width="1.8"/>
<circle cx="1177.8" cy="652.8" r="3.05" fill="#fff" stroke="#231f20" stroke-width="1.8"/>
<circle cx="1198.9" cy="653.3" r="3.05" fill="#fff" stroke="#231f20" stroke-width="1.8"/>
<circle cx="1206.1" cy="672.9" r="3.05" fill="#fff" stroke="#231f20" stroke-width="1.8"/>
<circle cx="1192" cy="701.7" r="3.05" fill="#fff" stroke="#231f20" stroke-width="1.8"/>
<circle cx="1192" cy="761.7" r="3.05" fill="#fff" stroke="#231f20" stroke-width="1.8"/>
<circle cx="1246.9" cy="660.4" r="3.05" fill="#fff" stroke="#231f20" stroke-width="1.8"/>
<circle cx="1246.9" cy="734.1" r="3.05" fill="#fff" stroke="#231f20" stroke-width="1.8"/>
<circle cx="1238" cy="753.3" r="3.05" fill="#fff" stroke="#231f20" stroke-width="1.8"/>
<circle cx="1255.8" cy="754" r="3.05" fill="#fff" stroke="#231f20" stroke-width="1.8"/>
<circle cx="1246.9" cy="806.3" r="3.05" fill="#fff" stroke="#231f20" stroke-width="1.8"/>
<circle cx="1238" cy="874.4" r="3.05" fill="#fff" stroke="#231f20" stroke-width="1.8"/>
<circle cx="1255.8" cy="892.3" r="3.05" fill="#fff" stroke="#231f20" stroke-width="1.8"/>
<line x1="1082.3" y1="515.8" x2="1246.1" y2="515.8" stroke="#231f20" stroke-width="2"/>
<text x="1168.8" y="521.9" font-size="24.5" text-anchor="middle">**</text>
<line x1="1139.5" y1="538" x2="1246.1" y2="538" stroke="#231f20" stroke-width="2"/>
<text x="1195.1" y="544.1" font-size="24.5" text-anchor="middle">**</text>
<line x1="1082.3" y1="571.6" x2="1184.9" y2="571.6" stroke="#231f20" stroke-width="2"/>
<text x="1134.4" y="566.1" font-size="24.5" text-anchor="middle">NS</text>
<line x1="1196.4" y1="571.6" x2="1246.1" y2="571.6" stroke="#231f20" stroke-width="2"/>
<text x="1223.7" y="577.7" font-size="24.5" text-anchor="middle">*</text>
<line x1="1082.3" y1="603" x2="1128.3" y2="603" stroke="#231f20" stroke-width="2"/>
<text x="1106.3" y="597.5" font-size="24.5" text-anchor="middle">NS</text>
<line x1="1137.7" y1="603" x2="1184.9" y2="603" stroke="#231f20" stroke-width="2"/>
<text x="1161.2" y="597.5" font-size="24.5" text-anchor="middle">NS</text>
<line x1="1456.9" y1="763" x2="1456.9" y2="808.1" stroke="#231f20" stroke-width="2.15"/>
<line x1="1447.2" y1="763" x2="1466.6" y2="763" stroke="#231f20" stroke-width="2.15"/>
<line x1="1447.2" y1="808.1" x2="1466.6" y2="808.1" stroke="#231f20" stroke-width="2.15"/>
<line x1="1511.7" y1="796.9" x2="1511.7" y2="824.7" stroke="#231f20" stroke-width="2.15"/>
<line x1="1502" y1="796.9" x2="1521.4" y2="796.9" stroke="#231f20" stroke-width="2.15"/>
<line x1="1502" y1="824.7" x2="1521.4" y2="824.7" stroke="#231f20" stroke-width="2.15"/>
<line x1="1566.6" y1="822.1" x2="1566.6" y2="840" stroke="#231f20" stroke-width="2.15"/>
<line x1="1556.9" y1="822.1" x2="1576.3" y2="822.1" stroke="#231f20" stroke-width="2.15"/>
<line x1="1556.9" y1="840" x2="1576.3" y2="840" stroke="#231f20" stroke-width="2.15"/>
<line x1="1621.4" y1="833.6" x2="1621.4" y2="845.4" stroke="#231f20" stroke-width="2.15"/>
<line x1="1611.7" y1="833.6" x2="1631.1" y2="833.6" stroke="#231f20" stroke-width="2.15"/>
<line x1="1611.7" y1="845.4" x2="1631.1" y2="845.4" stroke="#231f20" stroke-width="2.15"/>
<circle cx="1451" cy="708.9" r="3.05" fill="#fff" stroke="#231f20" stroke-width="1.8"/>
<circle cx="1462.8" cy="708.1" r="3.05" fill="#fff" stroke="#231f20" stroke-width="1.8"/>
<circle cx="1456.9" cy="773.2" r="3.05" fill="#fff" stroke="#231f20" stroke-width="1.8"/>
<circle cx="1456.9" cy="789" r="3.05" fill="#fff" stroke="#231f20" stroke-width="1.8"/>
<circle cx="1444.9" cy="832.6" r="3.05" fill="#fff" stroke="#231f20" stroke-width="1.8"/>
<circle cx="1468.9" cy="834.9" r="3.05" fill="#fff" stroke="#231f20" stroke-width="1.8"/>
<circle cx="1456.9" cy="852.2" r="3.05" fill="#fff" stroke="#231f20" stroke-width="1.8"/>
<circle cx="1517.6" cy="758.4" r="3.05" fill="#fff" stroke="#231f20" stroke-width="1.8"/>
<circle cx="1505.9" cy="770.6" r="3.05" fill="#fff" stroke="#231f20" stroke-width="1.8"/>
<circle cx="1505.9" cy="804.3" r="3.05" fill="#fff" stroke="#231f20" stroke-width="1.8"/>
<circle cx="1517.6" cy="805.1" r="3.05" fill="#fff" stroke="#231f20" stroke-width="1.8"/>
<circle cx="1523.7" cy="840" r="3.05" fill="#fff" stroke="#231f20" stroke-width="1.8"/>
<circle cx="1499.7" cy="849.2" r="3.05" fill="#fff" stroke="#231f20" stroke-width="1.8"/>
<circle cx="1511.7" cy="850.5" r="3.05" fill="#fff" stroke="#231f20" stroke-width="1.8"/>
<circle cx="1566.6" cy="788" r="3.05" fill="#fff" stroke="#231f20" stroke-width="1.8"/>
<circle cx="1566.6" cy="816.5" r="3.05" fill="#fff" stroke="#231f20" stroke-width="1.8"/>
<circle cx="1580.6" cy="828" r="3.05" fill="#fff" stroke="#231f20" stroke-width="1.8"/>
<circle cx="1566.6" cy="831.8" r="3.05" fill="#fff" stroke="#231f20" stroke-width="1.8"/>
<circle cx="1552.6" cy="849.7" r="3.05" fill="#fff" stroke="#231f20" stroke-width="1.8"/>
<circle cx="1559.4" cy="852.2" r="3.05" fill="#fff" stroke="#231f20" stroke-width="1.8"/>
<circle cx="1573.5" cy="851.5" r="3.05" fill="#fff" stroke="#231f20" stroke-width="1.8"/>
<circle cx="1621.4" cy="808.9" r="3.05" fill="#fff" stroke="#231f20" stroke-width="1.8"/>
<circle cx="1618.4" cy="830.6" r="3.05" fill="#fff" stroke="#231f20" stroke-width="1.8"/>
<circle cx="1624" cy="840" r="3.05" fill="#fff" stroke="#231f20" stroke-width="1.8"/>
<circle cx="1606.6" cy="842.8" r="3.05" fill="#fff" stroke="#231f20" stroke-width="1.8"/>
<circle cx="1612.5" cy="851" r="3.05" fill="#fff" stroke="#231f20" stroke-width="1.8"/>
<circle cx="1630.4" cy="851.5" r="3.05" fill="#fff" stroke="#231f20" stroke-width="1.8"/>
<circle cx="1636.2" cy="850.5" r="3.05" fill="#fff" stroke="#231f20" stroke-width="1.8"/>
<line x1="1452.3" y1="604.8" x2="1618.9" y2="604.8" stroke="#231f20" stroke-width="2"/>
<text x="1540.3" y="596.8" font-size="24.5" text-anchor="middle">NS</text>
<line x1="1810.8" y1="752.8" x2="1810.8" y2="802.5" stroke="#231f20" stroke-width="2.15"/>
<line x1="1801.1" y1="752.8" x2="1820.5" y2="752.8" stroke="#231f20" stroke-width="2.15"/>
<line x1="1801.1" y1="802.5" x2="1820.5" y2="802.5" stroke="#231f20" stroke-width="2.15"/>
<line x1="1865.9" y1="758.4" x2="1865.9" y2="800.7" stroke="#231f20" stroke-width="2.15"/>
<line x1="1856.2" y1="758.4" x2="1875.6" y2="758.4" stroke="#231f20" stroke-width="2.15"/>
<line x1="1856.2" y1="800.7" x2="1875.6" y2="800.7" stroke="#231f20" stroke-width="2.15"/>
<line x1="1921" y1="786.4" x2="1921" y2="816" stroke="#231f20" stroke-width="2.15"/>
<line x1="1911.3" y1="786.4" x2="1930.7" y2="786.4" stroke="#231f20" stroke-width="2.15"/>
<line x1="1911.3" y1="816" x2="1930.7" y2="816" stroke="#231f20" stroke-width="2.15"/>
<line x1="1975.9" y1="792.3" x2="1975.9" y2="812.7" stroke="#231f20" stroke-width="2.15"/>
<line x1="1966.2" y1="792.3" x2="1985.6" y2="792.3" stroke="#231f20" stroke-width="2.15"/>
<line x1="1966.2" y1="812.7" x2="1985.6" y2="812.7" stroke="#231f20" stroke-width="2.15"/>
<circle cx="1804.9" cy="679.5" r="3.05" fill="#fff" stroke="#231f20" stroke-width="1.8"/>
<circle cx="1816.7" cy="692" r="3.05" fill="#fff" stroke="#231f20" stroke-width="1.8"/>
<circle cx="1810.8" cy="777.8" r="3.05" fill="#fff" stroke="#231f20" stroke-width="1.8"/>
<circle cx="1810.8" cy="803.8" r="3.05" fill="#fff" stroke="#231f20" stroke-width="1.8"/>
<circle cx="1798.8" cy="832.6" r="3.05" fill="#fff" stroke="#231f20" stroke-width="1.8"/>
<circle cx="1810.8" cy="830.6" r="3.05" fill="#fff" stroke="#231f20" stroke-width="1.8"/>
<circle cx="1822.8" cy="827.5" r="3.05" fill="#fff" stroke="#231f20" stroke-width="1.8"/>
<circle cx="1865.9" cy="682.6" r="3.05" fill="#fff" stroke="#231f20" stroke-width="1.8"/>
<circle cx="1865.9" cy="721.4" r="3.05" fill="#fff" stroke="#231f20" stroke-width="1.8"/>
<circle cx="1865.9" cy="793.6" r="3.05" fill="#fff" stroke="#231f20" stroke-width="1.8"/>
<circle cx="1877.7" cy="791.5" r="3.05" fill="#fff" stroke="#231f20" stroke-width="1.8"/>
<circle cx="1854.2" cy="814.7" r="3.05" fill="#fff" stroke="#231f20" stroke-width="1.8"/>
<circle cx="1860.1" cy="823.4" r="3.05" fill="#fff" stroke="#231f20" stroke-width="1.8"/>
<circle cx="1871.8" cy="828.8" r="3.05" fill="#fff" stroke="#231f20" stroke-width="1.8"/>
<circle cx="1921" cy="730.6" r="3.05" fill="#fff" stroke="#231f20" stroke-width="1.8"/>
<circle cx="1921" cy="772.4" r="3.05" fill="#fff" stroke="#231f20" stroke-width="1.8"/>
<circle cx="1909" cy="797.4" r="3.05" fill="#fff" stroke="#231f20" stroke-width="1.8"/>
<circle cx="1921" cy="814" r="3.05" fill="#fff" stroke="#231f20" stroke-width="1.8"/>
<circle cx="1932.5" cy="813.2" r="3.05" fill="#fff" stroke="#231f20" stroke-width="1.8"/>
<circle cx="1914.9" cy="841.5" r="3.05" fill="#fff" stroke="#231f20" stroke-width="1.8"/>
<circle cx="1926.4" cy="839" r="3.05" fill="#fff" stroke="#231f20" stroke-width="1.8"/>
<circle cx="1975.9" cy="749.7" r="3.05" fill="#fff" stroke="#231f20" stroke-width="1.8"/>
<circle cx="1975.9" cy="788" r="3.05" fill="#fff" stroke="#231f20" stroke-width="1.8"/>
<circle cx="1963.9" cy="799.4" r="3.05" fill="#fff" stroke="#231f20" stroke-width="1.8"/>
<circle cx="1975.9" cy="816" r="3.05" fill="#fff" stroke="#231f20" stroke-width="1.8"/>
<circle cx="1987.3" cy="811.4" r="3.05" fill="#fff" stroke="#231f20" stroke-width="1.8"/>
<circle cx="1981.7" cy="822.9" r="3.05" fill="#fff" stroke="#231f20" stroke-width="1.8"/>
<circle cx="1969.7" cy="828" r="3.05" fill="#fff" stroke="#231f20" stroke-width="1.8"/>
<line x1="1807" y1="604.8" x2="1974.1" y2="604.8" stroke="#231f20" stroke-width="2"/>
<text x="1896.3" y="596.8" font-size="24.5" text-anchor="middle">NS</text>
<path d="M512 145L512.00 144.84L513.87 144.84L513.87 144.73L515.73 144.73L515.74 144.70L517.60 144.70L517.60 144.30L519.47 144.30L519.47 145.00L521.34 145.00L521.34 143.76L523.20 143.76L523.21 144.17L525.07 144.17L525.07 143.48L526.94 143.48L526.94 143.95L528.81 143.95L528.81 143.80L530.67 143.80L530.67 142.76L532.54 142.76L532.54 143.73L534.41 143.73L534.41 140.76L536.28 140.76L536.28 143.76L538.14 143.76L538.14 144.61L540.01 144.61L540.01 144.40L541.88 144.40L541.88 144.67L543.75 144.67L543.75 143.95L545.61 143.95L545.62 144.95L547.48 144.95L547.48 144.53L549.35 144.53L549.35 144.46L551.22 144.46L551.22 144.76L553.08 144.76L553.09 144.44L554.95 144.44L554.95 144.97L556.82 144.97L556.82 144.05L558.69 144.05L558.69 144.24L560.55 144.24L560.55 143.77L562.42 143.77L562.42 143.83L564.29 143.83L564.29 142.31L566.16 142.31L566.16 140.02L568.02 140.02L568.02 142.87L569.89 142.87L569.89 142.43L571.76 142.43L571.76 141.77L573.63 141.77L573.63 144.78L575.50 144.78L575.50 144.03L577.36 144.03L577.36 144.86L579.23 144.86L579.23 144.71L581.10 144.71L581.10 144.93L582.96 144.93L582.97 144.91L584.83 144.91L584.83 144.77L586.70 144.77L586.70 144.88L588.57 144.88L588.57 144.84L590.43 144.84L590.43 144.99L592.30 144.99L592.30 144.84L594.17 144.84L594.17 144.70L596.04 144.70L596.04 144.06L597.90 144.06L597.90 144.41L599.77 144.41L599.77 144.26L601.64 144.26L601.64 143.58L603.51 143.58L603.51 142.00L605.38 142.00L605.38 143.06L607.24 143.06L607.24 144.15L609.11 144.15L609.11 140.93L610.98 140.93L610.98 144.80L612.84 144.80L612.85 144.50L614.71 144.50L614.71 144.70L616.58 144.70L616.58 144.73L618.45 144.73L618.45 144.83L620.31 144.83L620.31 144.80L622.18 144.80L622.18 144.90L624.05 144.90L624.05 144.33L625.92 144.33L625.92 144.96L627.78 144.96L627.78 144.82L629.65 144.82L629.65 144.91L631.52 144.91L631.52 144.67L633.39 144.67L633.39 144.30L635.25 144.30L635.25 144.26L637.12 144.26L637.12 144.67L638.99 144.67L638.99 143.22L640.86 143.22L640.86 139.95L642.72 139.95L642.73 143.72L644.59 143.72L644.59 140.56L646.46 140.56L646.46 143.29L648.33 143.29L648.33 144.91L650.19 144.91L650.19 144.61L652.06 144.61L652.06 144.86L653.93 144.86L653.93 144.59L655.80 144.59L655.80 144.80L657.66 144.80L657.66 143.97L659.53 143.97L659.53 144.89L661.40 144.89L661.40 143.92L663.27 143.92L663.27 144.80L665.13 144.80L665.13 144.94L667.00 144.94L667.00 144.54L668.87 144.54L668.87 144.63L670.74 144.63L670.74 144.08L672.60 144.08L672.61 144.12L674.47 144.12L674.47 143.73L676.34 143.73L676.34 140.74L678.21 140.74L678.21 143.24L680.07 143.24L680.08 144.04L681.94 144.04L681.94 140.48L683.81 140.48L683.81 140.20L685.68 140.20L685.68 144.73L687.54 144.73L687.54 144.93L689.41 144.93L689.41 144.71L691.28 144.71L691.28 144.22L693.15 144.22L693.15 144.36L695.01 144.36L695.01 144.42L696.88 144.42L696.88 144.74L698.75 144.74L698.75 144.80L700.62 144.80L700.62 144.88L702.48 144.88L702.49 144.30L704.35 144.30L704.35 144.92L706.22 144.92L706.22 144.76L708.09 144.76L708.09 143.67L709.95 143.67L709.95 143.45L711.82 143.45L711.82 143.90L713.69 143.90L713.69 141.22L715.56 141.22L715.56 141.58L717.42 141.58L717.42 142.68L719.29 142.68L719.29 143.69L721.16 143.69L721.16 141.15L723.03 141.15L723.03 144.78L724.89 144.78L724.89 144.84L726.76 144.84L726.76 144.64L728.63 144.64L728.63 144.24L730.50 144.24L730.50 144.57L732.36 144.57L732.37 144.92L734.23 144.92L734.23 144.24L736.10 144.24L736.10 144.26L737.97 144.26L737.97 144.86L739.83 144.86L739.84 144.99L741.70 144.99L741.70 144.35L743.57 144.35L743.57 144.78L745.44 144.78L745.44 144.28L747.30 144.28L747.30 143.67L749.17 143.67L749.17 144.58L751.04 144.58L751.04 142.16L752.91 142.16L752.91 141.51L754.77 141.51L754.77 143.00L756.64 143.00L756.64 140.67L758.51 140.67L758.51 143.36L760.38 143.36L760.38 144.54L762.25 144.54L762.25 143.77L764.11 143.77L764.11 144.16L765.98 144.16L765.98 144.34L767.85 144.34L767.85 144.56L769.71 144.56L769.72 144.92L771.58 144.92L771.58 144.16L773.45 144.16L773.45 144.28L775.32 144.28L775.32 144.45L777.18 144.45L777.18 144.87L779.05 144.87L779.05 144.27L780.92 144.27L780.92 144.73L782.79 144.73L782.79 143.58L784.65 143.58L784.65 144.14L786.52 144.14L786.52 144.61L788.39 144.61L788.39 141.04L790.26 141.04L790.26 140.57L792.12 140.57L792.12 140.04L793.99 140.04L793.99 143.54L795.86 143.54L795.86 142.53L797.73 142.53L797.73 144.50L799.59 144.50L799.60 144.06L801.46 144.06L801.46 144.69L803.33 144.69L803.33 144.87L805.20 144.87L805.20 144.75L807.06 144.75L807.07 144.76L808.93 144.76L808.93 144.77L810.80 144.77L810.80 144.96L812.67 144.96L812.67 144.73L814.53 144.73L814.53 144.99L816.40 144.99L816.40 144.54L818.27 144.54L818.27 144.59L820.14 144.59L820.14 144.09L822.00 144.09L822.00 143.83L823.87 143.83L823.87 144.26L825.74 144.26L825.74 142.76L827.61 142.76L827.61 141.01L829.48 141.01L829.47 144.27L831.34 144.27L831.34 143.50L833.21 143.50L833.21 144.40L835.08 144.40L835.08 144.74L836.94 144.74L836.94 144.84L838.81 144.84L838.81 144.82L840.68 144.82L840.68 144.77L842.55 144.77L842.55 144.33L844.41 144.33L844.41 144.72L846.28 144.72L846.28 144.32L848.15 144.32L848.15 144.34L850.02 144.34L850.02 144.75L851.88 144.75L851.88 144.87L853.75 144.87L853.75 144.90L855.62 144.90L855.62 144.70L857.49 144.70L857.49 144.39L859.35 144.39L859.36 144.45L861.22 144.45L861.22 144.32L863.09 144.32L863.09 139.99L864.96 139.99L864.96 142.44L866.82 142.44L866.83 141.12L868.69 141.12L868.69 142.46L870.56 142.46L870.56 140.43L872.43 140.43L872.43 143.97L874.29 143.97L874.30 144.86L876.16 144.86L876.16 144.85L878.03 144.85L878.03 144.64L879.90 144.64L879.90 143.85L881.76 143.85L881.76 144.91L883.63 144.91L883.63 144.68L885.00 144.68L885 145Z" fill="#231f20"/>
<rect x="520.4" y="90.4" width="1" height="54.6" fill="#8a2a3a" opacity="0.55"/>
<rect x="557.8" y="90.4" width="1" height="54.6" fill="#8a2a3a" opacity="0.55"/>
<rect x="595.1" y="90.4" width="1" height="54.6" fill="#8a2a3a" opacity="0.55"/>
<rect x="632.4" y="90.4" width="1" height="54.6" fill="#8a2a3a" opacity="0.55"/>
<rect x="669.8" y="90.4" width="1" height="54.6" fill="#8a2a3a" opacity="0.55"/>
<rect x="707.1" y="90.4" width="1" height="54.6" fill="#8a2a3a" opacity="0.55"/>
<rect x="744.5" y="97.5" width="1" height="47.5" fill="#8a2a3a" opacity="0.55"/>
<rect x="781.8" y="97.5" width="1" height="47.5" fill="#8a2a3a" opacity="0.55"/>
<rect x="819.2" y="97.5" width="1" height="47.5" fill="#8a2a3a" opacity="0.55"/>
<rect x="856.5" y="97.5" width="1" height="47.5" fill="#8a2a3a" opacity="0.55"/>
<line x1="507" y1="145" x2="885" y2="145" stroke="#231f20" stroke-width="2.0"/>
<line x1="512" y1="89.4" x2="512" y2="146.2" stroke="#231f20" stroke-width="2.4"/>
<line x1="507" y1="145" x2="512" y2="145" stroke="#231f20" stroke-width="2"/>
<text x="503.5" y="153.6" font-size="24.5" text-anchor="end">0</text>
<line x1="507" y1="117.7" x2="512" y2="117.7" stroke="#231f20" stroke-width="2"/>
<text x="503.5" y="126.3" font-size="24.5" text-anchor="end">1</text>
<line x1="507" y1="90.4" x2="512" y2="90.4" stroke="#231f20" stroke-width="2"/>
<text x="503.5" y="99" font-size="24.5" text-anchor="end">2</text>
<text x="883.5" y="88.1" font-size="24.5" text-anchor="end">1 ms</text>
<path d="M512 232.6L512.00 230.13L513.87 230.13L513.87 232.59L515.73 232.59L515.74 230.92L517.60 230.92L517.60 232.04L519.47 232.04L519.47 231.60L521.34 231.60L521.34 218.67L523.20 218.67L523.21 222.39L525.07 222.39L525.07 224.91L526.94 224.91L526.94 229.02L528.81 229.02L528.81 226.98L530.67 226.98L530.67 229.59L532.54 229.59L532.54 227.09L534.41 227.09L534.41 225.52L536.28 225.52L536.28 230.39L538.14 230.39L538.14 229.74L540.01 229.74L540.01 230.96L541.88 230.96L541.88 231.76L543.75 231.76L543.75 231.36L545.61 231.36L545.62 230.38L547.48 230.38L547.48 231.14L549.35 231.14L549.35 232.28L551.22 232.28L551.22 232.27L553.08 232.27L553.09 231.92L554.95 231.92L554.95 230.75L556.82 230.75L556.82 231.67L558.69 231.67L558.69 220.34L560.55 220.34L560.55 223.18L562.42 223.18L562.42 225.30L564.29 225.30L564.29 226.49L566.16 226.49L566.16 225.27L568.02 225.27L568.02 227.07L569.89 227.07L569.89 230.90L571.76 230.90L571.76 230.31L573.63 230.31L573.63 232.04L575.50 232.04L575.50 232.31L577.36 232.31L577.36 232.27L579.23 232.27L579.23 230.92L581.10 230.92L581.10 230.84L582.96 230.84L582.97 231.98L584.83 231.98L584.83 232.26L586.70 232.26L586.70 232.37L588.57 232.37L588.57 231.89L590.43 231.89L590.43 232.57L592.30 232.57L592.30 232.43L594.17 232.43L594.17 230.06L596.04 230.06L596.04 220.03L597.90 220.03L597.90 224.34L599.77 224.34L599.77 226.90L601.64 226.90L601.64 227.84L603.51 227.84L603.51 226.38L605.38 226.38L605.38 227.71L607.24 227.71L607.24 226.83L609.11 226.83L609.11 226.57L610.98 226.57L610.98 230.63L612.84 230.63L612.85 232.03L614.71 232.03L614.71 231.47L616.58 231.47L616.58 231.87L618.45 231.87L618.45 232.48L620.31 232.48L620.31 230.72L622.18 230.72L622.18 231.57L624.05 231.57L624.05 232.18L625.92 232.18L625.92 230.45L627.78 230.45L627.78 232.29L629.65 232.29L629.65 232.38L631.52 232.38L631.52 232.52L633.39 232.52L633.39 218.30L635.25 218.30L635.25 224.00L637.12 224.00L637.12 227.01L638.99 227.01L638.99 224.10L640.86 224.10L640.86 227.01L642.72 227.01L642.73 224.76L644.59 224.76L644.59 226.75L646.46 226.75L646.46 228.23L648.33 228.23L648.33 232.01L650.19 232.01L650.19 232.01L652.06 232.01L652.06 231.97L653.93 231.97L653.93 231.76L655.80 231.76L655.80 231.42L657.66 231.42L657.66 232.29L659.53 232.29L659.53 232.20L661.40 232.20L661.40 232.25L663.27 232.25L663.27 232.57L665.13 232.57L665.13 231.54L667.00 231.54L667.00 232.40L668.87 232.40L668.87 231.89L670.74 231.89L670.74 217.33L672.60 217.33L672.61 224.33L674.47 224.33L674.47 227.28L676.34 227.28L676.34 223.98L678.21 223.98L678.21 227.07L680.07 227.07L680.08 226.60L681.94 226.60L681.94 224.71L683.81 224.71L683.81 229.32L685.68 229.32L685.68 232.01L687.54 232.01L687.54 231.60L689.41 231.60L689.41 232.25L691.28 232.25L691.28 232.19L693.15 232.19L693.15 231.74L695.01 231.74L695.01 232.34L696.88 232.34L696.88 231.50L698.75 231.50L698.75 231.71L700.62 231.71L700.62 232.52L702.48 232.52L702.49 232.39L704.35 232.39L704.35 232.52L706.22 232.52L706.22 232.00L708.09 232.00L708.09 219.31L709.95 219.31L709.95 225.46L711.82 225.46L711.82 224.06L713.69 224.06L713.69 227.12L715.56 227.12L715.56 226.85L717.42 226.85L717.42 228.22L719.29 228.22L719.29 229.53L721.16 229.53L721.16 228.38L723.03 228.38L723.03 231.52L724.89 231.52L724.89 232.08L726.76 232.08L726.76 231.83L728.63 231.83L728.63 232.04L730.50 232.04L730.50 232.03L732.36 232.03L732.37 230.89L734.23 230.89L734.23 232.38L736.10 232.38L736.10 232.53L737.97 232.53L737.97 231.12L739.83 231.12L739.84 230.15L741.70 230.15L741.70 232.46L743.57 232.46L743.57 231.56L745.44 231.56L745.44 220.35L747.30 220.35L747.30 222.56L749.17 222.56L749.17 227.41L751.04 227.41L751.04 225.99L752.91 225.99L752.91 228.61L754.77 228.61L754.77 229.47L756.64 229.47L756.64 228.17L758.51 228.17L758.51 226.99L760.38 226.99L760.38 232.11L762.25 232.11L762.25 231.71L764.11 231.71L764.11 231.77L765.98 231.77L765.98 232.47L767.85 232.47L767.85 232.20L769.71 232.20L769.72 230.32L771.58 230.32L771.58 231.72L773.45 231.72L773.45 230.74L775.32 230.74L775.32 231.55L777.18 231.55L777.18 231.41L779.05 231.41L779.05 231.88L780.92 231.88L780.92 232.30L782.79 232.30L782.79 217.72L784.65 217.72L784.65 223.46L786.52 223.46L786.52 226.14L788.39 226.14L788.39 226.38L790.26 226.38L790.26 227.84L792.12 227.84L792.12 230.11L793.99 230.11L793.99 228.91L795.86 228.91L795.86 231.14L797.73 231.14L797.73 231.95L799.59 231.95L799.60 230.88L801.46 230.88L801.46 231.10L803.33 231.10L803.33 232.46L805.20 232.46L805.20 232.12L807.06 232.12L807.07 232.40L808.93 232.40L808.93 232.48L810.80 232.48L810.80 232.40L812.67 232.40L812.67 232.19L814.53 232.19L814.53 232.13L816.40 232.13L816.40 231.44L818.27 231.44L818.27 232.52L820.14 232.52L820.14 221.85L822.00 221.85L822.00 224.17L823.87 224.17L823.87 226.58L825.74 226.58L825.74 227.20L827.61 227.20L827.61 226.00L829.48 226.00L829.47 224.10L831.34 224.10L831.34 227.39L833.21 227.39L833.21 230.76L835.08 230.76L835.08 231.83L836.94 231.83L836.94 231.39L838.81 231.39L838.81 232.04L840.68 232.04L840.68 232.18L842.55 232.18L842.55 232.48L844.41 232.48L844.41 231.50L846.28 231.50L846.28 232.45L848.15 232.45L848.15 232.53L850.02 232.53L850.02 232.41L851.88 232.41L851.88 232.40L853.75 232.40L853.75 232.59L855.62 232.59L855.62 232.56L857.49 232.56L857.49 217.06L859.35 217.06L859.36 223.10L861.22 223.10L861.22 227.17L863.09 227.17L863.09 224.95L864.96 224.95L864.96 224.94L866.82 224.94L866.83 227.88L868.69 227.88L868.69 228.42L870.56 228.42L870.56 229.20L872.43 229.20L872.43 231.74L874.29 231.74L874.30 232.12L876.16 232.12L876.16 231.35L878.03 231.35L878.03 232.33L879.90 232.33L879.90 232.05L881.76 232.05L881.76 230.82L883.63 230.82L883.63 232.56L885.00 232.56L885 232.6Z" fill="#231f20"/>
<rect x="520.4" y="178" width="1" height="54.6" fill="#b02a38"/>
<rect x="557.8" y="178" width="1" height="54.6" fill="#b02a38"/>
<rect x="595.1" y="178" width="1" height="54.6" fill="#b02a38"/>
<rect x="632.4" y="178" width="1" height="54.6" fill="#b02a38"/>
<rect x="669.8" y="178" width="1" height="54.6" fill="#b02a38"/>
<rect x="707.1" y="178" width="1" height="54.6" fill="#b02a38"/>
<rect x="744.5" y="185.1" width="1" height="47.5" fill="#b02a38"/>
<rect x="781.8" y="185.1" width="1" height="47.5" fill="#b02a38"/>
<rect x="819.2" y="185.1" width="1" height="47.5" fill="#b02a38"/>
<rect x="856.5" y="185.1" width="1" height="47.5" fill="#b02a38"/>
<line x1="507" y1="232.6" x2="885" y2="232.6" stroke="#231f20" stroke-width="2.0"/>
<line x1="512" y1="177" x2="512" y2="233.8" stroke="#231f20" stroke-width="2.4"/>
<line x1="507" y1="232.6" x2="512" y2="232.6" stroke="#231f20" stroke-width="2"/>
<text x="503.5" y="241.2" font-size="24.5" text-anchor="end">0</text>
<line x1="507" y1="205.3" x2="512" y2="205.3" stroke="#231f20" stroke-width="2"/>
<text x="503.5" y="213.9" font-size="24.5" text-anchor="end">1</text>
<line x1="507" y1="178" x2="512" y2="178" stroke="#231f20" stroke-width="2"/>
<text x="503.5" y="186.6" font-size="24.5" text-anchor="end">2</text>
<text x="883.5" y="175.3" font-size="24.5" text-anchor="end">2.5 ms</text>
<path d="M512 319.4L512.00 318.98L513.87 318.98L513.87 318.67L515.73 318.67L515.74 319.27L517.60 319.27L517.60 319.36L519.47 319.36L519.47 319.20L521.34 319.20L521.34 286.88L523.20 286.88L523.21 300.65L525.07 300.65L525.07 303.07L526.94 303.07L526.94 307.65L528.81 307.65L528.81 310.10L530.67 310.10L530.67 313.66L532.54 313.66L532.54 312.59L534.41 312.59L534.41 314.50L536.28 314.50L536.28 314.39L538.14 314.39L538.14 317.89L540.01 317.89L540.01 316.88L541.88 316.88L541.88 317.87L543.75 317.87L543.75 317.60L545.61 317.60L545.62 316.67L547.48 316.67L547.48 316.74L549.35 316.74L549.35 316.43L551.22 316.43L551.22 317.80L553.08 317.80L553.09 317.69L554.95 317.69L554.95 319.11L556.82 319.11L556.82 319.05L558.69 319.05L558.69 297.93L560.55 297.93L560.55 304.85L562.42 304.85L562.42 303.80L564.29 303.80L564.29 306.35L566.16 306.35L566.16 313.20L568.02 313.20L568.02 314.50L569.89 314.50L569.89 313.01L571.76 313.01L571.76 314.91L573.63 314.91L573.63 315.31L575.50 315.31L575.50 317.19L577.36 317.19L577.36 318.04L579.23 318.04L579.23 318.33L581.10 318.33L581.10 317.87L582.96 317.87L582.97 317.18L584.83 317.18L584.83 316.95L586.70 316.95L586.70 318.48L588.57 318.48L588.57 318.47L590.43 318.47L590.43 319.17L592.30 319.17L592.30 319.03L594.17 319.03L594.17 319.05L596.04 319.05L596.04 295.63L597.90 295.63L597.90 303.05L599.77 303.05L599.77 307.16L601.64 307.16L601.64 307.09L603.51 307.09L603.51 310.33L605.38 310.33L605.38 313.81L607.24 313.81L607.24 314.20L609.11 314.20L609.11 314.07L610.98 314.07L610.98 314.90L612.84 314.90L612.85 317.71L614.71 317.71L614.71 317.74L616.58 317.74L616.58 316.52L618.45 316.52L618.45 318.13L620.31 318.13L620.31 318.05L622.18 318.05L622.18 318.09L624.05 318.09L624.05 318.60L625.92 318.60L625.92 319.12L627.78 319.12L627.78 318.79L629.65 318.79L629.65 319.26L631.52 319.26L631.52 316.60L633.39 316.60L633.39 295.88L635.25 295.88L635.25 302.07L637.12 302.07L637.12 306.96L638.99 306.96L638.99 307.85L640.86 307.85L640.86 310.54L642.72 310.54L642.73 312.62L644.59 312.62L644.59 314.08L646.46 314.08L646.46 313.84L648.33 313.84L648.33 316.91L650.19 316.91L650.19 317.46L652.06 317.46L652.06 316.00L653.93 316.00L653.93 317.35L655.80 317.35L655.80 318.44L657.66 318.44L657.66 318.43L659.53 318.43L659.53 318.53L661.40 318.53L661.40 318.72L663.27 318.72L663.27 318.15L665.13 318.15L665.13 317.66L667.00 317.66L667.00 318.91L668.87 318.91L668.87 318.60L670.74 318.60L670.74 297.80L672.60 297.80L672.61 297.68L674.47 297.68L674.47 302.34L676.34 302.34L676.34 306.27L678.21 306.27L678.21 310.14L680.07 310.14L680.08 311.76L681.94 311.76L681.94 315.18L683.81 315.18L683.81 315.77L685.68 315.77L685.68 316.85L687.54 316.85L687.54 316.82L689.41 316.82L689.41 317.27L691.28 317.27L691.28 318.03L693.15 318.03L693.15 318.24L695.01 318.24L695.01 318.17L696.88 318.17L696.88 318.99L698.75 318.99L698.75 318.78L700.62 318.78L700.62 318.76L702.48 318.76L702.49 319.10L704.35 319.10L704.35 319.04L706.22 319.04L706.22 319.07L708.09 319.07L708.09 297.82L709.95 297.82L709.95 295.57L711.82 295.57L711.82 302.52L713.69 302.52L713.69 308.08L715.56 308.08L715.56 311.12L717.42 311.12L717.42 312.26L719.29 312.26L719.29 312.97L721.16 312.97L721.16 316.88L723.03 316.88L723.03 316.37L724.89 316.37L724.89 317.10L726.76 317.10L726.76 318.02L728.63 318.02L728.63 318.33L730.50 318.33L730.50 318.30L732.36 318.30L732.37 318.24L734.23 318.24L734.23 318.08L736.10 318.08L736.10 316.99L737.97 316.99L737.97 319.11L739.83 319.11L739.84 319.09L741.70 319.09L741.70 319.11L743.57 319.11L743.57 317.78L745.44 317.78L745.44 296.78L747.30 296.78L747.30 303.98L749.17 303.98L749.17 301.54L751.04 301.54L751.04 310.85L752.91 310.85L752.91 311.32L754.77 311.32L754.77 312.47L756.64 312.47L756.64 315.49L758.51 315.49L758.51 314.92L760.38 314.92L760.38 315.86L762.25 315.86L762.25 316.40L764.11 316.40L764.11 317.76L765.98 317.76L765.98 315.65L767.85 315.65L767.85 318.17L769.71 318.17L769.72 318.39L771.58 318.39L771.58 318.97L773.45 318.97L773.45 318.67L775.32 318.67L775.32 318.34L777.18 318.34L777.18 319.23L779.05 319.23L779.05 319.28L780.92 319.28L780.92 318.94L782.79 318.94L782.79 296.91L784.65 296.91L784.65 295.60L786.52 295.60L786.52 305.45L788.39 305.45L788.39 310.25L790.26 310.25L790.26 311.02L792.12 311.02L792.12 311.89L793.99 311.89L793.99 313.74L795.86 313.74L795.86 315.59L797.73 315.59L797.73 316.87L799.59 316.87L799.60 315.76L801.46 315.76L801.46 316.69L803.33 316.69L803.33 317.54L805.20 317.54L805.20 317.38L807.06 317.38L807.07 318.07L808.93 318.07L808.93 318.78L810.80 318.78L810.80 316.46L812.67 316.46L812.67 318.63L814.53 318.63L814.53 318.28L816.40 318.28L816.40 318.54L818.27 318.54L818.27 317.15L820.14 317.15L820.14 293.13L822.00 293.13L822.00 303.72L823.87 303.72L823.87 303.21L825.74 303.21L825.74 306.81L827.61 306.81L827.61 311.88L829.48 311.88L829.47 311.35L831.34 311.35L831.34 314.34L833.21 314.34L833.21 315.31L835.08 315.31L835.08 316.37L836.94 316.37L836.94 317.23L838.81 317.23L838.81 317.75L840.68 317.75L840.68 318.19L842.55 318.19L842.55 317.81L844.41 317.81L844.41 318.04L846.28 318.04L846.28 318.13L848.15 318.13L848.15 317.52L850.02 317.52L850.02 317.07L851.88 317.07L851.88 318.50L853.75 318.50L853.75 319.25L855.62 319.25L855.62 319.22L857.49 319.22L857.49 297.26L859.35 297.26L859.36 301.79L861.22 301.79L861.22 304.46L863.09 304.46L863.09 306.10L864.96 306.10L864.96 308.63L866.82 308.63L866.83 314.67L868.69 314.67L868.69 314.66L870.56 314.66L870.56 316.14L872.43 316.14L872.43 317.26L874.29 317.26L874.30 317.62L876.16 317.62L876.16 317.09L878.03 317.09L878.03 315.73L879.90 315.73L879.90 318.36L881.76 318.36L881.76 318.83L883.63 318.83L883.63 318.35L885.00 318.35L885 319.4Z" fill="#231f20"/>
<rect x="520.4" y="264.8" width="1.9" height="54.6" fill="#c4202a"/>
<rect x="557.8" y="264.8" width="1.9" height="54.6" fill="#c4202a"/>
<rect x="595.1" y="264.8" width="1.9" height="54.6" fill="#c4202a"/>
<rect x="632.4" y="264.8" width="1.9" height="54.6" fill="#c4202a"/>
<rect x="669.8" y="264.8" width="1.9" height="54.6" fill="#c4202a"/>
<rect x="707.1" y="264.8" width="1.9" height="54.6" fill="#c4202a"/>
<rect x="744.5" y="271.9" width="1.9" height="47.5" fill="#c4202a"/>
<rect x="781.8" y="271.9" width="1.9" height="47.5" fill="#c4202a"/>
<rect x="819.2" y="271.9" width="1.9" height="47.5" fill="#c4202a"/>
<rect x="856.5" y="271.9" width="1.9" height="47.5" fill="#c4202a"/>
<line x1="507" y1="319.4" x2="885" y2="319.4" stroke="#231f20" stroke-width="2.0"/>
<line x1="512" y1="263.8" x2="512" y2="320.6" stroke="#231f20" stroke-width="2.4"/>
<line x1="507" y1="319.4" x2="512" y2="319.4" stroke="#231f20" stroke-width="2"/>
<text x="503.5" y="328" font-size="24.5" text-anchor="end">0</text>
<line x1="507" y1="292.1" x2="512" y2="292.1" stroke="#231f20" stroke-width="2"/>
<text x="503.5" y="300.7" font-size="24.5" text-anchor="end">1</text>
<line x1="507" y1="264.8" x2="512" y2="264.8" stroke="#231f20" stroke-width="2"/>
<text x="503.5" y="273.4" font-size="24.5" text-anchor="end">2</text>
<text x="883.5" y="262.3" font-size="24.5" text-anchor="end">5 ms</text>
<path d="M512 407L512.00 406.95L513.87 406.95L513.87 406.87L515.73 406.87L515.74 406.94L517.60 406.94L517.60 405.40L519.47 405.40L519.47 406.63L521.34 406.63L521.34 406.68L523.20 406.68L523.21 377.48L525.07 377.48L525.07 372.66L526.94 372.66L526.94 382.92L528.81 382.92L528.81 388.61L530.67 388.61L530.67 392.25L532.54 392.25L532.54 396.54L534.41 396.54L534.41 399.65L536.28 399.65L536.28 400.03L538.14 400.03L538.14 400.73L540.01 400.73L540.01 402.67L541.88 402.67L541.88 404.19L543.75 404.19L543.75 405.16L545.61 405.16L545.62 405.46L547.48 405.46L547.48 405.48L549.35 405.48L549.35 405.72L551.22 405.72L551.22 406.04L553.08 406.04L553.09 405.99L554.95 405.99L554.95 406.39L556.82 406.39L556.82 406.38L558.69 406.38L558.69 406.58L560.55 406.58L560.55 372.26L562.42 372.26L562.42 372.04L564.29 372.04L564.29 386.66L566.16 386.66L566.16 386.26L568.02 386.26L568.02 396.41L569.89 396.41L569.89 395.31L571.76 395.31L571.76 400.28L573.63 400.28L573.63 401.60L575.50 401.60L575.50 403.61L577.36 403.61L577.36 404.22L579.23 404.22L579.23 403.68L581.10 403.68L581.10 404.10L582.96 404.10L582.97 405.53L584.83 405.53L584.83 404.71L586.70 404.71L586.70 406.11L588.57 406.11L588.57 406.17L590.43 406.17L590.43 405.58L592.30 405.58L592.30 405.28L594.17 405.28L594.17 406.35L596.04 406.35L596.04 406.23L597.90 406.23L597.90 365.26L599.77 365.26L599.77 373.90L601.64 373.90L601.64 384.21L603.51 384.21L603.51 389.53L605.38 389.53L605.38 392.67L607.24 392.67L607.24 399.57L609.11 399.57L609.11 397.26L610.98 397.26L610.98 400.35L612.84 400.35L612.85 403.66L614.71 403.66L614.71 403.39L616.58 403.39L616.58 403.56L618.45 403.56L618.45 404.62L620.31 404.62L620.31 405.12L622.18 405.12L622.18 405.02L624.05 405.02L624.05 405.81L625.92 405.81L625.92 405.90L627.78 405.90L627.78 406.08L629.65 406.08L629.65 406.32L631.52 406.32L631.52 406.65L633.39 406.65L633.39 405.38L635.25 405.38L635.25 363.39L637.12 363.39L637.12 378.08L638.99 378.08L638.99 389.85L640.86 389.85L640.86 391.48L642.72 391.48L642.73 391.70L644.59 391.70L644.59 398.06L646.46 398.06L646.46 400.30L648.33 400.30L648.33 399.91L650.19 399.91L650.19 401.36L652.06 401.36L652.06 403.19L653.93 403.19L653.93 403.59L655.80 403.59L655.80 405.30L657.66 405.30L657.66 404.94L659.53 404.94L659.53 405.19L661.40 405.19L661.40 404.40L663.27 404.40L663.27 405.88L665.13 405.88L665.13 406.36L667.00 406.36L667.00 406.54L668.87 406.54L668.87 405.29L670.74 405.29L670.74 405.87L672.60 405.87L672.61 378.87L674.47 378.87L674.47 381.71L676.34 381.71L676.34 389.37L678.21 389.37L678.21 388.83L680.07 388.83L680.08 393.82L681.94 393.82L681.94 397.14L683.81 397.14L683.81 397.95L685.68 397.95L685.68 398.56L687.54 398.56L687.54 401.58L689.41 401.58L689.41 404.06L691.28 404.06L691.28 402.93L693.15 402.93L693.15 405.45L695.01 405.45L695.01 404.77L696.88 404.77L696.88 404.15L698.75 404.15L698.75 406.13L700.62 406.13L700.62 405.19L702.48 405.19L702.49 406.43L704.35 406.43L704.35 406.47L706.22 406.47L706.22 406.60L708.09 406.60L708.09 406.48L709.95 406.48L709.95 365.22L711.82 365.22L711.82 381.48L713.69 381.48L713.69 379.92L715.56 379.92L715.56 388.12L717.42 388.12L717.42 391.75L719.29 391.75L719.29 398.47L721.16 398.47L721.16 397.94L723.03 397.94L723.03 402.19L724.89 402.19L724.89 402.79L726.76 402.79L726.76 402.65L728.63 402.65L728.63 404.29L730.50 404.29L730.50 404.95L732.36 404.95L732.37 404.62L734.23 404.62L734.23 405.89L736.10 405.89L736.10 405.97L737.97 405.97L737.97 406.27L739.83 406.27L739.84 404.56L741.70 404.56L741.70 406.46L743.57 406.46L743.57 406.26L745.44 406.26L745.44 406.31L747.30 406.31L747.30 368.16L749.17 368.16L749.17 378.44L751.04 378.44L751.04 387.52L752.91 387.52L752.91 389.01L754.77 389.01L754.77 394.70L756.64 394.70L756.64 397.67L758.51 397.67L758.51 397.90L760.38 397.90L760.38 399.88L762.25 399.88L762.25 403.63L764.11 403.63L764.11 403.38L765.98 403.38L765.98 404.51L767.85 404.51L767.85 404.17L769.71 404.17L769.72 403.43L771.58 403.43L771.58 405.39L773.45 405.39L773.45 405.44L775.32 405.44L775.32 405.47L777.18 405.47L777.18 405.05L779.05 405.05L779.05 405.30L780.92 405.30L780.92 406.66L782.79 406.66L782.79 405.31L784.65 405.31L784.65 376.30L786.52 376.30L786.52 379.60L788.39 379.60L788.39 389.65L790.26 389.65L790.26 393.17L792.12 393.17L792.12 392.02L793.99 392.02L793.99 398.31L795.86 398.31L795.86 399.34L797.73 399.34L797.73 400.23L799.59 400.23L799.60 401.77L801.46 401.77L801.46 403.04L803.33 403.04L803.33 404.71L805.20 404.71L805.20 404.43L807.06 404.43L807.07 403.50L808.93 403.50L808.93 405.60L810.80 405.60L810.80 405.68L812.67 405.68L812.67 406.36L814.53 406.36L814.53 406.21L816.40 406.21L816.40 405.65L818.27 405.65L818.27 406.56L820.14 406.56L820.14 405.70L822.00 405.70L822.00 364.68L823.87 364.68L823.87 381.24L825.74 381.24L825.74 389.30L827.61 389.30L827.61 392.08L829.48 392.08L829.47 394.44L831.34 394.44L831.34 394.99L833.21 394.99L833.21 397.18L835.08 397.18L835.08 402.05L836.94 402.05L836.94 402.00L838.81 402.00L838.81 403.20L840.68 403.20L840.68 404.91L842.55 404.91L842.55 404.65L844.41 404.65L844.41 405.15L846.28 405.15L846.28 405.28L848.15 405.28L848.15 404.89L850.02 404.89L850.02 406.18L851.88 406.18L851.88 406.21L853.75 406.21L853.75 406.10L855.62 406.10L855.62 406.60L857.49 406.60L857.49 406.56L859.35 406.56L859.36 364.32L861.22 364.32L861.22 383.22L863.09 383.22L863.09 388.99L864.96 388.99L864.96 388.17L866.82 388.17L866.83 392.71L868.69 392.71L868.69 398.88L870.56 398.88L870.56 398.01L872.43 398.01L872.43 399.83L874.29 399.83L874.30 402.52L876.16 402.52L876.16 404.02L878.03 404.02L878.03 404.02L879.90 404.02L879.90 404.50L881.76 404.50L881.76 405.48L883.63 405.48L883.63 405.08L885.00 405.08L885 407Z" fill="#231f20"/>
<rect x="520.4" y="352.4" width="3.7" height="54.6" fill="#c4202a"/>
<rect x="557.8" y="352.4" width="3.7" height="54.6" fill="#c4202a"/>
<rect x="595.1" y="352.4" width="3.7" height="54.6" fill="#c4202a"/>
<rect x="632.4" y="352.4" width="3.7" height="54.6" fill="#c4202a"/>
<rect x="669.8" y="352.4" width="3.7" height="54.6" fill="#c4202a"/>
<rect x="707.1" y="352.4" width="3.7" height="54.6" fill="#c4202a"/>
<rect x="744.5" y="359.5" width="3.7" height="47.5" fill="#c4202a"/>
<rect x="781.8" y="359.5" width="3.7" height="47.5" fill="#c4202a"/>
<rect x="819.2" y="359.5" width="3.7" height="47.5" fill="#c4202a"/>
<rect x="856.5" y="359.5" width="3.7" height="47.5" fill="#c4202a"/>
<line x1="507" y1="407" x2="885" y2="407" stroke="#231f20" stroke-width="2.0"/>
<line x1="512" y1="351.4" x2="512" y2="408.2" stroke="#231f20" stroke-width="2.4"/>
<line x1="507" y1="407" x2="512" y2="407" stroke="#231f20" stroke-width="2"/>
<text x="503.5" y="415.6" font-size="24.5" text-anchor="end">0</text>
<line x1="507" y1="379.7" x2="512" y2="379.7" stroke="#231f20" stroke-width="2"/>
<text x="503.5" y="388.3" font-size="24.5" text-anchor="end">1</text>
<line x1="507" y1="352.4" x2="512" y2="352.4" stroke="#231f20" stroke-width="2"/>
<text x="503.5" y="361" font-size="24.5" text-anchor="end">2</text>
<text x="883.5" y="349.6" font-size="24.5" text-anchor="end">10 ms</text>
<text x="522.3" y="435.1" font-size="24.5" text-anchor="middle">0</text>
<text x="594.3" y="435.1" font-size="24.5" text-anchor="middle">200</text>
<text x="672" y="435.1" font-size="24.5" text-anchor="middle">400</text>
<text x="746.7" y="435.1" font-size="24.5" text-anchor="middle">600</text>
<text x="857.6" y="435.1" font-size="24.5" text-anchor="middle">800</text>
<text x="700.5" y="468.5" font-size="25.2" text-anchor="middle">Time (ms)</text>
<text x="0" y="0" transform="translate(456 249) rotate(-90)" font-size="25.1" text-anchor="middle">Mean spikes per bin</text>
<path d="M512 654.2L512.00 653.70L513.87 653.70L513.87 653.38L515.73 653.38L515.74 653.45L517.60 653.45L517.60 654.19L519.47 654.19L519.47 653.53L521.34 653.53L521.34 621.04L523.20 621.04L523.21 632.75L525.07 632.75L525.07 638.10L526.94 638.10L526.94 631.62L528.81 631.62L528.81 635.40L530.67 635.40L530.67 642.58L532.54 642.58L532.54 643.27L534.41 643.27L534.41 640.88L536.28 640.88L536.28 644.24L538.14 644.24L538.14 643.17L540.01 643.17L540.01 645.23L541.88 645.23L541.88 648.79L543.75 648.79L543.75 649.08L545.61 649.08L545.62 648.66L547.48 648.66L547.48 648.97L549.35 648.97L549.35 650.36L551.22 650.36L551.22 650.02L553.08 650.02L553.09 650.73L554.95 650.73L554.95 651.79L556.82 651.79L556.82 652.26L558.69 652.26L558.69 651.75L560.55 651.75L560.55 651.94L562.42 651.94L562.42 652.56L564.29 652.56L564.29 651.95L566.16 651.95L566.16 653.21L568.02 653.21L568.02 652.64L569.89 652.64L569.89 652.82L571.76 652.82L571.76 653.42L573.63 653.42L573.63 653.54L575.50 653.54L575.50 653.43L577.36 653.43L577.36 653.30L579.23 653.30L579.23 653.26L581.10 653.26L581.10 653.77L582.96 653.77L582.97 653.75L584.83 653.75L584.83 653.73L586.70 653.73L586.70 653.32L588.57 653.32L588.57 653.93L590.43 653.93L590.43 653.81L592.30 653.81L592.30 653.06L594.17 653.06L594.17 653.65L596.04 653.65L596.04 629.30L597.90 629.30L597.90 623.35L599.77 623.35L599.77 634.58L601.64 634.58L601.64 631.79L603.51 631.79L603.51 635.68L605.38 635.68L605.38 638.24L607.24 638.24L607.24 640.11L609.11 640.11L609.11 642.71L610.98 642.71L610.98 643.29L612.84 643.29L612.85 644.22L614.71 644.22L614.71 645.22L616.58 645.22L616.58 646.04L618.45 646.04L618.45 648.25L620.31 648.25L620.31 648.70L622.18 648.70L622.18 650.03L624.05 650.03L624.05 649.97L625.92 649.97L625.92 650.45L627.78 650.45L627.78 650.86L629.65 650.86L629.65 652.08L631.52 652.08L631.52 652.28L633.39 652.28L633.39 652.47L635.25 652.47L635.25 652.14L637.12 652.14L637.12 652.62L638.99 652.62L638.99 652.62L640.86 652.62L640.86 653.06L642.72 653.06L642.73 652.56L644.59 652.56L644.59 653.17L646.46 653.17L646.46 652.37L648.33 652.37L648.33 653.55L650.19 653.55L650.19 653.48L652.06 653.48L652.06 653.38L653.93 653.38L653.93 653.38L655.80 653.38L655.80 653.53L657.66 653.53L657.66 653.69L659.53 653.69L659.53 653.74L661.40 653.74L661.40 653.76L663.27 653.76L663.27 653.91L665.13 653.91L665.13 653.73L667.00 653.73L667.00 653.73L668.87 653.73L668.87 653.61L670.74 653.61L670.74 622.74L672.60 622.74L672.61 629.37L674.47 629.37L674.47 637.68L676.34 637.68L676.34 635.07L678.21 635.07L678.21 635.79L680.07 635.79L680.08 640.44L681.94 640.44L681.94 643.69L683.81 643.69L683.81 641.49L685.68 641.49L685.68 644.48L687.54 644.48L687.54 647.33L689.41 647.33L689.41 647.74L691.28 647.74L691.28 648.94L693.15 648.94L693.15 647.83L695.01 647.83L695.01 648.85L696.88 648.85L696.88 650.64L698.75 650.64L698.75 649.76L700.62 649.76L700.62 650.16L702.48 650.16L702.49 650.85L704.35 650.85L704.35 651.35L706.22 651.35L706.22 651.57L708.09 651.57L708.09 651.83L709.95 651.83L709.95 652.29L711.82 652.29L711.82 652.21L713.69 652.21L713.69 652.70L715.56 652.70L715.56 653.06L717.42 653.06L717.42 653.11L719.29 653.11L719.29 653.10L721.16 653.10L721.16 652.97L723.03 652.97L723.03 653.01L724.89 653.01L724.89 653.72L726.76 653.72L726.76 653.60L728.63 653.60L728.63 653.70L730.50 653.70L730.50 653.44L732.36 653.44L732.37 653.83L734.23 653.83L734.23 653.58L736.10 653.58L736.10 653.41L737.97 653.41L737.97 653.45L739.83 653.45L739.84 654.02L741.70 654.02L741.70 653.87L743.57 653.87L743.57 653.98L745.44 653.98L745.44 627.42L747.30 627.42L747.30 634.81L749.17 634.81L749.17 636.98L751.04 636.98L751.04 639.69L752.91 639.69L752.91 641.45L754.77 641.45L754.77 639.60L756.64 639.60L756.64 640.78L758.51 640.78L758.51 642.52L760.38 642.52L760.38 644.57L762.25 644.57L762.25 644.30L764.11 644.30L764.11 648.04L765.98 648.04L765.98 649.08L767.85 649.08L767.85 648.56L769.71 648.56L769.72 648.61L771.58 648.61L771.58 649.13L773.45 649.13L773.45 650.79L775.32 650.79L775.32 650.72L777.18 650.72L777.18 650.42L779.05 650.42L779.05 651.71L780.92 651.71L780.92 651.95L782.79 651.95L782.79 651.93L784.65 651.93L784.65 651.51L786.52 651.51L786.52 652.67L788.39 652.67L788.39 652.51L790.26 652.51L790.26 652.91L792.12 652.91L792.12 652.42L793.99 652.42L793.99 653.29L795.86 653.29L795.86 653.24L797.73 653.24L797.73 653.40L799.59 653.40L799.60 653.61L801.46 653.61L801.46 653.18L803.33 653.18L803.33 653.22L805.20 653.22L805.20 653.76L807.06 653.76L807.07 653.55L808.93 653.55L808.93 653.40L810.80 653.40L810.80 653.38L812.67 653.38L812.67 653.41L814.53 653.41L814.53 653.38L816.40 653.38L816.40 653.63L818.27 653.63L818.27 653.97L820.14 653.97L820.14 622.78L822.00 622.78L822.00 630.64L823.87 630.64L823.87 627.94L825.74 627.94L825.74 638.00L827.61 638.00L827.61 634.77L829.48 634.77L829.47 638.01L831.34 638.01L831.34 643.74L833.21 643.74L833.21 641.02L835.08 641.02L835.08 646.55L836.94 646.55L836.94 645.91L838.81 645.91L838.81 645.78L840.68 645.78L840.68 648.74L842.55 648.74L842.55 647.89L844.41 647.89L844.41 649.11L846.28 649.11L846.28 650.18L848.15 650.18L848.15 650.62L850.02 650.62L850.02 650.68L851.88 650.68L851.88 651.26L853.75 651.26L853.75 651.38L855.62 651.38L855.62 652.43L857.49 652.43L857.49 651.50L859.35 651.50L859.36 651.81L861.22 651.81L861.22 652.52L863.09 652.52L863.09 652.59L864.96 652.59L864.96 652.24L866.82 652.24L866.83 652.72L868.69 652.72L868.69 653.40L870.56 653.40L870.56 653.07L872.43 653.07L872.43 653.50L874.29 653.50L874.30 653.47L876.16 653.47L876.16 653.40L878.03 653.40L878.03 652.60L879.90 652.60L879.90 653.37L881.76 653.37L881.76 653.73L883.63 653.73L883.63 653.92L885.00 653.92L885 654.2Z" fill="#231f20"/>
<rect x="520.4" y="599.6" width="1.5" height="54.6" fill="#b8242e"/>
<rect x="595.1" y="599.6" width="1.5" height="54.6" fill="#b8242e"/>
<rect x="669.8" y="599.6" width="1.5" height="54.6" fill="#b8242e"/>
<rect x="744.5" y="599.6" width="1.5" height="54.6" fill="#b8242e"/>
<rect x="819.2" y="606.7" width="1.5" height="47.5" fill="#b8242e"/>
<line x1="507" y1="654.2" x2="885" y2="654.2" stroke="#231f20" stroke-width="2.0"/>
<line x1="512" y1="598.6" x2="512" y2="655.4" stroke="#231f20" stroke-width="2.4"/>
<line x1="507" y1="654.2" x2="512" y2="654.2" stroke="#231f20" stroke-width="2"/>
<text x="503.5" y="662.8" font-size="24.5" text-anchor="end">0</text>
<line x1="507" y1="626.9" x2="512" y2="626.9" stroke="#231f20" stroke-width="2"/>
<text x="503.5" y="635.5" font-size="24.5" text-anchor="end">1</text>
<line x1="507" y1="599.6" x2="512" y2="599.6" stroke="#231f20" stroke-width="2"/>
<text x="503.5" y="608.2" font-size="24.5" text-anchor="end">2</text>
<text x="883.5" y="596.4" font-size="24.5" text-anchor="end">5 Hz</text>
<path d="M512 741.2L512.00 740.13L513.87 740.13L513.87 740.99L515.73 740.99L515.74 741.20L517.60 741.20L517.60 740.61L519.47 740.61L519.47 740.73L521.34 740.73L521.34 718.05L523.20 718.05L523.21 722.75L525.07 722.75L525.07 728.70L526.94 728.70L526.94 731.15L528.81 731.15L528.81 732.10L530.67 732.10L530.67 734.00L532.54 734.00L532.54 737.58L534.41 737.58L534.41 737.42L536.28 737.42L536.28 738.79L538.14 738.79L538.14 738.28L540.01 738.28L540.01 738.86L541.88 738.86L541.88 739.96L543.75 739.96L543.75 740.13L545.61 740.13L545.62 740.01L547.48 740.01L547.48 740.53L549.35 740.53L549.35 740.83L551.22 740.83L551.22 740.02L553.08 740.02L553.09 741.05L554.95 741.05L554.95 740.17L556.82 740.17L556.82 740.87L558.69 740.87L558.69 709.82L560.55 709.82L560.55 723.05L562.42 723.05L562.42 723.55L564.29 723.55L564.29 728.42L566.16 728.42L566.16 732.61L568.02 732.61L568.02 735.48L569.89 735.48L569.89 737.81L571.76 737.81L571.76 737.70L573.63 737.70L573.63 738.04L575.50 738.04L575.50 739.33L577.36 739.33L577.36 739.58L579.23 739.58L579.23 739.41L581.10 739.41L581.10 740.21L582.96 740.21L582.97 740.53L584.83 740.53L584.83 740.84L586.70 740.84L586.70 740.31L588.57 740.31L588.57 740.72L590.43 740.72L590.43 739.99L592.30 739.99L592.30 741.02L594.17 741.02L594.17 740.96L596.04 740.96L596.04 720.56L597.90 720.56L597.90 720.44L599.77 720.44L599.77 723.07L601.64 723.07L601.64 729.09L603.51 729.09L603.51 732.18L605.38 732.18L605.38 734.11L607.24 734.11L607.24 735.69L609.11 735.69L609.11 738.63L610.98 738.63L610.98 739.26L612.84 739.26L612.85 738.09L614.71 738.09L614.71 739.62L616.58 739.62L616.58 740.36L618.45 740.36L618.45 740.52L620.31 740.52L620.31 740.52L622.18 740.52L622.18 740.74L624.05 740.74L624.05 740.78L625.92 740.78L625.92 740.08L627.78 740.08L627.78 740.53L629.65 740.53L629.65 740.70L631.52 740.70L631.52 740.96L633.39 740.96L633.39 715.29L635.25 715.29L635.25 721.74L637.12 721.74L637.12 729.88L638.99 729.88L638.99 729.32L640.86 729.32L640.86 732.10L642.72 732.10L642.73 733.57L644.59 733.57L644.59 736.68L646.46 736.68L646.46 736.65L648.33 736.65L648.33 739.40L650.19 739.40L650.19 739.53L652.06 739.53L652.06 739.23L653.93 739.23L653.93 739.88L655.80 739.88L655.80 740.25L657.66 740.25L657.66 739.72L659.53 739.72L659.53 739.55L661.40 739.55L661.40 740.43L663.27 740.43L663.27 740.24L665.13 740.24L665.13 739.81L667.00 739.81L667.00 740.77L668.87 740.77L668.87 740.24L670.74 740.24L670.74 713.22L672.60 713.22L672.61 717.89L674.47 717.89L674.47 729.32L676.34 729.32L676.34 729.63L678.21 729.63L678.21 731.87L680.07 731.87L680.08 736.37L681.94 736.37L681.94 736.97L683.81 736.97L683.81 737.81L685.68 737.81L685.68 738.54L687.54 738.54L687.54 738.92L689.41 738.92L689.41 738.75L691.28 738.75L691.28 739.74L693.15 739.74L693.15 740.49L695.01 740.49L695.01 740.02L696.88 740.02L696.88 740.52L698.75 740.52L698.75 740.55L700.62 740.55L700.62 740.41L702.48 740.41L702.49 740.79L704.35 740.79L704.35 740.75L706.22 740.75L706.22 740.95L708.09 740.95L708.09 713.93L709.95 713.93L709.95 724.90L711.82 724.90L711.82 724.57L713.69 724.57L713.69 732.96L715.56 732.96L715.56 733.07L717.42 733.07L717.42 736.39L719.29 736.39L719.29 736.41L721.16 736.41L721.16 737.23L723.03 737.23L723.03 738.01L724.89 738.01L724.89 739.54L726.76 739.54L726.76 739.53L728.63 739.53L728.63 739.68L730.50 739.68L730.50 740.24L732.36 740.24L732.37 740.23L734.23 740.23L734.23 740.71L736.10 740.71L736.10 740.15L737.97 740.15L737.97 740.34L739.83 740.34L739.84 740.79L741.70 740.79L741.70 740.34L743.57 740.34L743.57 740.89L745.44 740.89L745.44 715.86L747.30 715.86L747.30 726.01L749.17 726.01L749.17 726.49L751.04 726.49L751.04 731.83L752.91 731.83L752.91 733.69L754.77 733.69L754.77 734.48L756.64 734.48L756.64 737.04L758.51 737.04L758.51 736.81L760.38 736.81L760.38 737.36L762.25 737.36L762.25 739.45L764.11 739.45L764.11 738.93L765.98 738.93L765.98 740.04L767.85 740.04L767.85 740.30L769.71 740.30L769.72 740.27L771.58 740.27L771.58 740.14L773.45 740.14L773.45 740.85L775.32 740.85L775.32 740.74L777.18 740.74L777.18 740.48L779.05 740.48L779.05 741.02L780.92 741.02L780.92 740.57L782.79 740.57L782.79 714.65L784.65 714.65L784.65 718.59L786.52 718.59L786.52 724.14L788.39 724.14L788.39 730.62L790.26 730.62L790.26 731.25L792.12 731.25L792.12 736.40L793.99 736.40L793.99 736.31L795.86 736.31L795.86 737.90L797.73 737.90L797.73 738.81L799.59 738.81L799.60 738.51L801.46 738.51L801.46 739.59L803.33 739.59L803.33 739.68L805.20 739.68L805.20 739.58L807.06 739.58L807.07 740.28L808.93 740.28L808.93 740.86L810.80 740.86L810.80 740.05L812.67 740.05L812.67 740.15L814.53 740.15L814.53 740.21L816.40 740.21L816.40 740.20L818.27 740.20L818.27 740.92L820.14 740.92L820.14 719.09L822.00 719.09L822.00 718.42L823.87 718.42L823.87 725.92L825.74 725.92L825.74 732.28L827.61 732.28L827.61 732.89L829.48 732.89L829.47 734.04L831.34 734.04L831.34 736.78L833.21 736.78L833.21 737.71L835.08 737.71L835.08 738.69L836.94 738.69L836.94 737.75L838.81 737.75L838.81 739.55L840.68 739.55L840.68 739.56L842.55 739.56L842.55 739.99L844.41 739.99L844.41 740.60L846.28 740.60L846.28 740.37L848.15 740.37L848.15 740.69L850.02 740.69L850.02 739.85L851.88 739.85L851.88 740.49L853.75 740.49L853.75 740.94L855.62 740.94L855.62 741.01L857.49 741.01L857.49 720.89L859.35 720.89L859.36 720.97L861.22 720.97L861.22 728.54L863.09 728.54L863.09 733.00L864.96 733.00L864.96 732.70L866.82 732.70L866.83 736.10L868.69 736.10L868.69 736.36L870.56 736.36L870.56 737.66L872.43 737.66L872.43 739.32L874.29 739.32L874.30 739.61L876.16 739.61L876.16 739.76L878.03 739.76L878.03 739.28L879.90 739.28L879.90 740.53L881.76 740.53L881.76 740.39L883.63 740.39L883.63 740.19L885.00 740.19L885 741.2Z" fill="#231f20"/>
<rect x="520.4" y="686.6" width="1.5" height="54.6" fill="#b8242e"/>
<rect x="557.8" y="686.6" width="1.5" height="54.6" fill="#b8242e"/>
<rect x="595.1" y="686.6" width="1.5" height="54.6" fill="#b8242e"/>
<rect x="632.4" y="686.6" width="1.5" height="54.6" fill="#b8242e"/>
<rect x="669.8" y="686.6" width="1.5" height="54.6" fill="#b8242e"/>
<rect x="707.1" y="686.6" width="1.5" height="54.6" fill="#b8242e"/>
<rect x="744.5" y="693.7" width="1.5" height="47.5" fill="#b8242e"/>
<rect x="781.8" y="693.7" width="1.5" height="47.5" fill="#b8242e"/>
<rect x="819.2" y="693.7" width="1.5" height="47.5" fill="#b8242e"/>
<rect x="856.5" y="693.7" width="1.5" height="47.5" fill="#b8242e"/>
<line x1="507" y1="741.2" x2="885" y2="741.2" stroke="#231f20" stroke-width="2.0"/>
<line x1="512" y1="685.6" x2="512" y2="742.4" stroke="#231f20" stroke-width="2.4"/>
<line x1="507" y1="741.2" x2="512" y2="741.2" stroke="#231f20" stroke-width="2"/>
<text x="503.5" y="749.8" font-size="24.5" text-anchor="end">0</text>
<line x1="507" y1="713.9" x2="512" y2="713.9" stroke="#231f20" stroke-width="2"/>
<text x="503.5" y="722.5" font-size="24.5" text-anchor="end">1</text>
<line x1="507" y1="686.6" x2="512" y2="686.6" stroke="#231f20" stroke-width="2"/>
<text x="503.5" y="695.2" font-size="24.5" text-anchor="end">2</text>
<text x="883.5" y="683.4" font-size="24.5" text-anchor="end">10 Hz</text>
<path d="M512 828.5L512.00 816.25L513.87 816.25L513.87 821.83L515.73 821.83L515.74 824.00L517.60 824.00L517.60 826.50L519.47 826.50L519.47 827.43L521.34 827.43L521.34 813.67L523.20 813.67L523.21 814.60L525.07 814.60L525.07 817.53L526.94 817.53L526.94 823.74L528.81 823.74L528.81 824.71L530.67 824.71L530.67 825.57L532.54 825.57L532.54 825.45L534.41 825.45L534.41 827.59L536.28 827.59L536.28 827.35L538.14 827.35L538.14 827.20L540.01 827.20L540.01 808.52L541.88 808.52L541.88 813.62L543.75 813.62L543.75 821.07L545.61 821.07L545.62 822.67L547.48 822.67L547.48 822.81L549.35 822.81L549.35 824.48L551.22 824.48L551.22 822.96L553.08 822.96L553.09 827.42L554.95 827.42L554.95 826.61L556.82 826.61L556.82 828.10L558.69 828.10L558.69 813.28L560.55 813.28L560.55 814.17L562.42 814.17L562.42 818.39L564.29 818.39L564.29 821.99L566.16 821.99L566.16 824.29L568.02 824.29L568.02 825.50L569.89 825.50L569.89 824.98L571.76 824.98L571.76 823.80L573.63 823.80L573.63 827.89L575.50 827.89L575.50 828.14L577.36 828.14L577.36 810.87L579.23 810.87L579.23 817.23L581.10 817.23L581.10 820.93L582.96 820.93L582.97 824.36L584.83 824.36L584.83 823.34L586.70 823.34L586.70 825.99L588.57 825.99L588.57 823.07L590.43 823.07L590.43 826.98L592.30 826.98L592.30 827.08L594.17 827.08L594.17 826.21L596.04 826.21L596.04 804.42L597.90 804.42L597.90 811.74L599.77 811.74L599.77 817.29L601.64 817.29L601.64 824.36L603.51 824.36L603.51 823.46L605.38 823.46L605.38 823.73L607.24 823.73L607.24 827.04L609.11 827.04L609.11 826.68L610.98 826.68L610.98 826.48L612.84 826.48L612.85 827.69L614.71 827.69L614.71 806.70L616.58 806.70L616.58 812.80L618.45 812.80L618.45 818.34L620.31 818.34L620.31 822.00L622.18 822.00L622.18 821.36L624.05 821.36L624.05 824.97L625.92 824.97L625.92 826.36L627.78 826.36L627.78 827.71L629.65 827.71L629.65 827.74L631.52 827.74L631.52 826.96L633.39 826.96L633.39 807.80L635.25 807.80L635.25 813.60L637.12 813.60L637.12 822.35L638.99 822.35L638.99 824.42L640.86 824.42L640.86 824.31L642.72 824.31L642.73 824.54L644.59 824.54L644.59 826.50L646.46 826.50L646.46 827.08L648.33 827.08L648.33 826.43L650.19 826.43L650.19 828.18L652.06 828.18L652.06 806.70L653.93 806.70L653.93 815.49L655.80 815.49L655.80 816.03L657.66 816.03L657.66 823.55L659.53 823.55L659.53 823.60L661.40 823.60L661.40 822.90L663.27 822.90L663.27 827.32L665.13 827.32L665.13 826.57L667.00 826.57L667.00 827.85L668.87 827.85L668.87 827.77L670.74 827.77L670.74 809.77L672.60 809.77L672.61 814.55L674.47 814.55L674.47 820.79L676.34 820.79L676.34 822.48L678.21 822.48L678.21 823.25L680.07 823.25L680.08 824.95L681.94 824.95L681.94 826.18L683.81 826.18L683.81 825.05L685.68 825.05L685.68 827.54L687.54 827.54L687.54 828.03L689.41 828.03L689.41 805.02L691.28 805.02L691.28 816.08L693.15 816.08L693.15 820.87L695.01 820.87L695.01 823.42L696.88 823.42L696.88 824.76L698.75 824.76L698.75 825.70L700.62 825.70L700.62 826.68L702.48 826.68L702.49 825.85L704.35 825.85L704.35 827.59L706.22 827.59L706.22 826.32L708.09 826.32L708.09 804.76L709.95 804.76L709.95 811.90L711.82 811.90L711.82 818.51L713.69 818.51L713.69 823.00L715.56 823.00L715.56 824.56L717.42 824.56L717.42 825.88L719.29 825.88L719.29 823.55L721.16 823.55L721.16 825.79L723.03 825.79L723.03 827.81L724.89 827.81L724.89 828.14L726.76 828.14L726.76 808.26L728.63 808.26L728.63 813.89L730.50 813.89L730.50 819.03L732.36 819.03L732.37 822.67L734.23 822.67L734.23 822.28L736.10 822.28L736.10 824.95L737.97 824.95L737.97 827.21L739.83 827.21L739.84 827.06L741.70 827.06L741.70 827.77L743.57 827.77L743.57 828.18L745.44 828.18L745.44 808.42L747.30 808.42L747.30 818.07L749.17 818.07L749.17 821.47L751.04 821.47L751.04 822.46L752.91 822.46L752.91 823.79L754.77 823.79L754.77 824.68L756.64 824.68L756.64 826.56L758.51 826.56L758.51 826.78L760.38 826.78L760.38 824.94L762.25 824.94L762.25 827.78L764.11 827.78L764.11 807.26L765.98 807.26L765.98 813.63L767.85 813.63L767.85 818.01L769.71 818.01L769.72 820.34L771.58 820.34L771.58 825.06L773.45 825.06L773.45 824.32L775.32 824.32L775.32 826.71L777.18 826.71L777.18 827.33L779.05 827.33L779.05 827.85L780.92 827.85L780.92 825.85L782.79 825.85L782.79 804.61L784.65 804.61L784.65 815.64L786.52 815.64L786.52 820.80L788.39 820.80L788.39 822.65L790.26 822.65L790.26 824.61L792.12 824.61L792.12 825.09L793.99 825.09L793.99 827.03L795.86 827.03L795.86 826.84L797.73 826.84L797.73 827.96L799.59 827.96L799.60 826.35L801.46 826.35L801.46 807.86L803.33 807.86L803.33 812.63L805.20 812.63L805.20 820.32L807.06 820.32L807.07 820.58L808.93 820.58L808.93 825.30L810.80 825.30L810.80 822.97L812.67 822.97L812.67 826.35L814.53 826.35L814.53 826.70L816.40 826.70L816.40 826.66L818.27 826.66L818.27 827.96L820.14 827.96L820.14 806.38L822.00 806.38L822.00 816.90L823.87 816.90L823.87 818.37L825.74 818.37L825.74 820.19L827.61 820.19L827.61 824.92L829.48 824.92L829.47 826.26L831.34 826.26L831.34 827.02L833.21 827.02L833.21 827.26L835.08 827.26L835.08 827.82L836.94 827.82L836.94 826.60L838.81 826.60L838.81 811.82L840.68 811.82L840.68 813.75L842.55 813.75L842.55 821.99L844.41 821.99L844.41 822.85L846.28 822.85L846.28 824.76L848.15 824.76L848.15 826.02L850.02 826.02L850.02 826.57L851.88 826.57L851.88 826.13L853.75 826.13L853.75 826.02L855.62 826.02L855.62 826.18L857.49 826.18L857.49 806.98L859.35 806.98L859.36 816.15L861.22 816.15L861.22 821.60L863.09 821.60L863.09 818.79L864.96 818.79L864.96 824.79L866.82 824.79L866.83 823.55L868.69 823.55L868.69 826.46L870.56 826.46L870.56 827.38L872.43 827.38L872.43 827.67L874.29 827.67L874.30 827.24L876.16 827.24L876.16 805.28L878.03 805.28L878.03 814.25L879.90 814.25L879.90 821.02L881.76 821.02L881.76 822.35L883.63 822.35L883.63 825.82L885.00 825.82L885 828.5Z" fill="#231f20"/>
<rect x="520.4" y="773.9" width="1.5" height="54.6" fill="#b8242e"/>
<rect x="539.1" y="773.9" width="1.5" height="54.6" fill="#b8242e"/>
<rect x="557.8" y="773.9" width="1.5" height="54.6" fill="#b8242e"/>
<rect x="576.4" y="773.9" width="1.5" height="54.6" fill="#b8242e"/>
<rect x="595.1" y="773.9" width="1.5" height="54.6" fill="#b8242e"/>
<rect x="613.8" y="773.9" width="1.5" height="54.6" fill="#b8242e"/>
<rect x="632.4" y="773.9" width="1.5" height="54.6" fill="#b8242e"/>
<rect x="651.1" y="773.9" width="1.5" height="54.6" fill="#b8242e"/>
<rect x="669.8" y="773.9" width="1.5" height="54.6" fill="#b8242e"/>
<rect x="688.5" y="773.9" width="1.5" height="54.6" fill="#b8242e"/>
<rect x="707.1" y="773.9" width="1.5" height="54.6" fill="#b8242e"/>
<rect x="725.8" y="773.9" width="1.5" height="54.6" fill="#b8242e"/>
<rect x="744.5" y="773.9" width="1.5" height="54.6" fill="#b8242e"/>
<rect x="763.2" y="773.9" width="1.5" height="54.6" fill="#b8242e"/>
<rect x="781.8" y="773.9" width="1.5" height="54.6" fill="#b8242e"/>
<rect x="800.5" y="773.9" width="1.5" height="54.6" fill="#b8242e"/>
<rect x="819.2" y="781" width="1.5" height="47.5" fill="#b8242e"/>
<rect x="837.9" y="781" width="1.5" height="47.5" fill="#b8242e"/>
<rect x="856.5" y="781" width="1.5" height="47.5" fill="#b8242e"/>
<rect x="875.2" y="781" width="1.5" height="47.5" fill="#b8242e"/>
<line x1="507" y1="828.5" x2="885" y2="828.5" stroke="#231f20" stroke-width="2.0"/>
<line x1="512" y1="772.9" x2="512" y2="829.7" stroke="#231f20" stroke-width="2.4"/>
<line x1="507" y1="828.5" x2="512" y2="828.5" stroke="#231f20" stroke-width="2"/>
<text x="503.5" y="837.1" font-size="24.5" text-anchor="end">0</text>
<line x1="507" y1="801.2" x2="512" y2="801.2" stroke="#231f20" stroke-width="2"/>
<text x="503.5" y="809.8" font-size="24.5" text-anchor="end">1</text>
<line x1="507" y1="773.9" x2="512" y2="773.9" stroke="#231f20" stroke-width="2"/>
<text x="503.5" y="782.5" font-size="24.5" text-anchor="end">2</text>
<text x="883.5" y="770.6" font-size="24.5" text-anchor="end">20 Hz</text>
<path d="M512 915.8L512.00 907.62L513.87 907.62L513.87 911.57L515.73 911.57L515.74 913.68L517.60 913.68L517.60 913.59L519.47 913.59L519.47 913.62L521.34 913.62L521.34 905.97L523.20 905.97L523.21 909.74L525.07 909.74L525.07 913.13L526.94 913.13L526.94 913.81L528.81 913.81L528.81 914.77L530.67 914.77L530.67 905.18L532.54 905.18L532.54 907.26L534.41 907.26L534.41 913.10L536.28 913.10L536.28 911.51L538.14 911.51L538.14 914.27L540.01 914.27L540.01 904.27L541.88 904.27L541.88 908.99L543.75 908.99L543.75 912.58L545.61 912.58L545.62 914.45L547.48 914.45L547.48 913.30L549.35 913.30L549.35 903.91L551.22 903.91L551.22 910.30L553.08 910.30L553.09 912.06L554.95 912.06L554.95 914.28L556.82 914.28L556.82 914.56L558.69 914.56L558.69 902.80L560.55 902.80L560.55 907.61L562.42 907.61L562.42 912.72L564.29 912.72L564.29 913.91L566.16 913.91L566.16 914.58L568.02 914.58L568.02 905.20L569.89 905.20L569.89 909.68L571.76 909.68L571.76 908.61L573.63 908.61L573.63 909.98L575.50 909.98L575.50 914.45L577.36 914.45L577.36 901.15L579.23 901.15L579.23 909.49L581.10 909.49L581.10 911.03L582.96 911.03L582.97 912.97L584.83 912.97L584.83 910.69L586.70 910.69L586.70 899.50L588.57 899.50L588.57 908.19L590.43 908.19L590.43 912.86L592.30 912.86L592.30 914.20L594.17 914.20L594.17 913.38L596.04 913.38L596.04 905.60L597.90 905.60L597.90 905.62L599.77 905.62L599.77 909.85L601.64 909.85L601.64 914.46L603.51 914.46L603.51 914.71L605.38 914.71L605.38 901.62L607.24 901.62L607.24 910.12L609.11 910.12L609.11 909.39L610.98 909.39L610.98 913.08L612.84 913.08L612.85 914.73L614.71 914.73L614.71 905.48L616.58 905.48L616.58 911.18L618.45 911.18L618.45 911.06L620.31 911.06L620.31 913.36L622.18 913.36L622.18 912.93L624.05 912.93L624.05 904.67L625.92 904.67L625.92 909.86L627.78 909.86L627.78 911.35L629.65 911.35L629.65 913.04L631.52 913.04L631.52 909.89L633.39 909.89L633.39 904.29L635.25 904.29L635.25 908.39L637.12 908.39L637.12 912.47L638.99 912.47L638.99 912.80L640.86 912.80L640.86 912.74L642.72 912.74L642.73 903.71L644.59 903.71L644.59 909.47L646.46 909.47L646.46 912.50L648.33 912.50L648.33 914.05L650.19 914.05L650.19 914.89L652.06 914.89L652.06 906.70L653.93 906.70L653.93 908.65L655.80 908.65L655.80 912.56L657.66 912.56L657.66 913.99L659.53 913.99L659.53 913.47L661.40 913.47L661.40 906.45L663.27 906.45L663.27 909.30L665.13 909.30L665.13 911.93L667.00 911.93L667.00 913.69L668.87 913.69L668.87 914.57L670.74 914.57L670.74 905.79L672.60 905.79L672.61 910.12L674.47 910.12L674.47 910.84L676.34 910.84L676.34 913.42L678.21 913.42L678.21 914.04L680.07 914.04L680.08 906.63L681.94 906.63L681.94 907.88L683.81 907.88L683.81 912.36L685.68 912.36L685.68 913.95L687.54 913.95L687.54 913.57L689.41 913.57L689.41 903.01L691.28 903.01L691.28 909.89L693.15 909.89L693.15 911.88L695.01 911.88L695.01 911.65L696.88 911.65L696.88 911.75L698.75 911.75L698.75 907.98L700.62 907.98L700.62 908.75L702.48 908.75L702.49 911.85L704.35 911.85L704.35 909.78L706.22 909.78L706.22 914.86L708.09 914.86L708.09 904.15L709.95 904.15L709.95 909.81L711.82 909.81L711.82 912.69L713.69 912.69L713.69 910.65L715.56 910.65L715.56 914.72L717.42 914.72L717.42 905.77L719.29 905.77L719.29 909.21L721.16 909.21L721.16 909.99L723.03 909.99L723.03 912.96L724.89 912.96L724.89 914.97L726.76 914.97L726.76 901.76L728.63 901.76L728.63 910.22L730.50 910.22L730.50 912.90L732.36 912.90L732.37 912.80L734.23 912.80L734.23 914.82L736.10 914.82L736.10 907.47L737.97 907.47L737.97 908.72L739.83 908.72L739.84 912.32L741.70 912.32L741.70 912.60L743.57 912.60L743.57 914.57L745.44 914.57L745.44 903.22L747.30 903.22L747.30 909.58L749.17 909.58L749.17 912.75L751.04 912.75L751.04 909.52L752.91 909.52L752.91 911.12L754.77 911.12L754.77 907.06L756.64 907.06L756.64 907.72L758.51 907.72L758.51 911.31L760.38 911.31L760.38 913.01L762.25 913.01L762.25 912.62L764.11 912.62L764.11 905.10L765.98 905.10L765.98 907.31L767.85 907.31L767.85 913.17L769.71 913.17L769.72 913.60L771.58 913.60L771.58 914.66L773.45 914.66L773.45 906.67L775.32 906.67L775.32 908.18L777.18 908.18L777.18 910.83L779.05 910.83L779.05 913.76L780.92 913.76L780.92 914.67L782.79 914.67L782.79 906.89L784.65 906.89L784.65 906.57L786.52 906.57L786.52 910.59L788.39 910.59L788.39 913.75L790.26 913.75L790.26 913.73L792.12 913.73L792.12 904.59L793.99 904.59L793.99 909.77L795.86 909.77L795.86 910.53L797.73 910.53L797.73 912.44L799.59 912.44L799.60 913.72L801.46 913.72L801.46 904.38L803.33 904.38L803.33 910.21L805.20 910.21L805.20 910.78L807.06 910.78L807.07 914.30L808.93 914.30L808.93 912.46L810.80 912.46L810.80 903.26L812.67 903.26L812.67 909.04L814.53 909.04L814.53 912.96L816.40 912.96L816.40 912.63L818.27 912.63L818.27 914.85L820.14 914.85L820.14 904.95L822.00 904.95L822.00 908.81L823.87 908.81L823.87 911.52L825.74 911.52L825.74 914.20L827.61 914.20L827.61 913.16L829.48 913.16L829.47 906.51L831.34 906.51L831.34 910.56L833.21 910.56L833.21 913.11L835.08 913.11L835.08 914.10L836.94 914.10L836.94 913.23L838.81 913.23L838.81 903.89L840.68 903.89L840.68 909.88L842.55 909.88L842.55 912.83L844.41 912.83L844.41 913.33L846.28 913.33L846.28 913.59L848.15 913.59L848.15 906.47L850.02 906.47L850.02 909.60L851.88 909.60L851.88 912.54L853.75 912.54L853.75 912.01L855.62 912.01L855.62 914.79L857.49 914.79L857.49 903.00L859.35 903.00L859.36 906.41L861.22 906.41L861.22 911.14L863.09 911.14L863.09 912.91L864.96 912.91L864.96 913.25L866.82 913.25L866.83 900.63L868.69 900.63L868.69 908.75L870.56 908.75L870.56 910.63L872.43 910.63L872.43 913.48L874.29 913.48L874.30 914.52L876.16 914.52L876.16 905.37L878.03 905.37L878.03 911.03L879.90 911.03L879.90 909.66L881.76 909.66L881.76 911.81L883.63 911.81L883.63 914.54L885.00 914.54L885 915.8Z" fill="#231f20"/>
<rect x="520.4" y="861.2" width="1.4" height="54.6" fill="#b8242e"/>
<rect x="529.7" y="861.2" width="1.4" height="54.6" fill="#b8242e"/>
<rect x="539.1" y="861.2" width="1.4" height="54.6" fill="#b8242e"/>
<rect x="548.4" y="861.2" width="1.4" height="54.6" fill="#b8242e"/>
<rect x="557.8" y="861.2" width="1.4" height="54.6" fill="#b8242e"/>
<rect x="567.1" y="861.2" width="1.4" height="54.6" fill="#b8242e"/>
<rect x="576.4" y="861.2" width="1.4" height="54.6" fill="#b8242e"/>
<rect x="585.8" y="861.2" width="1.4" height="54.6" fill="#b8242e"/>
<rect x="595.1" y="861.2" width="1.4" height="54.6" fill="#b8242e"/>
<rect x="604.4" y="861.2" width="1.4" height="54.6" fill="#b8242e"/>
<rect x="613.8" y="861.2" width="1.4" height="54.6" fill="#b8242e"/>
<rect x="623.1" y="861.2" width="1.4" height="54.6" fill="#b8242e"/>
<rect x="632.4" y="861.2" width="1.4" height="54.6" fill="#b8242e"/>
<rect x="641.8" y="861.2" width="1.4" height="54.6" fill="#b8242e"/>
<rect x="651.1" y="861.2" width="1.4" height="54.6" fill="#b8242e"/>
<rect x="660.5" y="861.2" width="1.4" height="54.6" fill="#b8242e"/>
<rect x="669.8" y="861.2" width="1.4" height="54.6" fill="#b8242e"/>
<rect x="679.1" y="861.2" width="1.4" height="54.6" fill="#b8242e"/>
<rect x="688.5" y="861.2" width="1.4" height="54.6" fill="#b8242e"/>
<rect x="697.8" y="861.2" width="1.4" height="54.6" fill="#b8242e"/>
<rect x="707.1" y="861.2" width="1.4" height="54.6" fill="#b8242e"/>
<rect x="716.5" y="861.2" width="1.4" height="54.6" fill="#b8242e"/>
<rect x="725.8" y="861.2" width="1.4" height="54.6" fill="#b8242e"/>
<rect x="735.2" y="861.2" width="1.4" height="54.6" fill="#b8242e"/>
<rect x="744.5" y="861.2" width="1.4" height="54.6" fill="#b8242e"/>
<rect x="753.8" y="861.2" width="1.4" height="54.6" fill="#b8242e"/>
<rect x="763.2" y="861.2" width="1.4" height="54.6" fill="#b8242e"/>
<rect x="772.5" y="861.2" width="1.4" height="54.6" fill="#b8242e"/>
<rect x="781.8" y="861.2" width="1.4" height="54.6" fill="#b8242e"/>
<rect x="791.2" y="861.2" width="1.4" height="54.6" fill="#b8242e"/>
<rect x="800.5" y="861.2" width="1.4" height="54.6" fill="#b8242e"/>
<rect x="809.9" y="861.2" width="1.4" height="54.6" fill="#b8242e"/>
<rect x="819.2" y="868.3" width="1.4" height="47.5" fill="#b8242e"/>
<rect x="828.5" y="868.3" width="1.4" height="47.5" fill="#b8242e"/>
<rect x="837.9" y="868.3" width="1.4" height="47.5" fill="#b8242e"/>
<rect x="847.2" y="868.3" width="1.4" height="47.5" fill="#b8242e"/>
<rect x="856.5" y="868.3" width="1.4" height="47.5" fill="#b8242e"/>
<rect x="865.9" y="868.3" width="1.4" height="47.5" fill="#b8242e"/>
<rect x="875.2" y="868.3" width="1.4" height="47.5" fill="#b8242e"/>
<line x1="507" y1="915.8" x2="885" y2="915.8" stroke="#231f20" stroke-width="2.0"/>
<line x1="512" y1="860.2" x2="512" y2="917" stroke="#231f20" stroke-width="2.4"/>
<line x1="507" y1="915.8" x2="512" y2="915.8" stroke="#231f20" stroke-width="2"/>
<text x="503.5" y="924.4" font-size="24.5" text-anchor="end">0</text>
<line x1="507" y1="888.5" x2="512" y2="888.5" stroke="#231f20" stroke-width="2"/>
<text x="503.5" y="897.1" font-size="24.5" text-anchor="end">1</text>
<line x1="507" y1="861.2" x2="512" y2="861.2" stroke="#231f20" stroke-width="2"/>
<text x="503.5" y="869.8" font-size="24.5" text-anchor="end">2</text>
<text x="883.5" y="857.8" font-size="24.5" text-anchor="end">40 Hz</text>
<text x="522.3" y="942.9" font-size="24.5" text-anchor="middle">0</text>
<text x="594.3" y="942.9" font-size="24.5" text-anchor="middle">200</text>
<text x="672" y="942.9" font-size="24.5" text-anchor="middle">400</text>
<text x="746.7" y="942.9" font-size="24.5" text-anchor="middle">600</text>
<text x="857.6" y="942.9" font-size="24.5" text-anchor="middle">800</text>
<text x="700.5" y="973" font-size="25.2" text-anchor="middle">Time (ms)</text>
<text x="0" y="0" transform="translate(456 761.6) rotate(-90)" font-size="25.1" text-anchor="middle">Mean spikes per bin</text>
<rect x="270" y="1182.8" width="78.2" height="319.2" fill="#f3bfc6"/>
<path d="M270.60 1502V1501.1H274.82V1502ZM274.52 1502V1499.4H278.74V1502ZM278.44 1502V1487.0H282.66V1502ZM282.36 1502V1487.0H286.58V1502ZM286.28 1502V1487.0H290.50V1502ZM290.20 1502V1449.2H294.42V1502ZM294.12 1502V1458.9H298.34V1502ZM298.04 1502V1478.2H302.26V1502ZM301.96 1502V1490.1H306.18V1502ZM305.88 1502V1475.6H310.10V1502ZM309.80 1502V1480.9H314.02V1502ZM313.72 1502V1446.6H317.94V1502ZM317.64 1502V1460.6H321.86V1502ZM321.56 1502V1440.4H325.78V1502ZM325.48 1502V1458.0H329.70V1502ZM329.40 1502V1450.1H333.62V1502ZM333.32 1502V1451.0H337.54V1502ZM337.24 1502V1437.8H341.46V1502ZM341.16 1502V1440.4H345.38V1502ZM345.08 1502V1431.6H349.30V1502ZM349.00 1502V1429.0H353.22V1502ZM352.92 1502V1449.2H357.14V1502ZM356.84 1502V1460.6H361.06V1502ZM360.76 1502V1469.4H364.98V1502ZM364.68 1502V1466.8H368.90V1502ZM368.60 1502V1480.9H372.82V1502ZM372.52 1502V1480.9H376.74V1502ZM376.44 1502V1497.6H380.66V1502ZM380.36 1502V1499.4H384.58V1502ZM384.28 1502V1495.8H388.50V1502ZM388.20 1502V1487.9H392.42V1502ZM392.12 1502V1496.7H396.34V1502ZM396.04 1502V1499.4H400.26V1502ZM407.80 1502V1499.4H412.02V1502ZM117.72 1502V1499.4H121.94V1502ZM121.64 1502V1499.4H125.86V1502ZM141.24 1502V1499.4H145.46V1502ZM145.16 1502V1499.4H149.38V1502Z" fill="#231f20" stroke="#231f20" stroke-width="0.4"/>
<path d="M297.7 1380.9v4.6M314.3 1380.9v4.6M341.3 1380.9v4.6M291.1 1380.9v4.6M340.0 1380.9v4.6M350.6 1380.9v4.6M330.5 1380.9v4.6M363.7 1380.9v4.6M312.8 1380.9v4.6M322.6 1380.9v4.6M365.0 1380.9v4.6M320.1 1380.9v4.6M362.2 1380.9v4.6M296.8 1374.1v4.6M349.2 1374.1v4.6M314.9 1374.1v4.6M320.1 1374.1v4.6M323.0 1374.1v4.6M310.8 1374.1v4.6M371.1 1374.1v4.6M341.8 1374.1v4.6M349.6 1374.1v4.6M329.4 1374.1v4.6M347.3 1374.1v4.6M348.4 1374.1v4.6M300.0 1367.4v4.6M354.5 1367.4v4.6M349.8 1367.4v4.6M336.8 1367.4v4.6M345.6 1367.4v4.6M350.7 1367.4v4.6M342.6 1367.4v4.6M396.6 1367.4v4.6M336.3 1367.4v4.6M361.4 1367.4v4.6M327.8 1367.4v4.6M334.3 1367.4v4.6M340.9 1367.4v4.6M345.5 1367.4v4.6M363.7 1367.4v4.6M294.8 1360.6v4.6M345.5 1360.6v4.6M331.2 1360.6v4.6M376.0 1360.6v4.6M315.7 1360.6v4.6M309.5 1360.6v4.6M361.9 1360.6v4.6M347.5 1360.6v4.6M355.0 1360.6v4.6M372.0 1360.6v4.6M358.0 1360.6v4.6M293.6 1360.6v4.6M352.0 1360.6v4.6M317.1 1360.6v4.6M302.3 1353.8v4.6M351.7 1353.8v4.6M350.6 1353.8v4.6M346.5 1353.8v4.6M366.4 1353.8v4.6M314.0 1353.8v4.6M338.3 1353.8v4.6M335.4 1353.8v4.6M352.5 1353.8v4.6M342.1 1353.8v4.6M334.9 1353.8v4.6M289.4 1347.0v4.6M336.2 1347.0v4.6M348.9 1347.0v4.6M361.7 1347.0v4.6M307.6 1347.0v4.6M330.5 1347.0v4.6M317.3 1347.0v4.6M332.8 1347.0v4.6M337.4 1347.0v4.6M411.1 1347.0v4.6M384.0 1347.0v4.6M357.5 1347.0v4.6M334.2 1347.0v4.6M325.7 1347.0v4.6M296.4 1340.2v4.6M371.7 1340.2v4.6M320.4 1340.2v4.6M352.1 1340.2v4.6M347.0 1340.2v4.6M306.7 1340.2v4.6M321.8 1340.2v4.6M336.9 1340.2v4.6M337.5 1340.2v4.6M336.7 1340.2v4.6M290.5 1340.2v4.6M329.2 1340.2v4.6M339.5 1340.2v4.6M286.6 1340.2v4.6M291.8 1333.5v4.6M340.9 1333.5v4.6M312.6 1333.5v4.6M315.3 1333.5v4.6M346.3 1333.5v4.6M324.5 1333.5v4.6M292.0 1333.5v4.6M396.3 1333.5v4.6M310.8 1333.5v4.6M372.1 1333.5v4.6M362.2 1333.5v4.6M301.3 1333.5v4.6M345.0 1333.5v4.6M345.1 1333.5v4.6M354.1 1333.5v4.6M348.8 1333.5v4.6M290.9 1326.7v4.6M349.6 1326.7v4.6M318.5 1326.7v4.6M324.3 1326.7v4.6M358.8 1326.7v4.6M317.3 1326.7v4.6M292.7 1326.7v4.6M388.8 1326.7v4.6M332.2 1326.7v4.6M337.7 1326.7v4.6M375.2 1326.7v4.6M301.6 1319.9v4.6M367.8 1319.9v4.6M364.3 1319.9v4.6M310.8 1319.9v4.6M297.2 1319.9v4.6M327.9 1319.9v4.6M301.7 1319.9v4.6M387.5 1319.9v4.6M360.9 1319.9v4.6M350.3 1319.9v4.6M371.7 1319.9v4.6M363.9 1319.9v4.6M316.8 1319.9v4.6M297.5 1319.9v4.6M316.9 1319.9v4.6M286.7 1313.1v4.6M361.6 1313.1v4.6M346.6 1313.1v4.6M317.9 1313.1v4.6M354.3 1313.1v4.6M336.0 1313.1v4.6M358.1 1313.1v4.6M345.0 1313.1v4.6M354.6 1313.1v4.6M388.7 1313.1v4.6M365.4 1313.1v4.6M355.6 1313.1v4.6M298.8 1306.3v4.6M349.8 1306.3v4.6M333.1 1306.3v4.6M367.1 1306.3v4.6M345.6 1306.3v4.6M366.7 1306.3v4.6M346.4 1306.3v4.6M347.3 1306.3v4.6M308.5 1306.3v4.6M328.4 1306.3v4.6M308.1 1306.3v4.6M328.7 1306.3v4.6M318.5 1306.3v4.6M355.3 1306.3v4.6M323.3 1306.3v4.6M347.1 1306.3v4.6M356.7 1306.3v4.6M292.7 1299.6v4.6M339.7 1299.6v4.6M324.8 1299.6v4.6M351.6 1299.6v4.6M314.5 1299.6v4.6M357.1 1299.6v4.6M331.9 1299.6v4.6M308.6 1299.6v4.6M334.3 1299.6v4.6M345.1 1299.6v4.6M352.0 1299.6v4.6M374.6 1299.6v4.6M291.2 1299.6v4.6M332.5 1299.6v4.6M349.0 1299.6v4.6M293.5 1292.8v4.6M324.5 1292.8v4.6M332.6 1292.8v4.6M366.4 1292.8v4.6M366.4 1292.8v4.6M352.3 1292.8v4.6M320.7 1292.8v4.6M334.3 1292.8v4.6M332.2 1292.8v4.6M315.0 1292.8v4.6M365.0 1292.8v4.6M311.4 1292.8v4.6M323.4 1292.8v4.6M285.5 1286.0v4.6M359.8 1286.0v4.6M325.5 1286.0v4.6M324.5 1286.0v4.6M360.6 1286.0v4.6M332.3 1286.0v4.6M339.6 1286.0v4.6M314.6 1286.0v4.6M329.5 1286.0v4.6M324.2 1286.0v4.6M326.1 1286.0v4.6M333.8 1286.0v4.6M341.3 1286.0v4.6M327.7 1286.0v4.6M333.5 1286.0v4.6M326.3 1286.0v4.6M324.5 1286.0v4.6M288.1 1279.2v4.6M321.4 1279.2v4.6M332.7 1279.2v4.6M336.3 1279.2v4.6M283.3 1279.2v4.6M342.1 1279.2v4.6M333.8 1279.2v4.6M374.3 1279.2v4.6M315.2 1279.2v4.6M344.9 1279.2v4.6M352.0 1279.2v4.6M303.2 1279.2v4.6M344.8 1279.2v4.6M286.5 1272.4v4.6M328.3 1272.4v4.6M292.9 1272.4v4.6M297.1 1272.4v4.6M341.6 1272.4v4.6M391.3 1272.4v4.6M323.2 1272.4v4.6M327.5 1272.4v4.6M324.9 1272.4v4.6M357.3 1272.4v4.6M375.0 1272.4v4.6M359.6 1272.4v4.6M332.3 1272.4v4.6M377.5 1272.4v4.6M355.0 1272.4v4.6M335.0 1272.4v4.6M281.1 1265.7v4.6M342.4 1265.7v4.6M317.4 1265.7v4.6M319.4 1265.7v4.6M351.2 1265.7v4.6M346.4 1265.7v4.6M334.6 1265.7v4.6M334.7 1265.7v4.6M314.8 1265.7v4.6M344.6 1265.7v4.6M339.3 1265.7v4.6M306.8 1265.7v4.6M327.7 1265.7v4.6M315.6 1265.7v4.6M350.8 1265.7v4.6M316.3 1265.7v4.6M286.1 1258.9v4.6M332.3 1258.9v4.6M324.3 1258.9v4.6M314.7 1258.9v4.6M340.2 1258.9v4.6M306.7 1258.9v4.6M336.2 1258.9v4.6M390.3 1258.9v4.6M318.0 1258.9v4.6M306.8 1258.9v4.6M305.9 1258.9v4.6M338.3 1258.9v4.6M386.4 1258.9v4.6M292.7 1252.1v4.6M375.0 1252.1v4.6M349.4 1252.1v4.6M325.3 1252.1v4.6M317.1 1252.1v4.6M343.9 1252.1v4.6M301.2 1252.1v4.6M331.7 1252.1v4.6M344.2 1252.1v4.6M329.0 1252.1v4.6M319.9 1252.1v4.6M331.6 1252.1v4.6M351.5 1252.1v4.6M290.3 1245.3v4.6M306.2 1245.3v4.6M318.5 1245.3v4.6M351.8 1245.3v4.6M332.1 1245.3v4.6M371.7 1245.3v4.6M343.8 1245.3v4.6M370.3 1245.3v4.6M339.8 1245.3v4.6M367.9 1245.3v4.6M351.2 1245.3v4.6M318.1 1245.3v4.6M289.4 1238.5v4.6M319.2 1238.5v4.6M319.8 1238.5v4.6M331.7 1238.5v4.6M363.6 1238.5v4.6M341.3 1238.5v4.6M316.4 1238.5v4.6M363.1 1238.5v4.6M285.4 1238.5v4.6M344.2 1238.5v4.6M307.9 1238.5v4.6M330.5 1238.5v4.6M397.7 1238.5v4.6M356.7 1238.5v4.6M334.9 1238.5v4.6M322.0 1238.5v4.6M299.9 1231.8v4.6M339.0 1231.8v4.6M322.8 1231.8v4.6M381.9 1231.8v4.6M341.1 1231.8v4.6M347.2 1231.8v4.6M330.1 1231.8v4.6M324.5 1231.8v4.6M344.1 1231.8v4.6M312.0 1231.8v4.6M370.3 1231.8v4.6M345.6 1231.8v4.6M386.7 1231.8v4.6M314.3 1231.8v4.6M339.4 1231.8v4.6M294.1 1231.8v4.6M333.8 1231.8v4.6M288.9 1225.0v4.6M350.6 1225.0v4.6M335.2 1225.0v4.6M330.0 1225.0v4.6M308.2 1225.0v4.6M349.5 1225.0v4.6M293.2 1225.0v4.6M324.6 1225.0v4.6M313.7 1225.0v4.6M352.3 1225.0v4.6M343.7 1225.0v4.6M362.5 1225.0v4.6M334.6 1225.0v4.6M350.5 1225.0v4.6M372.0 1225.0v4.6M389.1 1225.0v4.6M328.8 1225.0v4.6M299.3 1218.2v4.6M352.2 1218.2v4.6M328.1 1218.2v4.6M360.7 1218.2v4.6M333.5 1218.2v4.6M335.6 1218.2v4.6M364.2 1218.2v4.6M331.5 1218.2v4.6M332.2 1218.2v4.6M328.0 1218.2v4.6M299.9 1218.2v4.6M324.3 1218.2v4.6M348.4 1218.2v4.6M360.2 1218.2v4.6M326.7 1218.2v4.6M293.9 1211.4v4.6M362.7 1211.4v4.6M339.7 1211.4v4.6M316.4 1211.4v4.6M318.5 1211.4v4.6M294.0 1211.4v4.6M349.4 1211.4v4.6M303.1 1211.4v4.6M323.2 1211.4v4.6M315.3 1211.4v4.6M345.8 1211.4v4.6M308.3 1211.4v4.6M328.2 1211.4v4.6M335.6 1211.4v4.6M316.2 1211.4v4.6M332.0 1211.4v4.6M288.0 1204.6v4.6M337.5 1204.6v4.6M376.4 1204.6v4.6M321.4 1204.6v4.6M346.9 1204.6v4.6M321.6 1204.6v4.6M357.3 1204.6v4.6M326.9 1204.6v4.6M320.4 1204.6v4.6M281.8 1204.6v4.6M387.8 1204.6v4.6M352.3 1204.6v4.6M367.7 1204.6v4.6M316.9 1204.6v4.6M314.5 1204.6v4.6M316.7 1204.6v4.6M351.7 1204.6v4.6M292.6 1197.9v4.6M344.7 1197.9v4.6M346.3 1197.9v4.6M331.7 1197.9v4.6M349.4 1197.9v4.6M320.6 1197.9v4.6M306.4 1197.9v4.6M341.0 1197.9v4.6M340.8 1197.9v4.6M357.8 1197.9v4.6M358.7 1197.9v4.6M355.8 1197.9v4.6M322.0 1197.9v4.6M299.5 1191.1v4.6M363.6 1191.1v4.6M392.0 1191.1v4.6M354.4 1191.1v4.6M353.0 1191.1v4.6M339.0 1191.1v4.6M347.7 1191.1v4.6M344.4 1191.1v4.6M369.0 1191.1v4.6M313.8 1191.1v4.6M363.0 1191.1v4.6M365.5 1191.1v4.6M301.3 1184.3v4.6M346.9 1184.3v4.6M351.5 1184.3v4.6M396.5 1184.3v4.6M315.8 1184.3v4.6M326.9 1184.3v4.6M375.3 1184.3v4.6M339.5 1184.3v4.6M352.5 1184.3v4.6M348.3 1184.3v4.6M344.8 1184.3v4.6M146.7 1204.6v4.6M123.2 1360.6v4.6" stroke="#231f20" stroke-width="1.7" fill="none"/>
<line x1="113.8" y1="1185.8" x2="113.8" y2="1392.9" stroke="#231f20" stroke-width="1.8"/>
<line x1="108.3" y1="1186.7" x2="113.8" y2="1186.7" stroke="#231f20" stroke-width="1.8"/>
<text x="100.3" y="1195.6" font-size="24.5" text-anchor="end">30</text>
<line x1="108.3" y1="1254.4" x2="113.8" y2="1254.4" stroke="#231f20" stroke-width="1.8"/>
<text x="100.3" y="1263.3" font-size="24.5" text-anchor="end">20</text>
<line x1="108.3" y1="1322.2" x2="113.8" y2="1322.2" stroke="#231f20" stroke-width="1.8"/>
<text x="100.3" y="1331.1" font-size="24.5" text-anchor="end">10</text>
<line x1="113.8" y1="1413.1" x2="113.8" y2="1502.9" stroke="#231f20" stroke-width="1.8"/>
<line x1="108.3" y1="1414" x2="113.8" y2="1414" stroke="#231f20" stroke-width="1.8"/>
<text x="100.3" y="1422.9" font-size="24.5" text-anchor="end">1</text>
<line x1="108.3" y1="1502" x2="113.8" y2="1502" stroke="#231f20" stroke-width="1.8"/>
<text x="100.3" y="1510.9" font-size="24.5" text-anchor="end">0</text>
<line x1="113.8" y1="1502" x2="505.8" y2="1502" stroke="#231f20" stroke-width="1.8"/>
<line x1="113.8" y1="1502" x2="113.8" y2="1508" stroke="#231f20" stroke-width="1.8"/>
<text x="108.8" y="1533.5" font-size="24.5" text-anchor="middle">-200</text>
<line x1="192.2" y1="1502" x2="192.2" y2="1508" stroke="#231f20" stroke-width="1.8"/>
<text x="187.2" y="1533.5" font-size="24.5" text-anchor="middle">-100</text>
<line x1="270.6" y1="1502" x2="270.6" y2="1508" stroke="#231f20" stroke-width="1.8"/>
<text x="270.6" y="1533.5" font-size="24.5" text-anchor="middle">0</text>
<line x1="349" y1="1502" x2="349" y2="1508" stroke="#231f20" stroke-width="1.8"/>
<text x="348" y="1533.5" font-size="24.5" text-anchor="middle">100</text>
<line x1="427.4" y1="1502" x2="427.4" y2="1508" stroke="#231f20" stroke-width="1.8"/>
<text x="430.4" y="1533.5" font-size="24.5" text-anchor="middle">200</text>
<line x1="505.8" y1="1502" x2="505.8" y2="1508" stroke="#231f20" stroke-width="1.8"/>
<text x="508.8" y="1533.5" font-size="24.5" text-anchor="middle">300</text>
<text x="310" y="1568.5" font-size="25.2" text-anchor="middle">Time (ms)</text>
<text x="0" y="0" transform="translate(48 1290.5) rotate(-90)" font-size="24.5" text-anchor="middle">Trial #</text>
<text x="0" y="0" transform="translate(48 1466) rotate(-90)" font-size="25.1" text-anchor="middle">Spikes/bin</text>
<text x="345.8" y="1157.5" font-size="25.1" text-anchor="middle">40 mW mm<tspan font-size="15.5" dy="-8.5">-2</tspan><tspan dy="8.5">, 100 ms</tspan></text>
<rect x="671" y="1414.8" width="29.3" height="87.9" fill="#f2cdc0"/>
<rect x="717.1" y="1375.7" width="29.3" height="127" fill="#e6a58f"/>
<rect x="763.2" y="1313" width="29.3" height="189.7" fill="#d97b63"/>
<rect x="809.2" y="1263" width="29.3" height="239.7" fill="#d1553f"/>
<rect x="855.3" y="1220" width="29.3" height="282.7" fill="#c4202a"/>
<rect x="901.2" y="1210.7" width="29.3" height="292" fill="#8f1838"/>
<path d="M662.6 1186.6V1502.7H938.4" fill="none" stroke="#231f20" stroke-width="2.5"/>
<line x1="662.6" y1="1502.7" x2="669.1" y2="1502.7" stroke="#231f20" stroke-width="2"/>
<text x="657.1" y="1511.4" font-size="24.5" text-anchor="end">0.0</text>
<line x1="662.6" y1="1442.6" x2="669.1" y2="1442.6" stroke="#231f20" stroke-width="2"/>
<text x="657.1" y="1451.3" font-size="24.5" text-anchor="end">0.2</text>
<line x1="662.6" y1="1382.5" x2="669.1" y2="1382.5" stroke="#231f20" stroke-width="2"/>
<text x="657.1" y="1391.2" font-size="24.5" text-anchor="end">0.4</text>
<line x1="662.6" y1="1322.5" x2="669.1" y2="1322.5" stroke="#231f20" stroke-width="2"/>
<text x="657.1" y="1331.2" font-size="24.5" text-anchor="end">0.6</text>
<line x1="662.6" y1="1262.4" x2="669.1" y2="1262.4" stroke="#231f20" stroke-width="2"/>
<text x="657.1" y="1271.1" font-size="24.5" text-anchor="end">0.8</text>
<line x1="662.6" y1="1202.3" x2="669.1" y2="1202.3" stroke="#231f20" stroke-width="2"/>
<text x="657.1" y="1211" font-size="24.5" text-anchor="end">1.0</text>
<text x="686.1" y="1528" font-size="24.5" text-anchor="middle">4</text>
<text x="732.2" y="1528" font-size="24.5" text-anchor="middle">12</text>
<text x="778.4" y="1528" font-size="24.5" text-anchor="middle">40</text>
<text x="824.4" y="1528" font-size="24.5" text-anchor="middle">80</text>
<text x="870.4" y="1528" font-size="23.4" text-anchor="middle">200</text>
<text x="916.4" y="1528" font-size="23.4" text-anchor="middle">400</text>
<line x1="708.8" y1="1502.7" x2="708.8" y2="1499.2" stroke="#231f20" stroke-width="2"/>
<line x1="754.9" y1="1502.7" x2="754.9" y2="1499.2" stroke="#231f20" stroke-width="2"/>
<line x1="800.9" y1="1502.7" x2="800.9" y2="1499.2" stroke="#231f20" stroke-width="2"/>
<line x1="847" y1="1502.7" x2="847" y2="1499.2" stroke="#231f20" stroke-width="2"/>
<line x1="893" y1="1502.7" x2="893" y2="1499.2" stroke="#231f20" stroke-width="2"/>
<line x1="938.2" y1="1502.7" x2="938.2" y2="1499.2" stroke="#231f20" stroke-width="2"/>
<text x="800" y="1568.5" font-size="25.2" text-anchor="middle"><tspan font-style="italic">I</tspan> (mW mm<tspan font-size="15.5" dy="-8.5">-2</tspan><tspan dy="8.5">)</tspan></text>
<text x="0" y="0" transform="translate(596 1345.4) rotate(-90)" font-size="24.5" text-anchor="middle">Spike probability</text>
<line x1="685.8" y1="1382.3" x2="685.8" y2="1447" stroke="#231f20" stroke-width="2.15"/>
<line x1="677.1" y1="1382.3" x2="694.5" y2="1382.3" stroke="#231f20" stroke-width="2.15"/>
<line x1="677.1" y1="1447" x2="694.5" y2="1447" stroke="#231f20" stroke-width="2.15"/>
<line x1="731.6" y1="1341.1" x2="731.6" y2="1410" stroke="#231f20" stroke-width="2.15"/>
<line x1="722.9" y1="1341.1" x2="740.3" y2="1341.1" stroke="#231f20" stroke-width="2.15"/>
<line x1="722.9" y1="1410" x2="740.3" y2="1410" stroke="#231f20" stroke-width="2.15"/>
<line x1="777.6" y1="1277.5" x2="777.6" y2="1348.3" stroke="#231f20" stroke-width="2.15"/>
<line x1="768.9" y1="1277.5" x2="786.3" y2="1277.5" stroke="#231f20" stroke-width="2.15"/>
<line x1="768.9" y1="1348.3" x2="786.3" y2="1348.3" stroke="#231f20" stroke-width="2.15"/>
<line x1="823.7" y1="1241.7" x2="823.7" y2="1283.9" stroke="#231f20" stroke-width="2.15"/>
<line x1="815" y1="1241.7" x2="832.4" y2="1241.7" stroke="#231f20" stroke-width="2.15"/>
<line x1="815" y1="1283.9" x2="832.4" y2="1283.9" stroke="#231f20" stroke-width="2.15"/>
<line x1="869.5" y1="1212.8" x2="869.5" y2="1226.4" stroke="#231f20" stroke-width="2.15"/>
<line x1="860.8" y1="1212.8" x2="878.2" y2="1212.8" stroke="#231f20" stroke-width="2.15"/>
<line x1="860.8" y1="1226.4" x2="878.2" y2="1226.4" stroke="#231f20" stroke-width="2.15"/>
<line x1="915.5" y1="1207.1" x2="915.5" y2="1213.7" stroke="#231f20" stroke-width="2.15"/>
<line x1="906.8" y1="1207.1" x2="924.2" y2="1207.1" stroke="#231f20" stroke-width="2.15"/>
<line x1="906.8" y1="1213.7" x2="924.2" y2="1213.7" stroke="#231f20" stroke-width="2.15"/>
<circle cx="673.8" cy="1502.1" r="2.1" fill="#fff" stroke="#231f20" stroke-width="1.55"/>
<circle cx="678.6" cy="1502.1" r="2.1" fill="#fff" stroke="#231f20" stroke-width="1.55"/>
<circle cx="683.4" cy="1502.1" r="2.1" fill="#fff" stroke="#231f20" stroke-width="1.55"/>
<circle cx="688.2" cy="1502.1" r="2.1" fill="#fff" stroke="#231f20" stroke-width="1.55"/>
<circle cx="693.1" cy="1502.1" r="2.1" fill="#fff" stroke="#231f20" stroke-width="1.55"/>
<circle cx="697.9" cy="1502.1" r="2.1" fill="#fff" stroke="#231f20" stroke-width="1.55"/>
<circle cx="685.8" cy="1442.5" r="2.1" fill="#fff" stroke="#231f20" stroke-width="1.55"/>
<circle cx="685.8" cy="1432.9" r="2.1" fill="#fff" stroke="#231f20" stroke-width="1.55"/>
<circle cx="685.8" cy="1323" r="2.1" fill="#fff" stroke="#231f20" stroke-width="1.55"/>
<circle cx="685.8" cy="1292.9" r="2.1" fill="#fff" stroke="#231f20" stroke-width="1.55"/>
<circle cx="685.8" cy="1242.9" r="2.1" fill="#fff" stroke="#231f20" stroke-width="1.55"/>
<circle cx="685.8" cy="1223.1" r="2.1" fill="#fff" stroke="#231f20" stroke-width="1.55"/>
<circle cx="724.4" cy="1502.1" r="2.1" fill="#fff" stroke="#231f20" stroke-width="1.55"/>
<circle cx="729.2" cy="1502.1" r="2.1" fill="#fff" stroke="#231f20" stroke-width="1.55"/>
<circle cx="734" cy="1502.1" r="2.1" fill="#fff" stroke="#231f20" stroke-width="1.55"/>
<circle cx="738.8" cy="1502.1" r="2.1" fill="#fff" stroke="#231f20" stroke-width="1.55"/>
<circle cx="731.6" cy="1422.9" r="2.1" fill="#fff" stroke="#231f20" stroke-width="1.55"/>
<circle cx="731.6" cy="1392.8" r="2.1" fill="#fff" stroke="#231f20" stroke-width="1.55"/>
<circle cx="731.6" cy="1382.9" r="2.1" fill="#fff" stroke="#231f20" stroke-width="1.55"/>
<circle cx="731.6" cy="1352.8" r="2.1" fill="#fff" stroke="#231f20" stroke-width="1.55"/>
<circle cx="731.6" cy="1323" r="2.1" fill="#fff" stroke="#231f20" stroke-width="1.55"/>
<circle cx="731.6" cy="1213.1" r="2.1" fill="#fff" stroke="#231f20" stroke-width="1.55"/>
<circle cx="727.7" cy="1202.9" r="2.1" fill="#fff" stroke="#231f20" stroke-width="1.55"/>
<circle cx="735.5" cy="1202.9" r="2.1" fill="#fff" stroke="#231f20" stroke-width="1.55"/>
<circle cx="773.7" cy="1492.8" r="2.1" fill="#fff" stroke="#231f20" stroke-width="1.55"/>
<circle cx="781.6" cy="1492.8" r="2.1" fill="#fff" stroke="#231f20" stroke-width="1.55"/>
<circle cx="777.6" cy="1482.5" r="2.1" fill="#fff" stroke="#231f20" stroke-width="1.55"/>
<circle cx="777.6" cy="1412.7" r="2.1" fill="#fff" stroke="#231f20" stroke-width="1.55"/>
<circle cx="777.6" cy="1302.5" r="2.1" fill="#fff" stroke="#231f20" stroke-width="1.55"/>
<circle cx="777.6" cy="1292.9" r="2.1" fill="#fff" stroke="#231f20" stroke-width="1.55"/>
<circle cx="777.6" cy="1252.9" r="2.1" fill="#fff" stroke="#231f20" stroke-width="1.55"/>
<circle cx="777.6" cy="1213.1" r="2.1" fill="#fff" stroke="#231f20" stroke-width="1.55"/>
<circle cx="769.8" cy="1202.9" r="2.1" fill="#fff" stroke="#231f20" stroke-width="1.55"/>
<circle cx="774.9" cy="1202.9" r="2.1" fill="#fff" stroke="#231f20" stroke-width="1.55"/>
<circle cx="780" cy="1202.9" r="2.1" fill="#fff" stroke="#231f20" stroke-width="1.55"/>
<circle cx="785.2" cy="1202.9" r="2.1" fill="#fff" stroke="#231f20" stroke-width="1.55"/>
<circle cx="823.7" cy="1432.9" r="2.1" fill="#fff" stroke="#231f20" stroke-width="1.55"/>
<circle cx="823.7" cy="1362.7" r="2.1" fill="#fff" stroke="#231f20" stroke-width="1.55"/>
<circle cx="823.7" cy="1302.5" r="2.1" fill="#fff" stroke="#231f20" stroke-width="1.55"/>
<circle cx="823.7" cy="1283" r="2.1" fill="#fff" stroke="#231f20" stroke-width="1.55"/>
<circle cx="823.7" cy="1273" r="2.1" fill="#fff" stroke="#231f20" stroke-width="1.55"/>
<circle cx="823.7" cy="1242.9" r="2.1" fill="#fff" stroke="#231f20" stroke-width="1.55"/>
<circle cx="823.7" cy="1233" r="2.1" fill="#fff" stroke="#231f20" stroke-width="1.55"/>
<circle cx="823.7" cy="1213.1" r="2.1" fill="#fff" stroke="#231f20" stroke-width="1.55"/>
<circle cx="815.9" cy="1202.9" r="2.1" fill="#fff" stroke="#231f20" stroke-width="1.55"/>
<circle cx="821" cy="1202.9" r="2.1" fill="#fff" stroke="#231f20" stroke-width="1.55"/>
<circle cx="826.1" cy="1202.9" r="2.1" fill="#fff" stroke="#231f20" stroke-width="1.55"/>
<circle cx="831.2" cy="1202.9" r="2.1" fill="#fff" stroke="#231f20" stroke-width="1.55"/>
<circle cx="869.5" cy="1273" r="2.1" fill="#fff" stroke="#231f20" stroke-width="1.55"/>
<circle cx="869.5" cy="1263.1" r="2.1" fill="#fff" stroke="#231f20" stroke-width="1.55"/>
<circle cx="869.5" cy="1233" r="2.1" fill="#fff" stroke="#231f20" stroke-width="1.55"/>
<circle cx="869.5" cy="1223.1" r="2.1" fill="#fff" stroke="#231f20" stroke-width="1.55"/>
<circle cx="869.5" cy="1213.1" r="2.1" fill="#fff" stroke="#231f20" stroke-width="1.55"/>
<circle cx="857.4" cy="1202.9" r="2.1" fill="#fff" stroke="#231f20" stroke-width="1.55"/>
<circle cx="862.2" cy="1202.9" r="2.1" fill="#fff" stroke="#231f20" stroke-width="1.55"/>
<circle cx="867" cy="1202.9" r="2.1" fill="#fff" stroke="#231f20" stroke-width="1.55"/>
<circle cx="871.9" cy="1202.9" r="2.1" fill="#fff" stroke="#231f20" stroke-width="1.55"/>
<circle cx="876.7" cy="1202.9" r="2.1" fill="#fff" stroke="#231f20" stroke-width="1.55"/>
<circle cx="881.5" cy="1202.9" r="2.1" fill="#fff" stroke="#231f20" stroke-width="1.55"/>
<circle cx="915.5" cy="1233" r="2.1" fill="#fff" stroke="#231f20" stroke-width="1.55"/>
<circle cx="915.5" cy="1223.1" r="2.1" fill="#fff" stroke="#231f20" stroke-width="1.55"/>
<circle cx="915.5" cy="1213.1" r="2.1" fill="#fff" stroke="#231f20" stroke-width="1.55"/>
<circle cx="903.2" cy="1202.9" r="2.1" fill="#fff" stroke="#231f20" stroke-width="1.55"/>
<circle cx="907.4" cy="1202.9" r="2.1" fill="#fff" stroke="#231f20" stroke-width="1.55"/>
<circle cx="911.3" cy="1202.9" r="2.1" fill="#fff" stroke="#231f20" stroke-width="1.55"/>
<circle cx="915.5" cy="1202.9" r="2.1" fill="#fff" stroke="#231f20" stroke-width="1.55"/>
<circle cx="919.4" cy="1202.9" r="2.1" fill="#fff" stroke="#231f20" stroke-width="1.55"/>
<circle cx="923.6" cy="1202.9" r="2.1" fill="#fff" stroke="#231f20" stroke-width="1.55"/>
<circle cx="927.5" cy="1202.9" r="2.1" fill="#fff" stroke="#231f20" stroke-width="1.55"/>
<line x1="731.9" y1="1036.7" x2="912.8" y2="1036.7" stroke="#231f20" stroke-width="2"/>
<text x="822.5" y="1039.3" font-size="24.5" text-anchor="middle">***</text>
<line x1="731.9" y1="1060.8" x2="871.6" y2="1060.8" stroke="#231f20" stroke-width="2"/>
<text x="801.7" y="1063.4" font-size="24.5" text-anchor="middle">***</text>
<line x1="731.9" y1="1084.6" x2="823.4" y2="1084.6" stroke="#231f20" stroke-width="2"/>
<text x="777.6" y="1087.2" font-size="24.5" text-anchor="middle">*</text>
<line x1="684.6" y1="1107.8" x2="914.6" y2="1107.8" stroke="#231f20" stroke-width="2"/>
<text x="799.3" y="1110.4" font-size="24.5" text-anchor="middle">****</text>
<line x1="684.6" y1="1131.8" x2="865.8" y2="1131.8" stroke="#231f20" stroke-width="2"/>
<text x="774.6" y="1134.4" font-size="24.5" text-anchor="middle">****</text>
<line x1="684.6" y1="1155.6" x2="824" y2="1155.6" stroke="#231f20" stroke-width="2"/>
<text x="754.5" y="1158.2" font-size="24.5" text-anchor="middle">**</text>
<rect x="1061.7" y="1489.2" width="29.2" height="12.9" fill="#f2cdc0"/>
<rect x="1107.7" y="1484.7" width="29.2" height="17.4" fill="#e6a58f"/>
<rect x="1153.8" y="1471.1" width="29.2" height="31" fill="#d97b63"/>
<rect x="1199.6" y="1463" width="29.2" height="39.1" fill="#d1553f"/>
<rect x="1245.6" y="1431.7" width="29.2" height="70.4" fill="#c4202a"/>
<rect x="1291.1" y="1421.4" width="29.2" height="80.7" fill="#8f1838"/>
<path d="M1053.3 1184.8V1502.1H1328.4" fill="none" stroke="#231f20" stroke-width="2.5"/>
<line x1="1053.3" y1="1502.1" x2="1059.8" y2="1502.1" stroke="#231f20" stroke-width="2"/>
<text x="1046.7" y="1510.8" font-size="24.5" text-anchor="end">0</text>
<line x1="1053.3" y1="1438.6" x2="1059.8" y2="1438.6" stroke="#231f20" stroke-width="2"/>
<text x="1046.7" y="1447.3" font-size="24.5" text-anchor="end">5</text>
<line x1="1053.3" y1="1375.2" x2="1059.8" y2="1375.2" stroke="#231f20" stroke-width="2"/>
<text x="1046.7" y="1383.9" font-size="24.5" text-anchor="end">10</text>
<line x1="1053.3" y1="1311.7" x2="1059.8" y2="1311.7" stroke="#231f20" stroke-width="2"/>
<text x="1046.7" y="1320.4" font-size="24.5" text-anchor="end">15</text>
<line x1="1053.3" y1="1248.3" x2="1059.8" y2="1248.3" stroke="#231f20" stroke-width="2"/>
<text x="1046.7" y="1257" font-size="24.5" text-anchor="end">20</text>
<line x1="1053.3" y1="1184.8" x2="1059.8" y2="1184.8" stroke="#231f20" stroke-width="2"/>
<text x="1046.7" y="1193.5" font-size="24.5" text-anchor="end">25</text>
<text x="1076.8" y="1528" font-size="24.5" text-anchor="middle">4</text>
<text x="1122.8" y="1528" font-size="24.5" text-anchor="middle">12</text>
<text x="1168.9" y="1528" font-size="24.5" text-anchor="middle">40</text>
<text x="1214.7" y="1528" font-size="24.5" text-anchor="middle">80</text>
<text x="1260.7" y="1528" font-size="23.4" text-anchor="middle">200</text>
<text x="1306.2" y="1528" font-size="23.4" text-anchor="middle">400</text>
<line x1="1099.3" y1="1502.1" x2="1099.3" y2="1498.6" stroke="#231f20" stroke-width="2"/>
<line x1="1145.3" y1="1502.1" x2="1145.3" y2="1498.6" stroke="#231f20" stroke-width="2"/>
<line x1="1191.3" y1="1502.1" x2="1191.3" y2="1498.6" stroke="#231f20" stroke-width="2"/>
<line x1="1237.3" y1="1502.1" x2="1237.3" y2="1498.6" stroke="#231f20" stroke-width="2"/>
<line x1="1283.3" y1="1502.1" x2="1283.3" y2="1498.6" stroke="#231f20" stroke-width="2"/>
<line x1="1328.2" y1="1502.1" x2="1328.2" y2="1498.6" stroke="#231f20" stroke-width="2"/>
<text x="1192" y="1568.5" font-size="25.2" text-anchor="middle"><tspan font-style="italic">I</tspan> (mW mm<tspan font-size="15.5" dy="-8.5">-2</tspan><tspan dy="8.5">)</tspan></text>
<text x="0" y="0" transform="translate(1001.5 1345) rotate(-90)" font-size="24.5" text-anchor="middle">Spikes per trial</text>
<line x1="1122.2" y1="1480.7" x2="1122.2" y2="1488.3" stroke="#231f20" stroke-width="2.15"/>
<line x1="1113.5" y1="1480.7" x2="1130.9" y2="1480.7" stroke="#231f20" stroke-width="2.15"/>
<line x1="1113.5" y1="1488.3" x2="1130.9" y2="1488.3" stroke="#231f20" stroke-width="2.15"/>
<line x1="1168.2" y1="1462.7" x2="1168.2" y2="1478.6" stroke="#231f20" stroke-width="2.15"/>
<line x1="1159.5" y1="1462.7" x2="1176.9" y2="1462.7" stroke="#231f20" stroke-width="2.15"/>
<line x1="1159.5" y1="1478.6" x2="1176.9" y2="1478.6" stroke="#231f20" stroke-width="2.15"/>
<line x1="1214" y1="1451.5" x2="1214" y2="1474.1" stroke="#231f20" stroke-width="2.15"/>
<line x1="1205.3" y1="1451.5" x2="1222.7" y2="1451.5" stroke="#231f20" stroke-width="2.15"/>
<line x1="1205.3" y1="1474.1" x2="1222.7" y2="1474.1" stroke="#231f20" stroke-width="2.15"/>
<line x1="1259.8" y1="1411.5" x2="1259.8" y2="1450.6" stroke="#231f20" stroke-width="2.15"/>
<line x1="1251.1" y1="1411.5" x2="1268.5" y2="1411.5" stroke="#231f20" stroke-width="2.15"/>
<line x1="1251.1" y1="1450.6" x2="1268.5" y2="1450.6" stroke="#231f20" stroke-width="2.15"/>
<line x1="1305.5" y1="1397.4" x2="1305.5" y2="1444.9" stroke="#231f20" stroke-width="2.15"/>
<line x1="1296.8" y1="1397.4" x2="1314.2" y2="1397.4" stroke="#231f20" stroke-width="2.15"/>
<line x1="1296.8" y1="1444.9" x2="1314.2" y2="1444.9" stroke="#231f20" stroke-width="2.15"/>
<circle cx="1063.8" cy="1486.2" r="2.1" fill="#fff" stroke="#231f20" stroke-width="1.55"/>
<circle cx="1068.6" cy="1489.2" r="2.1" fill="#fff" stroke="#231f20" stroke-width="1.55"/>
<circle cx="1073.7" cy="1489.8" r="2.1" fill="#fff" stroke="#231f20" stroke-width="1.55"/>
<circle cx="1078.8" cy="1489.2" r="2.1" fill="#fff" stroke="#231f20" stroke-width="1.55"/>
<circle cx="1084" cy="1488.3" r="2.1" fill="#fff" stroke="#231f20" stroke-width="1.55"/>
<circle cx="1088.8" cy="1489.8" r="2.1" fill="#fff" stroke="#231f20" stroke-width="1.55"/>
<circle cx="1110.1" cy="1486.2" r="2.1" fill="#fff" stroke="#231f20" stroke-width="1.55"/>
<circle cx="1115" cy="1486.2" r="2.1" fill="#fff" stroke="#231f20" stroke-width="1.55"/>
<circle cx="1120.1" cy="1489.8" r="2.1" fill="#fff" stroke="#231f20" stroke-width="1.55"/>
<circle cx="1125.2" cy="1489.8" r="2.1" fill="#fff" stroke="#231f20" stroke-width="1.55"/>
<circle cx="1130" cy="1486.2" r="2.1" fill="#fff" stroke="#231f20" stroke-width="1.55"/>
<circle cx="1134.8" cy="1485.6" r="2.1" fill="#fff" stroke="#231f20" stroke-width="1.55"/>
<circle cx="1118" cy="1469.6" r="2.1" fill="#fff" stroke="#231f20" stroke-width="1.55"/>
<circle cx="1126.4" cy="1471.7" r="2.1" fill="#fff" stroke="#231f20" stroke-width="1.55"/>
<circle cx="1122.2" cy="1485.2" r="2.1" fill="#fff" stroke="#231f20" stroke-width="1.55"/>
<circle cx="1155.6" cy="1486.8" r="2.1" fill="#fff" stroke="#231f20" stroke-width="1.55"/>
<circle cx="1159.8" cy="1485.2" r="2.1" fill="#fff" stroke="#231f20" stroke-width="1.55"/>
<circle cx="1164" cy="1489.8" r="2.1" fill="#fff" stroke="#231f20" stroke-width="1.55"/>
<circle cx="1168.2" cy="1485.2" r="2.1" fill="#fff" stroke="#231f20" stroke-width="1.55"/>
<circle cx="1172.5" cy="1485.2" r="2.1" fill="#fff" stroke="#231f20" stroke-width="1.55"/>
<circle cx="1176.7" cy="1489.2" r="2.1" fill="#fff" stroke="#231f20" stroke-width="1.55"/>
<circle cx="1180.9" cy="1489.8" r="2.1" fill="#fff" stroke="#231f20" stroke-width="1.55"/>
<circle cx="1164" cy="1460.6" r="2.1" fill="#fff" stroke="#231f20" stroke-width="1.55"/>
<circle cx="1171.9" cy="1455.4" r="2.1" fill="#fff" stroke="#231f20" stroke-width="1.55"/>
<circle cx="1164" cy="1416.3" r="2.1" fill="#fff" stroke="#231f20" stroke-width="1.55"/>
<circle cx="1171.9" cy="1413.9" r="2.1" fill="#fff" stroke="#231f20" stroke-width="1.55"/>
<circle cx="1201.4" cy="1483.1" r="2.1" fill="#fff" stroke="#231f20" stroke-width="1.55"/>
<circle cx="1205.6" cy="1481.6" r="2.1" fill="#fff" stroke="#231f20" stroke-width="1.55"/>
<circle cx="1209.8" cy="1489.8" r="2.1" fill="#fff" stroke="#231f20" stroke-width="1.55"/>
<circle cx="1214" cy="1489.2" r="2.1" fill="#fff" stroke="#231f20" stroke-width="1.55"/>
<circle cx="1218.2" cy="1483.1" r="2.1" fill="#fff" stroke="#231f20" stroke-width="1.55"/>
<circle cx="1222.4" cy="1484.6" r="2.1" fill="#fff" stroke="#231f20" stroke-width="1.55"/>
<circle cx="1226.3" cy="1486.8" r="2.1" fill="#fff" stroke="#231f20" stroke-width="1.55"/>
<circle cx="1209.2" cy="1447" r="2.1" fill="#fff" stroke="#231f20" stroke-width="1.55"/>
<circle cx="1217.6" cy="1444" r="2.1" fill="#fff" stroke="#231f20" stroke-width="1.55"/>
<circle cx="1214" cy="1393.7" r="2.1" fill="#fff" stroke="#231f20" stroke-width="1.55"/>
<circle cx="1214" cy="1382.3" r="2.1" fill="#fff" stroke="#231f20" stroke-width="1.55"/>
<circle cx="1251.6" cy="1489.8" r="2.1" fill="#fff" stroke="#231f20" stroke-width="1.55"/>
<circle cx="1259.8" cy="1489.8" r="2.1" fill="#fff" stroke="#231f20" stroke-width="1.55"/>
<circle cx="1267.9" cy="1485.6" r="2.1" fill="#fff" stroke="#231f20" stroke-width="1.55"/>
<circle cx="1255.5" cy="1476.5" r="2.1" fill="#fff" stroke="#231f20" stroke-width="1.55"/>
<circle cx="1263.7" cy="1470.2" r="2.1" fill="#fff" stroke="#231f20" stroke-width="1.55"/>
<circle cx="1255.5" cy="1464.5" r="2.1" fill="#fff" stroke="#231f20" stroke-width="1.55"/>
<circle cx="1263.7" cy="1459.7" r="2.1" fill="#fff" stroke="#231f20" stroke-width="1.55"/>
<circle cx="1259.8" cy="1423.5" r="2.1" fill="#fff" stroke="#231f20" stroke-width="1.55"/>
<circle cx="1255.5" cy="1398.3" r="2.1" fill="#fff" stroke="#231f20" stroke-width="1.55"/>
<circle cx="1263.7" cy="1393.7" r="2.1" fill="#fff" stroke="#231f20" stroke-width="1.55"/>
<circle cx="1259.8" cy="1346.8" r="2.1" fill="#fff" stroke="#231f20" stroke-width="1.55"/>
<circle cx="1259.8" cy="1278.7" r="2.1" fill="#fff" stroke="#231f20" stroke-width="1.55"/>
<circle cx="1301.3" cy="1484.6" r="2.1" fill="#fff" stroke="#231f20" stroke-width="1.55"/>
<circle cx="1309.4" cy="1485.2" r="2.1" fill="#fff" stroke="#231f20" stroke-width="1.55"/>
<circle cx="1297.1" cy="1471.1" r="2.1" fill="#fff" stroke="#231f20" stroke-width="1.55"/>
<circle cx="1305.5" cy="1475.6" r="2.1" fill="#fff" stroke="#231f20" stroke-width="1.55"/>
<circle cx="1313.6" cy="1473.2" r="2.1" fill="#fff" stroke="#231f20" stroke-width="1.55"/>
<circle cx="1305.5" cy="1466" r="2.1" fill="#fff" stroke="#231f20" stroke-width="1.55"/>
<circle cx="1301.3" cy="1438.6" r="2.1" fill="#fff" stroke="#231f20" stroke-width="1.55"/>
<circle cx="1309.4" cy="1432.6" r="2.1" fill="#fff" stroke="#231f20" stroke-width="1.55"/>
<circle cx="1305.5" cy="1419.9" r="2.1" fill="#fff" stroke="#231f20" stroke-width="1.55"/>
<circle cx="1305.5" cy="1354.6" r="2.1" fill="#fff" stroke="#231f20" stroke-width="1.55"/>
<circle cx="1305.5" cy="1348.3" r="2.1" fill="#fff" stroke="#231f20" stroke-width="1.55"/>
<circle cx="1305.5" cy="1205" r="2.1" fill="#fff" stroke="#231f20" stroke-width="1.55"/>
<rect x="1478.2" y="1310" width="29.4" height="191.2" fill="#f2cdc0"/>
<rect x="1524.2" y="1323.6" width="29.4" height="177.6" fill="#e6a58f"/>
<rect x="1570.3" y="1330.5" width="29.4" height="170.7" fill="#d97b63"/>
<rect x="1616.3" y="1345.9" width="29.4" height="155.3" fill="#d1553f"/>
<rect x="1662.1" y="1425.3" width="29.4" height="75.9" fill="#c4202a"/>
<rect x="1707.9" y="1449.4" width="29.4" height="51.8" fill="#8f1838"/>
<path d="M1469.7 1184.5V1501.2H1746.4" fill="none" stroke="#231f20" stroke-width="2.5"/>
<line x1="1469.7" y1="1501.2" x2="1476.2" y2="1501.2" stroke="#231f20" stroke-width="2"/>
<text x="1463.7" y="1509.9" font-size="24.5" text-anchor="end">0</text>
<line x1="1469.7" y1="1437.9" x2="1476.2" y2="1437.9" stroke="#231f20" stroke-width="2"/>
<text x="1463.7" y="1446.6" font-size="24.5" text-anchor="end">20</text>
<line x1="1469.7" y1="1374.5" x2="1476.2" y2="1374.5" stroke="#231f20" stroke-width="2"/>
<text x="1463.7" y="1383.2" font-size="24.5" text-anchor="end">40</text>
<line x1="1469.7" y1="1311.2" x2="1476.2" y2="1311.2" stroke="#231f20" stroke-width="2"/>
<text x="1463.7" y="1319.9" font-size="24.5" text-anchor="end">60</text>
<line x1="1469.7" y1="1247.8" x2="1476.2" y2="1247.8" stroke="#231f20" stroke-width="2"/>
<text x="1463.7" y="1256.5" font-size="24.5" text-anchor="end">80</text>
<line x1="1469.7" y1="1184.5" x2="1476.2" y2="1184.5" stroke="#231f20" stroke-width="2"/>
<text x="1463.7" y="1193.2" font-size="24.5" text-anchor="end">100</text>
<text x="1493.4" y="1528" font-size="24.5" text-anchor="middle">4</text>
<text x="1539.4" y="1528" font-size="24.5" text-anchor="middle">12</text>
<text x="1585.5" y="1528" font-size="24.5" text-anchor="middle">40</text>
<text x="1631.5" y="1528" font-size="24.5" text-anchor="middle">80</text>
<text x="1677.3" y="1528" font-size="23.4" text-anchor="middle">200</text>
<text x="1723.1" y="1528" font-size="23.4" text-anchor="middle">400</text>
<line x1="1516" y1="1501.2" x2="1516" y2="1497.7" stroke="#231f20" stroke-width="2"/>
<line x1="1562" y1="1501.2" x2="1562" y2="1497.7" stroke="#231f20" stroke-width="2"/>
<line x1="1608" y1="1501.2" x2="1608" y2="1497.7" stroke="#231f20" stroke-width="2"/>
<line x1="1654" y1="1501.2" x2="1654" y2="1497.7" stroke="#231f20" stroke-width="2"/>
<line x1="1700" y1="1501.2" x2="1700" y2="1497.7" stroke="#231f20" stroke-width="2"/>
<line x1="1746" y1="1501.2" x2="1746" y2="1497.7" stroke="#231f20" stroke-width="2"/>
<text x="1607" y="1568.5" font-size="25.2" text-anchor="middle"><tspan font-style="italic">I</tspan> (mW mm<tspan font-size="15.5" dy="-8.5">-2</tspan><tspan dy="8.5">)</tspan></text>
<text x="0" y="0" transform="translate(1408.5 1344.4) rotate(-90)" font-size="24.8" text-anchor="middle">Spike latency (ms)</text>
<line x1="1492.9" y1="1289.6" x2="1492.9" y2="1330.2" stroke="#231f20" stroke-width="2.15"/>
<line x1="1484.2" y1="1289.6" x2="1501.6" y2="1289.6" stroke="#231f20" stroke-width="2.15"/>
<line x1="1484.2" y1="1330.2" x2="1501.6" y2="1330.2" stroke="#231f20" stroke-width="2.15"/>
<line x1="1539" y1="1307.9" x2="1539" y2="1339.3" stroke="#231f20" stroke-width="2.15"/>
<line x1="1530.3" y1="1307.9" x2="1547.7" y2="1307.9" stroke="#231f20" stroke-width="2.15"/>
<line x1="1530.3" y1="1339.3" x2="1547.7" y2="1339.3" stroke="#231f20" stroke-width="2.15"/>
<line x1="1585" y1="1312.2" x2="1585" y2="1348.3" stroke="#231f20" stroke-width="2.15"/>
<line x1="1576.3" y1="1312.2" x2="1593.7" y2="1312.2" stroke="#231f20" stroke-width="2.15"/>
<line x1="1576.3" y1="1348.3" x2="1593.7" y2="1348.3" stroke="#231f20" stroke-width="2.15"/>
<line x1="1630.8" y1="1325.1" x2="1630.8" y2="1366.3" stroke="#231f20" stroke-width="2.15"/>
<line x1="1622.1" y1="1325.1" x2="1639.5" y2="1325.1" stroke="#231f20" stroke-width="2.15"/>
<line x1="1622.1" y1="1366.3" x2="1639.5" y2="1366.3" stroke="#231f20" stroke-width="2.15"/>
<line x1="1676.5" y1="1415.4" x2="1676.5" y2="1435" stroke="#231f20" stroke-width="2.15"/>
<line x1="1667.8" y1="1415.4" x2="1685.2" y2="1415.4" stroke="#231f20" stroke-width="2.15"/>
<line x1="1667.8" y1="1435" x2="1685.2" y2="1435" stroke="#231f20" stroke-width="2.15"/>
<line x1="1722.6" y1="1441" x2="1722.6" y2="1456.7" stroke="#231f20" stroke-width="2.15"/>
<line x1="1713.9" y1="1441" x2="1731.3" y2="1441" stroke="#231f20" stroke-width="2.15"/>
<line x1="1713.9" y1="1456.7" x2="1731.3" y2="1456.7" stroke="#231f20" stroke-width="2.15"/>
<circle cx="1492.9" cy="1245.9" r="2.1" fill="#fff" stroke="#231f20" stroke-width="1.55"/>
<circle cx="1492.9" cy="1255.9" r="2.1" fill="#fff" stroke="#231f20" stroke-width="1.55"/>
<circle cx="1492.9" cy="1315.2" r="2.1" fill="#fff" stroke="#231f20" stroke-width="1.55"/>
<circle cx="1492.9" cy="1324.5" r="2.1" fill="#fff" stroke="#231f20" stroke-width="1.55"/>
<circle cx="1492.9" cy="1354.6" r="2.1" fill="#fff" stroke="#231f20" stroke-width="1.55"/>
<circle cx="1492.9" cy="1363.3" r="2.1" fill="#fff" stroke="#231f20" stroke-width="1.55"/>
<circle cx="1539" cy="1264.9" r="2.1" fill="#fff" stroke="#231f20" stroke-width="1.55"/>
<circle cx="1534.8" cy="1273.9" r="2.1" fill="#fff" stroke="#231f20" stroke-width="1.55"/>
<circle cx="1543.2" cy="1280" r="2.1" fill="#fff" stroke="#231f20" stroke-width="1.55"/>
<circle cx="1539" cy="1328.1" r="2.1" fill="#fff" stroke="#231f20" stroke-width="1.55"/>
<circle cx="1530.5" cy="1354.3" r="2.1" fill="#fff" stroke="#231f20" stroke-width="1.55"/>
<circle cx="1539" cy="1352.8" r="2.1" fill="#fff" stroke="#231f20" stroke-width="1.55"/>
<circle cx="1547.4" cy="1356.7" r="2.1" fill="#fff" stroke="#231f20" stroke-width="1.55"/>
<circle cx="1539" cy="1375.7" r="2.1" fill="#fff" stroke="#231f20" stroke-width="1.55"/>
<circle cx="1585" cy="1246.8" r="2.1" fill="#fff" stroke="#231f20" stroke-width="1.55"/>
<circle cx="1580.8" cy="1254.4" r="2.1" fill="#fff" stroke="#231f20" stroke-width="1.55"/>
<circle cx="1589.2" cy="1255.9" r="2.1" fill="#fff" stroke="#231f20" stroke-width="1.55"/>
<circle cx="1585" cy="1288.4" r="2.1" fill="#fff" stroke="#231f20" stroke-width="1.55"/>
<circle cx="1585" cy="1301" r="2.1" fill="#fff" stroke="#231f20" stroke-width="1.55"/>
<circle cx="1585" cy="1322.1" r="2.1" fill="#fff" stroke="#231f20" stroke-width="1.55"/>
<circle cx="1585" cy="1343.2" r="2.1" fill="#fff" stroke="#231f20" stroke-width="1.55"/>
<circle cx="1585" cy="1357.6" r="2.1" fill="#fff" stroke="#231f20" stroke-width="1.55"/>
<circle cx="1585" cy="1364.2" r="2.1" fill="#fff" stroke="#231f20" stroke-width="1.55"/>
<circle cx="1585" cy="1385.3" r="2.1" fill="#fff" stroke="#231f20" stroke-width="1.55"/>
<circle cx="1580.8" cy="1422.3" r="2.1" fill="#fff" stroke="#231f20" stroke-width="1.55"/>
<circle cx="1589.2" cy="1420.5" r="2.1" fill="#fff" stroke="#231f20" stroke-width="1.55"/>
<circle cx="1630.8" cy="1224.9" r="2.1" fill="#fff" stroke="#231f20" stroke-width="1.55"/>
<circle cx="1630.8" cy="1238.7" r="2.1" fill="#fff" stroke="#231f20" stroke-width="1.55"/>
<circle cx="1630.8" cy="1271.8" r="2.1" fill="#fff" stroke="#231f20" stroke-width="1.55"/>
<circle cx="1626.6" cy="1330.5" r="2.1" fill="#fff" stroke="#231f20" stroke-width="1.55"/>
<circle cx="1635" cy="1325.7" r="2.1" fill="#fff" stroke="#231f20" stroke-width="1.55"/>
<circle cx="1630.8" cy="1358.2" r="2.1" fill="#fff" stroke="#231f20" stroke-width="1.55"/>
<circle cx="1630.8" cy="1367.9" r="2.1" fill="#fff" stroke="#231f20" stroke-width="1.55"/>
<circle cx="1626.6" cy="1384.7" r="2.1" fill="#fff" stroke="#231f20" stroke-width="1.55"/>
<circle cx="1635" cy="1382.3" r="2.1" fill="#fff" stroke="#231f20" stroke-width="1.55"/>
<circle cx="1630.8" cy="1399.8" r="2.1" fill="#fff" stroke="#231f20" stroke-width="1.55"/>
<circle cx="1630.8" cy="1425.3" r="2.1" fill="#fff" stroke="#231f20" stroke-width="1.55"/>
<circle cx="1630.8" cy="1435.6" r="2.1" fill="#fff" stroke="#231f20" stroke-width="1.55"/>
<circle cx="1676.5" cy="1372.4" r="2.1" fill="#fff" stroke="#231f20" stroke-width="1.55"/>
<circle cx="1680.8" cy="1382.9" r="2.1" fill="#fff" stroke="#231f20" stroke-width="1.55"/>
<circle cx="1672.3" cy="1387.4" r="2.1" fill="#fff" stroke="#231f20" stroke-width="1.55"/>
<circle cx="1680.8" cy="1406.4" r="2.1" fill="#fff" stroke="#231f20" stroke-width="1.55"/>
<circle cx="1672.3" cy="1412.4" r="2.1" fill="#fff" stroke="#231f20" stroke-width="1.55"/>
<circle cx="1676.5" cy="1416.3" r="2.1" fill="#fff" stroke="#231f20" stroke-width="1.55"/>
<circle cx="1680.8" cy="1433.5" r="2.1" fill="#fff" stroke="#231f20" stroke-width="1.55"/>
<circle cx="1672.3" cy="1443.4" r="2.1" fill="#fff" stroke="#231f20" stroke-width="1.55"/>
<circle cx="1680.8" cy="1449.4" r="2.1" fill="#fff" stroke="#231f20" stroke-width="1.55"/>
<circle cx="1672.3" cy="1453" r="2.1" fill="#fff" stroke="#231f20" stroke-width="1.55"/>
<circle cx="1672.3" cy="1468.7" r="2.1" fill="#fff" stroke="#231f20" stroke-width="1.55"/>
<circle cx="1680.8" cy="1466.6" r="2.1" fill="#fff" stroke="#231f20" stroke-width="1.55"/>
<circle cx="1722.6" cy="1395.8" r="2.1" fill="#fff" stroke="#231f20" stroke-width="1.55"/>
<circle cx="1722.6" cy="1422.9" r="2.1" fill="#fff" stroke="#231f20" stroke-width="1.55"/>
<circle cx="1726.8" cy="1429" r="2.1" fill="#fff" stroke="#231f20" stroke-width="1.55"/>
<circle cx="1718.4" cy="1432" r="2.1" fill="#fff" stroke="#231f20" stroke-width="1.55"/>
<circle cx="1714.5" cy="1449.4" r="2.1" fill="#fff" stroke="#231f20" stroke-width="1.55"/>
<circle cx="1722.6" cy="1450.9" r="2.1" fill="#fff" stroke="#231f20" stroke-width="1.55"/>
<circle cx="1730.7" cy="1449.4" r="2.1" fill="#fff" stroke="#231f20" stroke-width="1.55"/>
<circle cx="1718.4" cy="1457.6" r="2.1" fill="#fff" stroke="#231f20" stroke-width="1.55"/>
<circle cx="1726.8" cy="1457.6" r="2.1" fill="#fff" stroke="#231f20" stroke-width="1.55"/>
<circle cx="1722.6" cy="1472.6" r="2.1" fill="#fff" stroke="#231f20" stroke-width="1.55"/>
<circle cx="1718.4" cy="1482.2" r="2.1" fill="#fff" stroke="#231f20" stroke-width="1.55"/>
<circle cx="1726.8" cy="1481.6" r="2.1" fill="#fff" stroke="#231f20" stroke-width="1.55"/>
<line x1="1490.2" y1="1036.4" x2="1719.3" y2="1036.4" stroke="#231f20" stroke-width="2"/>
<text x="1604.9" y="1038.4" font-size="24.5" text-anchor="middle">****</text>
<line x1="1490.2" y1="1060.2" x2="1671.1" y2="1060.2" stroke="#231f20" stroke-width="2"/>
<text x="1580.8" y="1062.2" font-size="24.5" text-anchor="middle">***</text>
<line x1="1539.6" y1="1084.3" x2="1719.3" y2="1084.3" stroke="#231f20" stroke-width="2"/>
<text x="1623.9" y="1086.3" font-size="24.5" text-anchor="middle">****</text>
<line x1="1539.6" y1="1108.4" x2="1671.1" y2="1108.4" stroke="#231f20" stroke-width="2"/>
<text x="1600.1" y="1110.4" font-size="24.5" text-anchor="middle">***</text>
<line x1="1583.8" y1="1131.8" x2="1719.3" y2="1131.8" stroke="#231f20" stroke-width="2"/>
<text x="1649.5" y="1133.8" font-size="24.5" text-anchor="middle">****</text>
<line x1="1583.8" y1="1156.2" x2="1671.1" y2="1156.2" stroke="#231f20" stroke-width="2"/>
<text x="1627.5" y="1158.2" font-size="24.5" text-anchor="middle">***</text>
<line x1="1632.6" y1="1179.7" x2="1719.3" y2="1179.7" stroke="#231f20" stroke-width="2"/>
<text x="1675.9" y="1181.7" font-size="24.5" text-anchor="middle">****</text>
<line x1="1632.6" y1="1202.6" x2="1676.2" y2="1202.6" stroke="#231f20" stroke-width="2"/>
<text x="1654.3" y="1204.6" font-size="24.5" text-anchor="middle">**</text>
<rect x="1874" y="1342.4" width="29.2" height="158.4" fill="#f2cdc0"/>
<rect x="1919.8" y="1402.9" width="29.2" height="97.9" fill="#e6a58f"/>
<rect x="1965.8" y="1422.2" width="29.2" height="78.6" fill="#d97b63"/>
<path d="M1866.5 1188.5V1500.8H2005" fill="none" stroke="#231f20" stroke-width="2.5"/>
<line x1="1866.5" y1="1500.8" x2="1873" y2="1500.8" stroke="#231f20" stroke-width="2"/>
<text x="1856.9" y="1509.5" font-size="24.5" text-anchor="end">0</text>
<line x1="1866.5" y1="1422.7" x2="1873" y2="1422.7" stroke="#231f20" stroke-width="2"/>
<text x="1856.9" y="1431.4" font-size="24.5" text-anchor="end">5</text>
<line x1="1866.5" y1="1344.7" x2="1873" y2="1344.7" stroke="#231f20" stroke-width="2"/>
<text x="1856.9" y="1353.3" font-size="24.5" text-anchor="end">10</text>
<line x1="1866.5" y1="1266.6" x2="1873" y2="1266.6" stroke="#231f20" stroke-width="2"/>
<text x="1856.9" y="1275.3" font-size="24.5" text-anchor="end">15</text>
<line x1="1866.5" y1="1188.5" x2="1873" y2="1188.5" stroke="#231f20" stroke-width="2"/>
<text x="1856.9" y="1197.2" font-size="24.5" text-anchor="end">20</text>
<text x="1889.1" y="1528" font-size="24.5" text-anchor="middle">0.03</text>
<text x="1934.9" y="1528" font-size="24.5" text-anchor="middle">0.1</text>
<text x="1980.9" y="1528" font-size="24.5" text-anchor="middle">0.25</text>
<line x1="1911.5" y1="1500.8" x2="1911.5" y2="1497.3" stroke="#231f20" stroke-width="2"/>
<line x1="1957.5" y1="1500.8" x2="1957.5" y2="1497.3" stroke="#231f20" stroke-width="2"/>
<line x1="2003.5" y1="1500.8" x2="2003.5" y2="1497.3" stroke="#231f20" stroke-width="2"/>
<text x="1934" y="1568.5" font-size="25.2" text-anchor="middle"><tspan font-style="italic">I</tspan> (mW mm<tspan font-size="15.5" dy="-8.5">-2</tspan><tspan dy="8.5">)</tspan></text>
<text x="0" y="0" transform="translate(1805 1345) rotate(-90)" font-size="24.8" text-anchor="middle">Spike latency (ms)</text>
<line x1="1888.8" y1="1313.2" x2="1888.8" y2="1370.4" stroke="#231f20" stroke-width="2.15"/>
<line x1="1880.1" y1="1313.2" x2="1897.5" y2="1313.2" stroke="#231f20" stroke-width="2.15"/>
<line x1="1880.1" y1="1370.4" x2="1897.5" y2="1370.4" stroke="#231f20" stroke-width="2.15"/>
<line x1="1934.5" y1="1389.1" x2="1934.5" y2="1416.2" stroke="#231f20" stroke-width="2.15"/>
<line x1="1925.8" y1="1389.1" x2="1943.2" y2="1389.1" stroke="#231f20" stroke-width="2.15"/>
<line x1="1925.8" y1="1416.2" x2="1943.2" y2="1416.2" stroke="#231f20" stroke-width="2.15"/>
<line x1="1980.3" y1="1412.6" x2="1980.3" y2="1431.5" stroke="#231f20" stroke-width="2.15"/>
<line x1="1971.6" y1="1412.6" x2="1989" y2="1412.6" stroke="#231f20" stroke-width="2.15"/>
<line x1="1971.6" y1="1431.5" x2="1989" y2="1431.5" stroke="#231f20" stroke-width="2.15"/>
<circle cx="1888.8" cy="1248.7" r="3.05" fill="#fff" stroke="#231f20" stroke-width="1.8"/>
<circle cx="1888.8" cy="1299.9" r="3.05" fill="#fff" stroke="#231f20" stroke-width="1.8"/>
<circle cx="1888.8" cy="1366.5" r="3.05" fill="#fff" stroke="#231f20" stroke-width="1.8"/>
<circle cx="1881.2" cy="1388.5" r="3.05" fill="#fff" stroke="#231f20" stroke-width="1.8"/>
<circle cx="1895.7" cy="1406.5" r="3.05" fill="#fff" stroke="#231f20" stroke-width="1.8"/>
<circle cx="1934.5" cy="1357.1" r="3.05" fill="#fff" stroke="#231f20" stroke-width="1.8"/>
<circle cx="1927.3" cy="1390.9" r="3.05" fill="#fff" stroke="#231f20" stroke-width="1.8"/>
<circle cx="1941.8" cy="1404.4" r="3.05" fill="#fff" stroke="#231f20" stroke-width="1.8"/>
<circle cx="1927.3" cy="1424.6" r="3.05" fill="#fff" stroke="#231f20" stroke-width="1.8"/>
<circle cx="1941.8" cy="1436" r="3.05" fill="#fff" stroke="#231f20" stroke-width="1.8"/>
<circle cx="1980.3" cy="1389.1" r="3.05" fill="#fff" stroke="#231f20" stroke-width="1.8"/>
<circle cx="1970.7" cy="1424.6" r="3.05" fill="#fff" stroke="#231f20" stroke-width="1.8"/>
<circle cx="1989.9" cy="1422.5" r="3.05" fill="#fff" stroke="#231f20" stroke-width="1.8"/>
<circle cx="1980.3" cy="1427.6" r="3.05" fill="#fff" stroke="#231f20" stroke-width="1.8"/>
<circle cx="1980.3" cy="1446.9" r="3.05" fill="#fff" stroke="#231f20" stroke-width="1.8"/>
<line x1="1888.5" y1="1209" x2="1982.7" y2="1209" stroke="#231f20" stroke-width="2"/>
<text x="1935.7" y="1211" font-size="24.5" text-anchor="middle">*</text>
<line x1="1936" y1="1319.2" x2="1980" y2="1319.2" stroke="#231f20" stroke-width="2"/>
<text x="1957.7" y="1313.7" font-size="24.5" text-anchor="middle">NS</text>
<rect x="133.2" y="1951.9" width="25.8" height="41.3" fill="#f2cdc0"/>
<rect x="165.9" y="1912.1" width="25.8" height="81.1" fill="#f2cdc0"/>
<rect x="165.9" y="1912.1" width="25.8" height="81.1" fill="url(#hatch)"/>
<rect x="230.5" y="1864.7" width="25.8" height="128.5" fill="#d1553f"/>
<rect x="262.3" y="1898.9" width="25.8" height="94.3" fill="#d1553f"/>
<rect x="262.3" y="1898.9" width="25.8" height="94.3" fill="url(#hatch)"/>
<rect x="326.9" y="1743.9" width="25.8" height="249.3" fill="#c4202a"/>
<rect x="358.7" y="1723.2" width="25.8" height="270" fill="#c4202a"/>
<rect x="358.7" y="1723.2" width="25.8" height="270" fill="url(#hatch)"/>
<rect x="423.5" y="1698.5" width="25.8" height="294.7" fill="#8f1838"/>
<rect x="455.4" y="1694.6" width="25.8" height="298.6" fill="#8f1838"/>
<rect x="455.4" y="1694.6" width="25.8" height="298.6" fill="url(#hatch)"/>
<path d="M114 1675.5V1993.2H501" fill="none" stroke="#231f20" stroke-width="2.5"/>
<line x1="114" y1="1993.2" x2="120.5" y2="1993.2" stroke="#231f20" stroke-width="2"/>
<text x="106.7" y="2001.9" font-size="24.5" text-anchor="end">0.0</text>
<line x1="114" y1="1932.8" x2="120.5" y2="1932.8" stroke="#231f20" stroke-width="2"/>
<text x="106.7" y="1941.5" font-size="24.5" text-anchor="end">0.2</text>
<line x1="114" y1="1872.4" x2="120.5" y2="1872.4" stroke="#231f20" stroke-width="2"/>
<text x="106.7" y="1881.1" font-size="24.5" text-anchor="end">0.4</text>
<line x1="114" y1="1811.9" x2="120.5" y2="1811.9" stroke="#231f20" stroke-width="2"/>
<text x="106.7" y="1820.6" font-size="24.5" text-anchor="end">0.6</text>
<line x1="114" y1="1751.5" x2="120.5" y2="1751.5" stroke="#231f20" stroke-width="2"/>
<text x="106.7" y="1760.2" font-size="24.5" text-anchor="end">0.8</text>
<line x1="114" y1="1691.1" x2="120.5" y2="1691.1" stroke="#231f20" stroke-width="2"/>
<text x="106.7" y="1699.8" font-size="24.5" text-anchor="end">1.0</text>
<text x="307" y="2060.3" font-size="25.2" text-anchor="middle"><tspan font-style="italic">I</tspan> (mW mm<tspan font-size="15.5" dy="-8.5">-2</tspan><tspan dy="8.5">)</tspan></text>
<text x="0" y="0" transform="translate(53 1835) rotate(-90)" font-size="24.5" text-anchor="middle">Spike probability</text>
<text x="161.5" y="2018" font-size="24.5" text-anchor="middle">200</text>
<text x="258.2" y="2018" font-size="24.5" text-anchor="middle">400</text>
<text x="355.7" y="2018" font-size="24.5" text-anchor="middle">800</text>
<text x="453" y="2018" font-size="24.5" text-anchor="middle">1600</text>
<line x1="198" y1="1993.2" x2="222.5" y2="1993.2" stroke="#231f20" stroke-width="3.4"/>
<line x1="294.7" y1="1993.2" x2="319.7" y2="1993.2" stroke="#231f20" stroke-width="3.4"/>
<line x1="391.4" y1="1993.2" x2="416.5" y2="1993.2" stroke="#231f20" stroke-width="3.4"/>
<line x1="133.2" y1="1993.2" x2="133.2" y2="1990" stroke="#231f20" stroke-width="1.6"/>
<line x1="162.5" y1="1993.2" x2="162.5" y2="1990" stroke="#231f20" stroke-width="1.6"/>
<line x1="195" y1="1993.2" x2="195" y2="1990" stroke="#231f20" stroke-width="1.6"/>
<line x1="230" y1="1993.2" x2="230" y2="1990" stroke="#231f20" stroke-width="1.6"/>
<line x1="259.5" y1="1993.2" x2="259.5" y2="1990" stroke="#231f20" stroke-width="1.6"/>
<line x1="291" y1="1993.2" x2="291" y2="1990" stroke="#231f20" stroke-width="1.6"/>
<line x1="326.5" y1="1993.2" x2="326.5" y2="1990" stroke="#231f20" stroke-width="1.6"/>
<line x1="355.5" y1="1993.2" x2="355.5" y2="1990" stroke="#231f20" stroke-width="1.6"/>
<line x1="388" y1="1993.2" x2="388" y2="1990" stroke="#231f20" stroke-width="1.6"/>
<line x1="423" y1="1993.2" x2="423" y2="1990" stroke="#231f20" stroke-width="1.6"/>
<line x1="452" y1="1993.2" x2="452" y2="1990" stroke="#231f20" stroke-width="1.6"/>
<line x1="484.5" y1="1993.2" x2="484.5" y2="1990" stroke="#231f20" stroke-width="1.6"/>
<line x1="146.2" y1="1926" x2="146.2" y2="1979" stroke="#231f20" stroke-width="2.15"/>
<line x1="138.2" y1="1926" x2="154.2" y2="1926" stroke="#231f20" stroke-width="2.15"/>
<line x1="138.2" y1="1979" x2="154.2" y2="1979" stroke="#231f20" stroke-width="2.15"/>
<line x1="178.3" y1="1860" x2="178.3" y2="1963.7" stroke="#231f20" stroke-width="2.15"/>
<line x1="170.3" y1="1860" x2="186.3" y2="1860" stroke="#231f20" stroke-width="2.15"/>
<line x1="170.3" y1="1963.7" x2="186.3" y2="1963.7" stroke="#231f20" stroke-width="2.15"/>
<line x1="242.9" y1="1822.8" x2="242.9" y2="1906.8" stroke="#231f20" stroke-width="2.15"/>
<line x1="234.9" y1="1822.8" x2="250.9" y2="1822.8" stroke="#231f20" stroke-width="2.15"/>
<line x1="234.9" y1="1906.8" x2="250.9" y2="1906.8" stroke="#231f20" stroke-width="2.15"/>
<line x1="275" y1="1847" x2="275" y2="1951.3" stroke="#231f20" stroke-width="2.15"/>
<line x1="267" y1="1847" x2="283" y2="1847" stroke="#231f20" stroke-width="2.15"/>
<line x1="267" y1="1951.3" x2="283" y2="1951.3" stroke="#231f20" stroke-width="2.15"/>
<line x1="339.5" y1="1715" x2="339.5" y2="1772.7" stroke="#231f20" stroke-width="2.15"/>
<line x1="331.5" y1="1715" x2="347.5" y2="1715" stroke="#231f20" stroke-width="2.15"/>
<line x1="331.5" y1="1772.7" x2="347.5" y2="1772.7" stroke="#231f20" stroke-width="2.15"/>
<line x1="371.7" y1="1710" x2="371.7" y2="1735.9" stroke="#231f20" stroke-width="2.15"/>
<line x1="363.7" y1="1710" x2="379.7" y2="1710" stroke="#231f20" stroke-width="2.15"/>
<line x1="363.7" y1="1735.9" x2="379.7" y2="1735.9" stroke="#231f20" stroke-width="2.15"/>
<line x1="436.2" y1="1696.1" x2="436.2" y2="1701.4" stroke="#231f20" stroke-width="2.15"/>
<line x1="428.2" y1="1696.1" x2="444.2" y2="1696.1" stroke="#231f20" stroke-width="2.15"/>
<line x1="428.2" y1="1701.4" x2="444.2" y2="1701.4" stroke="#231f20" stroke-width="2.15"/>
<line x1="468.3" y1="1693.7" x2="468.3" y2="1696.1" stroke="#231f20" stroke-width="2.15"/>
<line x1="460.3" y1="1693.7" x2="476.3" y2="1693.7" stroke="#231f20" stroke-width="2.15"/>
<line x1="460.3" y1="1696.1" x2="476.3" y2="1696.1" stroke="#231f20" stroke-width="2.15"/>
<circle cx="135.6" cy="1992.3" r="3.05" fill="#fff" stroke="#231f20" stroke-width="1.8"/>
<circle cx="140.9" cy="1993.2" r="3.05" fill="#fff" stroke="#231f20" stroke-width="1.8"/>
<circle cx="146.2" cy="1988.5" r="3.05" fill="#fff" stroke="#231f20" stroke-width="1.8"/>
<circle cx="151.2" cy="1992.3" r="3.05" fill="#fff" stroke="#231f20" stroke-width="1.8"/>
<circle cx="156.5" cy="1989.4" r="3.05" fill="#fff" stroke="#231f20" stroke-width="1.8"/>
<circle cx="146.2" cy="1896.5" r="3.05" fill="#fff" stroke="#231f20" stroke-width="1.8"/>
<circle cx="146.2" cy="1814" r="3.05" fill="#fff" stroke="#231f20" stroke-width="1.8"/>
<circle cx="168" cy="1990.8" r="3.05" fill="#fff" stroke="#231f20" stroke-width="1.8"/>
<circle cx="173.3" cy="1987.9" r="3.05" fill="#fff" stroke="#231f20" stroke-width="1.8"/>
<circle cx="177.7" cy="1993.2" r="3.05" fill="#fff" stroke="#231f20" stroke-width="1.8"/>
<circle cx="183" cy="1993.2" r="3.05" fill="#fff" stroke="#231f20" stroke-width="1.8"/>
<circle cx="188.3" cy="1992.3" r="3.05" fill="#fff" stroke="#231f20" stroke-width="1.8"/>
<circle cx="178.3" cy="1734.4" r="3.05" fill="#fff" stroke="#231f20" stroke-width="1.8"/>
<circle cx="178.3" cy="1691.1" r="3.05" fill="#fff" stroke="#231f20" stroke-width="1.8"/>
<circle cx="242.9" cy="1993.2" r="3.05" fill="#fff" stroke="#231f20" stroke-width="1.8"/>
<circle cx="242.9" cy="1947.2" r="3.05" fill="#fff" stroke="#231f20" stroke-width="1.8"/>
<circle cx="236.4" cy="1928.9" r="3.05" fill="#fff" stroke="#231f20" stroke-width="1.8"/>
<circle cx="249.3" cy="1921.6" r="3.05" fill="#fff" stroke="#231f20" stroke-width="1.8"/>
<circle cx="242.9" cy="1791" r="3.05" fill="#fff" stroke="#231f20" stroke-width="1.8"/>
<circle cx="242.9" cy="1779.5" r="3.05" fill="#fff" stroke="#231f20" stroke-width="1.8"/>
<circle cx="242.9" cy="1692" r="3.05" fill="#fff" stroke="#231f20" stroke-width="1.8"/>
<circle cx="265.3" cy="1992.3" r="3.05" fill="#fff" stroke="#231f20" stroke-width="1.8"/>
<circle cx="271.7" cy="1992.3" r="3.05" fill="#fff" stroke="#231f20" stroke-width="1.8"/>
<circle cx="278.2" cy="1984.9" r="3.05" fill="#fff" stroke="#231f20" stroke-width="1.8"/>
<circle cx="284.4" cy="1993.2" r="3.05" fill="#fff" stroke="#231f20" stroke-width="1.8"/>
<circle cx="275" cy="1931.9" r="3.05" fill="#fff" stroke="#231f20" stroke-width="1.8"/>
<circle cx="275" cy="1708.2" r="3.05" fill="#fff" stroke="#231f20" stroke-width="1.8"/>
<circle cx="275" cy="1691.1" r="3.05" fill="#fff" stroke="#231f20" stroke-width="1.8"/>
<circle cx="339.5" cy="1899.5" r="3.05" fill="#fff" stroke="#231f20" stroke-width="1.8"/>
<circle cx="339.5" cy="1782.5" r="3.05" fill="#fff" stroke="#231f20" stroke-width="1.8"/>
<circle cx="339.5" cy="1737.1" r="3.05" fill="#fff" stroke="#231f20" stroke-width="1.8"/>
<circle cx="331.3" cy="1710" r="3.05" fill="#fff" stroke="#231f20" stroke-width="1.8"/>
<circle cx="339.5" cy="1692.3" r="3.05" fill="#fff" stroke="#231f20" stroke-width="1.8"/>
<circle cx="339.5" cy="1691.1" r="3.05" fill="#fff" stroke="#231f20" stroke-width="1.8"/>
<circle cx="347.8" cy="1692.3" r="3.05" fill="#fff" stroke="#231f20" stroke-width="1.8"/>
<circle cx="365.5" cy="1763.9" r="3.05" fill="#fff" stroke="#231f20" stroke-width="1.8"/>
<circle cx="378.1" cy="1764.5" r="3.05" fill="#fff" stroke="#231f20" stroke-width="1.8"/>
<circle cx="365.5" cy="1731.5" r="3.05" fill="#fff" stroke="#231f20" stroke-width="1.8"/>
<circle cx="378.1" cy="1737.1" r="3.05" fill="#fff" stroke="#231f20" stroke-width="1.8"/>
<circle cx="365.5" cy="1693.2" r="3.05" fill="#fff" stroke="#231f20" stroke-width="1.8"/>
<circle cx="378.1" cy="1693.2" r="3.05" fill="#fff" stroke="#231f20" stroke-width="1.8"/>
<circle cx="371.7" cy="1680.5" r="3.05" fill="#fff" stroke="#231f20" stroke-width="1.8"/>
<circle cx="425.9" cy="1695.5" r="3.05" fill="#fff" stroke="#231f20" stroke-width="1.8"/>
<circle cx="433.3" cy="1691.1" r="3.05" fill="#fff" stroke="#231f20" stroke-width="1.8"/>
<circle cx="439.2" cy="1691.1" r="3.05" fill="#fff" stroke="#231f20" stroke-width="1.8"/>
<circle cx="442.1" cy="1694.9" r="3.05" fill="#fff" stroke="#231f20" stroke-width="1.8"/>
<circle cx="447.1" cy="1694.9" r="3.05" fill="#fff" stroke="#231f20" stroke-width="1.8"/>
<circle cx="430.9" cy="1707" r="3.05" fill="#fff" stroke="#231f20" stroke-width="1.8"/>
<circle cx="436.2" cy="1713.2" r="3.05" fill="#fff" stroke="#231f20" stroke-width="1.8"/>
<circle cx="458.3" cy="1692.3" r="3.05" fill="#fff" stroke="#231f20" stroke-width="1.8"/>
<circle cx="462.1" cy="1691.1" r="3.05" fill="#fff" stroke="#231f20" stroke-width="1.8"/>
<circle cx="468.3" cy="1691.1" r="3.05" fill="#fff" stroke="#231f20" stroke-width="1.8"/>
<circle cx="474.5" cy="1691.1" r="3.05" fill="#fff" stroke="#231f20" stroke-width="1.8"/>
<circle cx="478.4" cy="1694.9" r="3.05" fill="#fff" stroke="#231f20" stroke-width="1.8"/>
<circle cx="465.7" cy="1695.5" r="3.05" fill="#fff" stroke="#231f20" stroke-width="1.8"/>
<circle cx="472.2" cy="1695.5" r="3.05" fill="#fff" stroke="#231f20" stroke-width="1.8"/>
<line x1="146.5" y1="1660.1" x2="178.3" y2="1660.1" stroke="#231f20" stroke-width="2"/>
<text x="162.4" y="1654.6" font-size="24.5" text-anchor="middle">NS</text>
<line x1="243.7" y1="1660.1" x2="275.6" y2="1660.1" stroke="#231f20" stroke-width="2"/>
<text x="259.7" y="1654.6" font-size="24.5" text-anchor="middle">NS</text>
<line x1="340.4" y1="1660.1" x2="372" y2="1660.1" stroke="#231f20" stroke-width="2"/>
<text x="356" y="1654.6" font-size="24.5" text-anchor="middle">NS</text>
<line x1="437.1" y1="1660.1" x2="468.6" y2="1660.1" stroke="#231f20" stroke-width="2"/>
<text x="452.7" y="1654.6" font-size="24.5" text-anchor="middle">NS</text>
<rect x="681.8" y="1924.5" width="25.8" height="68.7" fill="#f2cdc0"/>
<rect x="713.9" y="1930.4" width="25.8" height="62.8" fill="#f2cdc0"/>
<rect x="713.9" y="1930.4" width="25.8" height="62.8" fill="url(#hatch)"/>
<rect x="778.7" y="1917.7" width="25.8" height="75.5" fill="#d1553f"/>
<rect x="810.6" y="1931.3" width="25.8" height="61.9" fill="#d1553f"/>
<rect x="810.6" y="1931.3" width="25.8" height="61.9" fill="url(#hatch)"/>
<rect x="875.4" y="1896.5" width="25.8" height="96.7" fill="#c4202a"/>
<rect x="907.2" y="1908.3" width="25.8" height="84.9" fill="#c4202a"/>
<rect x="907.2" y="1908.3" width="25.8" height="84.9" fill="url(#hatch)"/>
<rect x="972.1" y="1868.5" width="25.8" height="124.7" fill="#8f1838"/>
<rect x="1004.2" y="1857" width="25.8" height="136.2" fill="#8f1838"/>
<rect x="1004.2" y="1857" width="25.8" height="136.2" fill="url(#hatch)"/>
<path d="M662.6 1676.4V1993.2H1049.9" fill="none" stroke="#231f20" stroke-width="2.5"/>
<line x1="662.6" y1="1993.2" x2="669.1" y2="1993.2" stroke="#231f20" stroke-width="2"/>
<text x="655" y="2001.9" font-size="24.5" text-anchor="end">0</text>
<line x1="662.6" y1="1929.8" x2="669.1" y2="1929.8" stroke="#231f20" stroke-width="2"/>
<text x="655" y="1938.5" font-size="24.5" text-anchor="end">1</text>
<line x1="662.6" y1="1866.5" x2="669.1" y2="1866.5" stroke="#231f20" stroke-width="2"/>
<text x="655" y="1875.2" font-size="24.5" text-anchor="end">2</text>
<line x1="662.6" y1="1803.1" x2="669.1" y2="1803.1" stroke="#231f20" stroke-width="2"/>
<text x="655" y="1811.8" font-size="24.5" text-anchor="end">3</text>
<line x1="662.6" y1="1739.8" x2="669.1" y2="1739.8" stroke="#231f20" stroke-width="2"/>
<text x="655" y="1748.5" font-size="24.5" text-anchor="end">4</text>
<line x1="662.6" y1="1676.4" x2="669.1" y2="1676.4" stroke="#231f20" stroke-width="2"/>
<text x="655" y="1685.1" font-size="24.5" text-anchor="end">5</text>
<text x="857" y="2060.3" font-size="25.2" text-anchor="middle"><tspan font-style="italic">I</tspan> (mW mm<tspan font-size="15.5" dy="-8.5">-2</tspan><tspan dy="8.5">)</tspan></text>
<text x="0" y="0" transform="translate(610 1836) rotate(-90)" font-size="24.5" text-anchor="middle">Spikes per trial</text>
<text x="710.4" y="2018" font-size="24.5" text-anchor="middle">200</text>
<text x="807.3" y="2018" font-size="24.5" text-anchor="middle">400</text>
<text x="904.6" y="2018" font-size="24.5" text-anchor="middle">800</text>
<text x="1001.8" y="2018" font-size="24.5" text-anchor="middle">1600</text>
<line x1="746.5" y1="1993.2" x2="771.5" y2="1993.2" stroke="#231f20" stroke-width="3.4"/>
<line x1="843.5" y1="1993.2" x2="868.5" y2="1993.2" stroke="#231f20" stroke-width="3.4"/>
<line x1="940" y1="1993.2" x2="965" y2="1993.2" stroke="#231f20" stroke-width="3.4"/>
<line x1="678.5" y1="1993.2" x2="678.5" y2="1990" stroke="#231f20" stroke-width="1.6"/>
<line x1="711" y1="1993.2" x2="711" y2="1990" stroke="#231f20" stroke-width="1.6"/>
<line x1="743.5" y1="1993.2" x2="743.5" y2="1990" stroke="#231f20" stroke-width="1.6"/>
<line x1="775.5" y1="1993.2" x2="775.5" y2="1990" stroke="#231f20" stroke-width="1.6"/>
<line x1="807.5" y1="1993.2" x2="807.5" y2="1990" stroke="#231f20" stroke-width="1.6"/>
<line x1="840" y1="1993.2" x2="840" y2="1990" stroke="#231f20" stroke-width="1.6"/>
<line x1="872" y1="1993.2" x2="872" y2="1990" stroke="#231f20" stroke-width="1.6"/>
<line x1="904" y1="1993.2" x2="904" y2="1990" stroke="#231f20" stroke-width="1.6"/>
<line x1="937" y1="1993.2" x2="937" y2="1990" stroke="#231f20" stroke-width="1.6"/>
<line x1="969" y1="1993.2" x2="969" y2="1990" stroke="#231f20" stroke-width="1.6"/>
<line x1="1001" y1="1993.2" x2="1001" y2="1990" stroke="#231f20" stroke-width="1.6"/>
<line x1="1033.5" y1="1993.2" x2="1033.5" y2="1990" stroke="#231f20" stroke-width="1.6"/>
<line x1="694.7" y1="1918.6" x2="694.7" y2="1928.9" stroke="#231f20" stroke-width="2.15"/>
<line x1="686.7" y1="1918.6" x2="702.7" y2="1918.6" stroke="#231f20" stroke-width="2.15"/>
<line x1="686.7" y1="1928.9" x2="702.7" y2="1928.9" stroke="#231f20" stroke-width="2.15"/>
<line x1="726.9" y1="1926" x2="726.9" y2="1929.5" stroke="#231f20" stroke-width="2.15"/>
<line x1="718.9" y1="1926" x2="734.9" y2="1926" stroke="#231f20" stroke-width="2.15"/>
<line x1="718.9" y1="1929.5" x2="734.9" y2="1929.5" stroke="#231f20" stroke-width="2.15"/>
<line x1="791.4" y1="1908.9" x2="791.4" y2="1926" stroke="#231f20" stroke-width="2.15"/>
<line x1="783.4" y1="1908.9" x2="799.4" y2="1908.9" stroke="#231f20" stroke-width="2.15"/>
<line x1="783.4" y1="1926" x2="799.4" y2="1926" stroke="#231f20" stroke-width="2.15"/>
<line x1="888.1" y1="1879.7" x2="888.1" y2="1912.7" stroke="#231f20" stroke-width="2.15"/>
<line x1="880.1" y1="1879.7" x2="896.1" y2="1879.7" stroke="#231f20" stroke-width="2.15"/>
<line x1="880.1" y1="1912.7" x2="896.1" y2="1912.7" stroke="#231f20" stroke-width="2.15"/>
<line x1="920.2" y1="1897.4" x2="920.2" y2="1918" stroke="#231f20" stroke-width="2.15"/>
<line x1="912.2" y1="1897.4" x2="928.2" y2="1897.4" stroke="#231f20" stroke-width="2.15"/>
<line x1="912.2" y1="1918" x2="928.2" y2="1918" stroke="#231f20" stroke-width="2.15"/>
<line x1="984.8" y1="1842" x2="984.8" y2="1894.5" stroke="#231f20" stroke-width="2.15"/>
<line x1="976.8" y1="1842" x2="992.8" y2="1842" stroke="#231f20" stroke-width="2.15"/>
<line x1="976.8" y1="1894.5" x2="992.8" y2="1894.5" stroke="#231f20" stroke-width="2.15"/>
<line x1="1016.9" y1="1848.8" x2="1016.9" y2="1864.1" stroke="#231f20" stroke-width="2.15"/>
<line x1="1008.9" y1="1848.8" x2="1024.9" y2="1848.8" stroke="#231f20" stroke-width="2.15"/>
<line x1="1008.9" y1="1864.1" x2="1024.9" y2="1864.1" stroke="#231f20" stroke-width="2.15"/>
<circle cx="684.4" cy="1930.4" r="3.05" fill="#fff" stroke="#231f20" stroke-width="1.8"/>
<circle cx="689.7" cy="1930.4" r="3.05" fill="#fff" stroke="#231f20" stroke-width="1.8"/>
<circle cx="694.7" cy="1923" r="3.05" fill="#fff" stroke="#231f20" stroke-width="1.8"/>
<circle cx="700" cy="1930.4" r="3.05" fill="#fff" stroke="#231f20" stroke-width="1.8"/>
<circle cx="705.1" cy="1930.4" r="3.05" fill="#fff" stroke="#231f20" stroke-width="1.8"/>
<circle cx="694.7" cy="1898.9" r="3.05" fill="#fff" stroke="#231f20" stroke-width="1.8"/>
<circle cx="716.8" cy="1930.4" r="3.05" fill="#fff" stroke="#231f20" stroke-width="1.8"/>
<circle cx="721.9" cy="1930.4" r="3.05" fill="#fff" stroke="#231f20" stroke-width="1.8"/>
<circle cx="726.9" cy="1919.5" r="3.05" fill="#fff" stroke="#231f20" stroke-width="1.8"/>
<circle cx="732.2" cy="1930.4" r="3.05" fill="#fff" stroke="#231f20" stroke-width="1.8"/>
<circle cx="737.2" cy="1930.4" r="3.05" fill="#fff" stroke="#231f20" stroke-width="1.8"/>
<circle cx="781.1" cy="1930.4" r="3.05" fill="#fff" stroke="#231f20" stroke-width="1.8"/>
<circle cx="786.4" cy="1930.4" r="3.05" fill="#fff" stroke="#231f20" stroke-width="1.8"/>
<circle cx="791.4" cy="1908.9" r="3.05" fill="#fff" stroke="#231f20" stroke-width="1.8"/>
<circle cx="796.7" cy="1929.5" r="3.05" fill="#fff" stroke="#231f20" stroke-width="1.8"/>
<circle cx="801.7" cy="1929.5" r="3.05" fill="#fff" stroke="#231f20" stroke-width="1.8"/>
<circle cx="791.4" cy="1878" r="3.05" fill="#fff" stroke="#231f20" stroke-width="1.8"/>
<circle cx="813.2" cy="1930.4" r="3.05" fill="#fff" stroke="#231f20" stroke-width="1.8"/>
<circle cx="818.5" cy="1930.4" r="3.05" fill="#fff" stroke="#231f20" stroke-width="1.8"/>
<circle cx="822.1" cy="1922.5" r="3.05" fill="#fff" stroke="#231f20" stroke-width="1.8"/>
<circle cx="826.5" cy="1930.4" r="3.05" fill="#fff" stroke="#231f20" stroke-width="1.8"/>
<circle cx="830.3" cy="1930.4" r="3.05" fill="#fff" stroke="#231f20" stroke-width="1.8"/>
<circle cx="834.7" cy="1930.4" r="3.05" fill="#fff" stroke="#231f20" stroke-width="1.8"/>
<circle cx="888.1" cy="1815.5" r="3.05" fill="#fff" stroke="#231f20" stroke-width="1.8"/>
<circle cx="884.8" cy="1877.4" r="3.05" fill="#fff" stroke="#231f20" stroke-width="1.8"/>
<circle cx="891.9" cy="1877.4" r="3.05" fill="#fff" stroke="#231f20" stroke-width="1.8"/>
<circle cx="878.1" cy="1912.1" r="3.05" fill="#fff" stroke="#231f20" stroke-width="1.8"/>
<circle cx="884.8" cy="1930.4" r="3.05" fill="#fff" stroke="#231f20" stroke-width="1.8"/>
<circle cx="891.3" cy="1930.4" r="3.05" fill="#fff" stroke="#231f20" stroke-width="1.8"/>
<circle cx="897.8" cy="1930.4" r="3.05" fill="#fff" stroke="#231f20" stroke-width="1.8"/>
<circle cx="913.7" cy="1873.5" r="3.05" fill="#fff" stroke="#231f20" stroke-width="1.8"/>
<circle cx="920.2" cy="1881.2" r="3.05" fill="#fff" stroke="#231f20" stroke-width="1.8"/>
<circle cx="926.7" cy="1884.7" r="3.05" fill="#fff" stroke="#231f20" stroke-width="1.8"/>
<circle cx="910.8" cy="1928.4" r="3.05" fill="#fff" stroke="#231f20" stroke-width="1.8"/>
<circle cx="917.3" cy="1930.4" r="3.05" fill="#fff" stroke="#231f20" stroke-width="1.8"/>
<circle cx="923.7" cy="1929.8" r="3.05" fill="#fff" stroke="#231f20" stroke-width="1.8"/>
<circle cx="929.9" cy="1929.8" r="3.05" fill="#fff" stroke="#231f20" stroke-width="1.8"/>
<circle cx="984.8" cy="1735.3" r="3.05" fill="#fff" stroke="#231f20" stroke-width="1.8"/>
<circle cx="984.8" cy="1824.9" r="3.05" fill="#fff" stroke="#231f20" stroke-width="1.8"/>
<circle cx="984.8" cy="1864.7" r="3.05" fill="#fff" stroke="#231f20" stroke-width="1.8"/>
<circle cx="984.8" cy="1885.6" r="3.05" fill="#fff" stroke="#231f20" stroke-width="1.8"/>
<circle cx="993.3" cy="1912.1" r="3.05" fill="#fff" stroke="#231f20" stroke-width="1.8"/>
<circle cx="976.2" cy="1928.4" r="3.05" fill="#fff" stroke="#231f20" stroke-width="1.8"/>
<circle cx="984.8" cy="1928.1" r="3.05" fill="#fff" stroke="#231f20" stroke-width="1.8"/>
<circle cx="1012.5" cy="1833.7" r="3.05" fill="#fff" stroke="#231f20" stroke-width="1.8"/>
<circle cx="1021" cy="1834" r="3.05" fill="#fff" stroke="#231f20" stroke-width="1.8"/>
<circle cx="1021" cy="1840.5" r="3.05" fill="#fff" stroke="#231f20" stroke-width="1.8"/>
<circle cx="1012.5" cy="1864.1" r="3.05" fill="#fff" stroke="#231f20" stroke-width="1.8"/>
<circle cx="1025.4" cy="1871.5" r="3.05" fill="#fff" stroke="#231f20" stroke-width="1.8"/>
<circle cx="1016.9" cy="1873.5" r="3.05" fill="#fff" stroke="#231f20" stroke-width="1.8"/>
<circle cx="1008.3" cy="1884.1" r="3.05" fill="#fff" stroke="#231f20" stroke-width="1.8"/>
<line x1="699.2" y1="1660.1" x2="730.1" y2="1660.1" stroke="#231f20" stroke-width="2"/>
<text x="714.5" y="1654.6" font-size="24.5" text-anchor="middle">NS</text>
<line x1="795.5" y1="1660.1" x2="826.8" y2="1660.1" stroke="#231f20" stroke-width="2"/>
<text x="811.2" y="1654.6" font-size="24.5" text-anchor="middle">NS</text>
<line x1="892.2" y1="1660.1" x2="923.2" y2="1660.1" stroke="#231f20" stroke-width="2"/>
<text x="907.5" y="1654.6" font-size="24.5" text-anchor="middle">NS</text>
<line x1="988.9" y1="1660.1" x2="1019.8" y2="1660.1" stroke="#231f20" stroke-width="2"/>
<text x="1004.2" y="1654.6" font-size="24.5" text-anchor="middle">NS</text>
<rect x="1242.9" y="1850.2" width="25.8" height="143" fill="#f2cdc0"/>
<rect x="1275.4" y="1820.2" width="25.8" height="173" fill="#f2cdc0"/>
<rect x="1275.4" y="1820.2" width="25.8" height="173" fill="url(#hatch)"/>
<rect x="1339.9" y="1820.2" width="25.8" height="173" fill="#d1553f"/>
<rect x="1372" y="1826.4" width="25.8" height="166.8" fill="#d1553f"/>
<rect x="1372" y="1826.4" width="25.8" height="166.8" fill="url(#hatch)"/>
<rect x="1436.9" y="1846.7" width="25.8" height="146.5" fill="#c4202a"/>
<rect x="1468.7" y="1888" width="25.8" height="105.2" fill="#c4202a"/>
<rect x="1468.7" y="1888" width="25.8" height="105.2" fill="url(#hatch)"/>
<rect x="1533.3" y="1908" width="25.8" height="85.2" fill="#8f1838"/>
<rect x="1565.4" y="1924.2" width="25.8" height="69" fill="#8f1838"/>
<rect x="1565.4" y="1924.2" width="25.8" height="69" fill="url(#hatch)"/>
<path d="M1223.8 1676.4V1993.2H1610.8" fill="none" stroke="#231f20" stroke-width="2.5"/>
<line x1="1223.8" y1="1993.2" x2="1230.3" y2="1993.2" stroke="#231f20" stroke-width="2"/>
<text x="1215.9" y="2001.9" font-size="24.5" text-anchor="end">0</text>
<line x1="1223.8" y1="1929.8" x2="1230.3" y2="1929.8" stroke="#231f20" stroke-width="2"/>
<text x="1215.9" y="1938.5" font-size="24.5" text-anchor="end">5</text>
<line x1="1223.8" y1="1866.5" x2="1230.3" y2="1866.5" stroke="#231f20" stroke-width="2"/>
<text x="1215.9" y="1875.2" font-size="24.5" text-anchor="end">10</text>
<line x1="1223.8" y1="1803.1" x2="1230.3" y2="1803.1" stroke="#231f20" stroke-width="2"/>
<text x="1215.9" y="1811.8" font-size="24.5" text-anchor="end">15</text>
<line x1="1223.8" y1="1739.8" x2="1230.3" y2="1739.8" stroke="#231f20" stroke-width="2"/>
<text x="1215.9" y="1748.5" font-size="24.5" text-anchor="end">20</text>
<line x1="1223.8" y1="1676.4" x2="1230.3" y2="1676.4" stroke="#231f20" stroke-width="2"/>
<text x="1215.9" y="1685.1" font-size="24.5" text-anchor="end">25</text>
<text x="1414" y="2060.3" font-size="25.2" text-anchor="middle"><tspan font-style="italic">I</tspan> (mW mm<tspan font-size="15.5" dy="-8.5">-2</tspan><tspan dy="8.5">)</tspan></text>
<text x="0" y="0" transform="translate(1171 1836) rotate(-90)" font-size="24.8" text-anchor="middle">Spike latency (ms)</text>
<text x="1267.4" y="2018" font-size="24.5" text-anchor="middle">200</text>
<text x="1364.4" y="2018" font-size="24.5" text-anchor="middle">400</text>
<text x="1461.6" y="2018" font-size="24.5" text-anchor="middle">800</text>
<text x="1558.9" y="2018" font-size="24.5" text-anchor="middle">1600</text>
<line x1="1308" y1="1993.2" x2="1333" y2="1993.2" stroke="#231f20" stroke-width="3.4"/>
<line x1="1404.5" y1="1993.2" x2="1429.5" y2="1993.2" stroke="#231f20" stroke-width="3.4"/>
<line x1="1501.5" y1="1993.2" x2="1526.5" y2="1993.2" stroke="#231f20" stroke-width="3.4"/>
<line x1="1239.5" y1="1993.2" x2="1239.5" y2="1990" stroke="#231f20" stroke-width="1.6"/>
<line x1="1272" y1="1993.2" x2="1272" y2="1990" stroke="#231f20" stroke-width="1.6"/>
<line x1="1304.5" y1="1993.2" x2="1304.5" y2="1990" stroke="#231f20" stroke-width="1.6"/>
<line x1="1336.5" y1="1993.2" x2="1336.5" y2="1990" stroke="#231f20" stroke-width="1.6"/>
<line x1="1368.5" y1="1993.2" x2="1368.5" y2="1990" stroke="#231f20" stroke-width="1.6"/>
<line x1="1401" y1="1993.2" x2="1401" y2="1990" stroke="#231f20" stroke-width="1.6"/>
<line x1="1433.5" y1="1993.2" x2="1433.5" y2="1990" stroke="#231f20" stroke-width="1.6"/>
<line x1="1465.5" y1="1993.2" x2="1465.5" y2="1990" stroke="#231f20" stroke-width="1.6"/>
<line x1="1498" y1="1993.2" x2="1498" y2="1990" stroke="#231f20" stroke-width="1.6"/>
<line x1="1530" y1="1993.2" x2="1530" y2="1990" stroke="#231f20" stroke-width="1.6"/>
<line x1="1562" y1="1993.2" x2="1562" y2="1990" stroke="#231f20" stroke-width="1.6"/>
<line x1="1594.5" y1="1993.2" x2="1594.5" y2="1990" stroke="#231f20" stroke-width="1.6"/>
<line x1="1255.9" y1="1822" x2="1255.9" y2="1878.8" stroke="#231f20" stroke-width="2.15"/>
<line x1="1247.9" y1="1822" x2="1263.9" y2="1822" stroke="#231f20" stroke-width="2.15"/>
<line x1="1247.9" y1="1878.8" x2="1263.9" y2="1878.8" stroke="#231f20" stroke-width="2.15"/>
<line x1="1288" y1="1806.6" x2="1288" y2="1832.6" stroke="#231f20" stroke-width="2.15"/>
<line x1="1280" y1="1806.6" x2="1296" y2="1806.6" stroke="#231f20" stroke-width="2.15"/>
<line x1="1280" y1="1832.6" x2="1296" y2="1832.6" stroke="#231f20" stroke-width="2.15"/>
<line x1="1352.6" y1="1776.9" x2="1352.6" y2="1862" stroke="#231f20" stroke-width="2.15"/>
<line x1="1344.6" y1="1776.9" x2="1360.6" y2="1776.9" stroke="#231f20" stroke-width="2.15"/>
<line x1="1344.6" y1="1862" x2="1360.6" y2="1862" stroke="#231f20" stroke-width="2.15"/>
<line x1="1384.7" y1="1810.2" x2="1384.7" y2="1842" stroke="#231f20" stroke-width="2.15"/>
<line x1="1376.7" y1="1810.2" x2="1392.7" y2="1810.2" stroke="#231f20" stroke-width="2.15"/>
<line x1="1376.7" y1="1842" x2="1392.7" y2="1842" stroke="#231f20" stroke-width="2.15"/>
<line x1="1449.6" y1="1820.8" x2="1449.6" y2="1872.4" stroke="#231f20" stroke-width="2.15"/>
<line x1="1441.6" y1="1820.8" x2="1457.6" y2="1820.8" stroke="#231f20" stroke-width="2.15"/>
<line x1="1441.6" y1="1872.4" x2="1457.6" y2="1872.4" stroke="#231f20" stroke-width="2.15"/>
<line x1="1481.7" y1="1873.8" x2="1481.7" y2="1901.8" stroke="#231f20" stroke-width="2.15"/>
<line x1="1473.7" y1="1873.8" x2="1489.7" y2="1873.8" stroke="#231f20" stroke-width="2.15"/>
<line x1="1473.7" y1="1901.8" x2="1489.7" y2="1901.8" stroke="#231f20" stroke-width="2.15"/>
<line x1="1545.9" y1="1899.5" x2="1545.9" y2="1916.6" stroke="#231f20" stroke-width="2.15"/>
<line x1="1537.9" y1="1899.5" x2="1553.9" y2="1899.5" stroke="#231f20" stroke-width="2.15"/>
<line x1="1537.9" y1="1916.6" x2="1553.9" y2="1916.6" stroke="#231f20" stroke-width="2.15"/>
<line x1="1578.4" y1="1918.6" x2="1578.4" y2="1931.3" stroke="#231f20" stroke-width="2.15"/>
<line x1="1570.4" y1="1918.6" x2="1586.4" y2="1918.6" stroke="#231f20" stroke-width="2.15"/>
<line x1="1570.4" y1="1931.3" x2="1586.4" y2="1931.3" stroke="#231f20" stroke-width="2.15"/>
<circle cx="1255.9" cy="1744.7" r="3.05" fill="#fff" stroke="#231f20" stroke-width="1.8"/>
<circle cx="1255.9" cy="1845.8" r="3.05" fill="#fff" stroke="#231f20" stroke-width="1.8"/>
<circle cx="1262.4" cy="1868.8" r="3.05" fill="#fff" stroke="#231f20" stroke-width="1.8"/>
<circle cx="1249.4" cy="1879.7" r="3.05" fill="#fff" stroke="#231f20" stroke-width="1.8"/>
<circle cx="1255.9" cy="1911.3" r="3.05" fill="#fff" stroke="#231f20" stroke-width="1.8"/>
<circle cx="1281.6" cy="1777.7" r="3.05" fill="#fff" stroke="#231f20" stroke-width="1.8"/>
<circle cx="1294.5" cy="1787.5" r="3.05" fill="#fff" stroke="#231f20" stroke-width="1.8"/>
<circle cx="1288" cy="1816.1" r="3.05" fill="#fff" stroke="#231f20" stroke-width="1.8"/>
<circle cx="1281.6" cy="1842" r="3.05" fill="#fff" stroke="#231f20" stroke-width="1.8"/>
<circle cx="1288" cy="1842" r="3.05" fill="#fff" stroke="#231f20" stroke-width="1.8"/>
<circle cx="1294.5" cy="1854.4" r="3.05" fill="#fff" stroke="#231f20" stroke-width="1.8"/>
<circle cx="1352.6" cy="1713.8" r="3.05" fill="#fff" stroke="#231f20" stroke-width="1.8"/>
<circle cx="1352.6" cy="1718.8" r="3.05" fill="#fff" stroke="#231f20" stroke-width="1.8"/>
<circle cx="1346.1" cy="1812.5" r="3.05" fill="#fff" stroke="#231f20" stroke-width="1.8"/>
<circle cx="1359.1" cy="1809.6" r="3.05" fill="#fff" stroke="#231f20" stroke-width="1.8"/>
<circle cx="1352.6" cy="1869.4" r="3.05" fill="#fff" stroke="#231f20" stroke-width="1.8"/>
<circle cx="1352.6" cy="1993.8" r="3.05" fill="#fff" stroke="#231f20" stroke-width="1.8"/>
<circle cx="1381.5" cy="1792.2" r="3.05" fill="#fff" stroke="#231f20" stroke-width="1.8"/>
<circle cx="1375" cy="1801.6" r="3.05" fill="#fff" stroke="#231f20" stroke-width="1.8"/>
<circle cx="1388" cy="1807.2" r="3.05" fill="#fff" stroke="#231f20" stroke-width="1.8"/>
<circle cx="1394.4" cy="1805.7" r="3.05" fill="#fff" stroke="#231f20" stroke-width="1.8"/>
<circle cx="1381.5" cy="1872.4" r="3.05" fill="#fff" stroke="#231f20" stroke-width="1.8"/>
<circle cx="1388" cy="1878.2" r="3.05" fill="#fff" stroke="#231f20" stroke-width="1.8"/>
<circle cx="1449.6" cy="1757.1" r="3.05" fill="#fff" stroke="#231f20" stroke-width="1.8"/>
<circle cx="1449.6" cy="1776.3" r="3.05" fill="#fff" stroke="#231f20" stroke-width="1.8"/>
<circle cx="1449.6" cy="1802.2" r="3.05" fill="#fff" stroke="#231f20" stroke-width="1.8"/>
<circle cx="1449.6" cy="1858.2" r="3.05" fill="#fff" stroke="#231f20" stroke-width="1.8"/>
<circle cx="1449.6" cy="1890.6" r="3.05" fill="#fff" stroke="#231f20" stroke-width="1.8"/>
<circle cx="1449.6" cy="1910.4" r="3.05" fill="#fff" stroke="#231f20" stroke-width="1.8"/>
<circle cx="1449.6" cy="1931.9" r="3.05" fill="#fff" stroke="#231f20" stroke-width="1.8"/>
<circle cx="1481.7" cy="1844.4" r="3.05" fill="#fff" stroke="#231f20" stroke-width="1.8"/>
<circle cx="1472.8" cy="1855.3" r="3.05" fill="#fff" stroke="#231f20" stroke-width="1.8"/>
<circle cx="1489.9" cy="1848.5" r="3.05" fill="#fff" stroke="#231f20" stroke-width="1.8"/>
<circle cx="1477.3" cy="1906" r="3.05" fill="#fff" stroke="#231f20" stroke-width="1.8"/>
<circle cx="1485.5" cy="1914.8" r="3.05" fill="#fff" stroke="#231f20" stroke-width="1.8"/>
<circle cx="1477.3" cy="1922.5" r="3.05" fill="#fff" stroke="#231f20" stroke-width="1.8"/>
<circle cx="1485.5" cy="1926.6" r="3.05" fill="#fff" stroke="#231f20" stroke-width="1.8"/>
<circle cx="1545.9" cy="1872.1" r="3.05" fill="#fff" stroke="#231f20" stroke-width="1.8"/>
<circle cx="1536.2" cy="1898.9" r="3.05" fill="#fff" stroke="#231f20" stroke-width="1.8"/>
<circle cx="1542.7" cy="1896.5" r="3.05" fill="#fff" stroke="#231f20" stroke-width="1.8"/>
<circle cx="1555.7" cy="1906.8" r="3.05" fill="#fff" stroke="#231f20" stroke-width="1.8"/>
<circle cx="1549.2" cy="1916.6" r="3.05" fill="#fff" stroke="#231f20" stroke-width="1.8"/>
<circle cx="1549.2" cy="1924.5" r="3.05" fill="#fff" stroke="#231f20" stroke-width="1.8"/>
<circle cx="1542.7" cy="1940.1" r="3.05" fill="#fff" stroke="#231f20" stroke-width="1.8"/>
<circle cx="1586.9" cy="1892.7" r="3.05" fill="#fff" stroke="#231f20" stroke-width="1.8"/>
<circle cx="1569.8" cy="1917.2" r="3.05" fill="#fff" stroke="#231f20" stroke-width="1.8"/>
<circle cx="1578.4" cy="1915.1" r="3.05" fill="#fff" stroke="#231f20" stroke-width="1.8"/>
<circle cx="1586.9" cy="1922.5" r="3.05" fill="#fff" stroke="#231f20" stroke-width="1.8"/>
<circle cx="1569.8" cy="1935.4" r="3.05" fill="#fff" stroke="#231f20" stroke-width="1.8"/>
<circle cx="1578.4" cy="1942.2" r="3.05" fill="#fff" stroke="#231f20" stroke-width="1.8"/>
<circle cx="1578.4" cy="1946" r="3.05" fill="#fff" stroke="#231f20" stroke-width="1.8"/>
<line x1="1256.8" y1="1660.1" x2="1288" y2="1660.1" stroke="#231f20" stroke-width="2"/>
<text x="1272.4" y="1654.6" font-size="24.5" text-anchor="middle">NS</text>
<line x1="1353.5" y1="1660.1" x2="1384.7" y2="1660.1" stroke="#231f20" stroke-width="2"/>
<text x="1368.8" y="1654.6" font-size="24.5" text-anchor="middle">NS</text>
<line x1="1450.1" y1="1660.1" x2="1481.4" y2="1660.1" stroke="#231f20" stroke-width="2"/>
<text x="1465.5" y="1654.6" font-size="24.5" text-anchor="middle">NS</text>
<line x1="1546.5" y1="1660.1" x2="1577.8" y2="1660.1" stroke="#231f20" stroke-width="2"/>
<text x="1561.8" y="1654.6" font-size="24.5" text-anchor="middle">NS</text>
</svg>
</body></html>
